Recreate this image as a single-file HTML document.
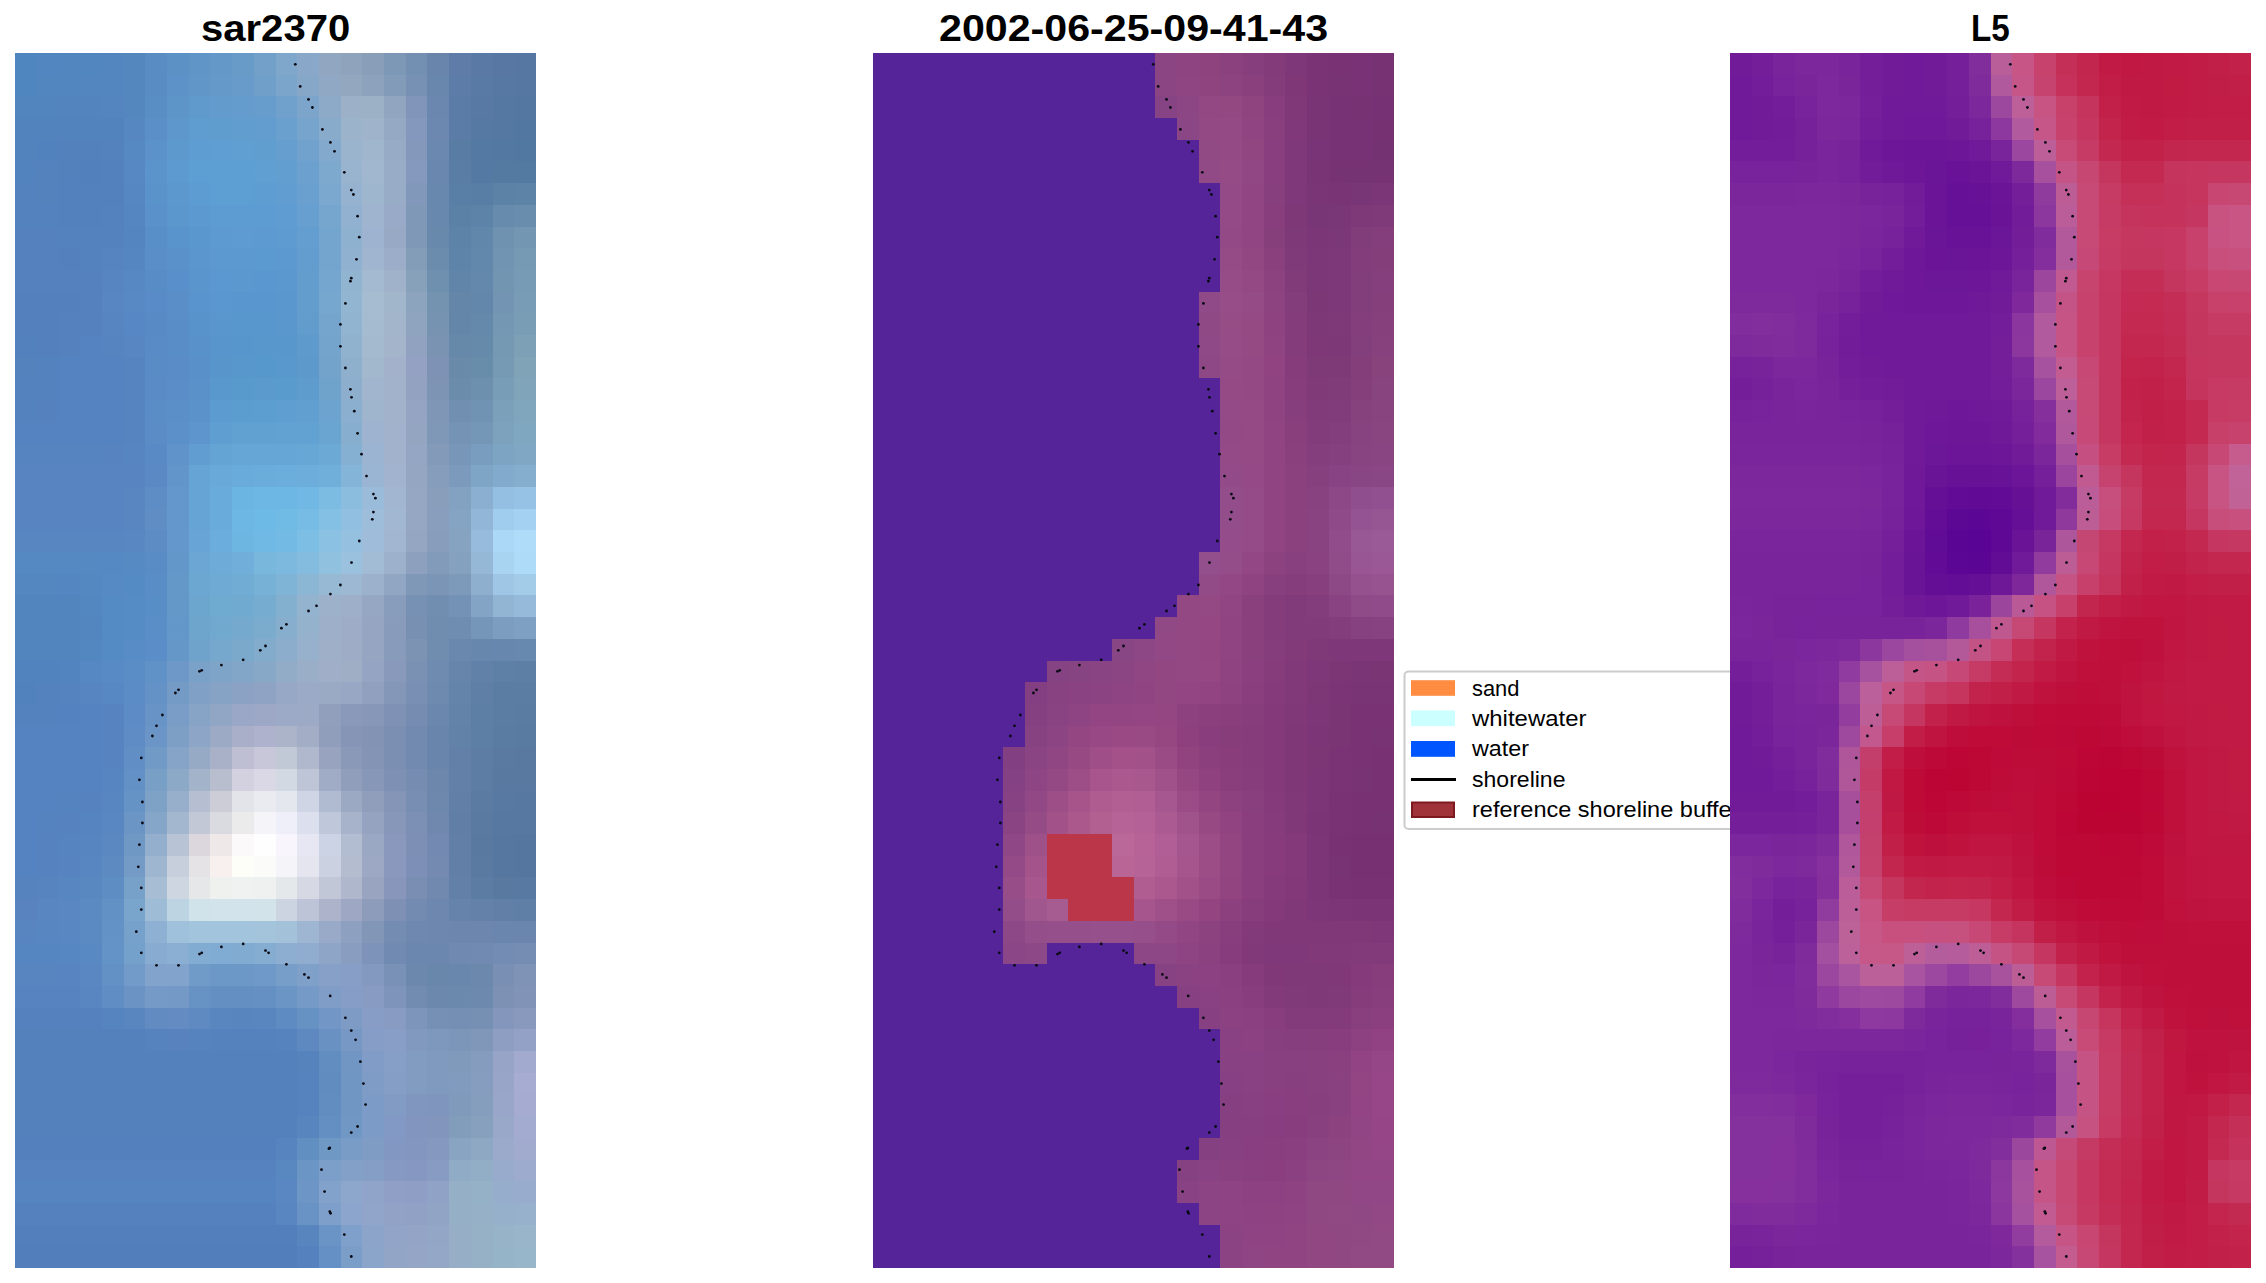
<!DOCTYPE html>
<html><head><meta charset="utf-8"><title>figure</title>
<style>
html,body{margin:0;padding:0;background:#fff;}
body{width:2266px;height:1283px;overflow:hidden;font-family:"Liberation Sans",sans-serif;}
svg{display:block;}
text{font-family:"Liberation Sans",sans-serif;}
body{position:relative;}
svg{position:absolute;left:0;top:0;}
.t{position:absolute;font-weight:bold;font-size:36.5px;line-height:36.5px;white-space:nowrap;color:#000;transform-origin:0 0;}
#lg{position:absolute;left:1404px;top:672px;width:326px;height:156px;overflow:hidden;}
.l{position:absolute;left:67.5px;font-size:22.6px;line-height:22.6px;white-space:nowrap;color:#000;transform-origin:0 0;}
</style></head><body>
<svg width="2266" height="1283" viewBox="0 0 2266 1283" shape-rendering="crispEdges">
<rect x="0" y="0" width="2266" height="1283" fill="#ffffff"/>
<g id="p1">
<rect x="15.00" y="53.00" width="22.21" height="22.20" fill="#5086c0"/>
<rect x="36.71" y="53.00" width="22.21" height="22.20" fill="#5186c0"/>
<rect x="58.42" y="53.00" width="43.92" height="22.20" fill="#5286bf"/>
<rect x="101.83" y="53.00" width="22.21" height="22.20" fill="#5386be"/>
<rect x="123.54" y="53.00" width="22.21" height="22.20" fill="#5587bf"/>
<rect x="145.25" y="53.00" width="22.21" height="22.20" fill="#588cc3"/>
<rect x="166.96" y="53.00" width="22.21" height="22.20" fill="#5c91c6"/>
<rect x="188.67" y="53.00" width="22.21" height="22.20" fill="#6095c7"/>
<rect x="210.38" y="53.00" width="22.21" height="22.20" fill="#6498c8"/>
<rect x="232.08" y="53.00" width="22.21" height="22.20" fill="#699bc8"/>
<rect x="253.79" y="53.00" width="22.21" height="22.20" fill="#73a0c9"/>
<rect x="275.50" y="53.00" width="22.21" height="22.20" fill="#7fa6cb"/>
<rect x="297.21" y="53.00" width="22.21" height="22.20" fill="#89a7c8"/>
<rect x="318.92" y="53.00" width="22.21" height="22.20" fill="#90a6c1"/>
<rect x="340.62" y="53.00" width="22.21" height="22.20" fill="#90a3bd"/>
<rect x="362.33" y="53.00" width="22.21" height="22.20" fill="#889eb9"/>
<rect x="384.04" y="53.00" width="22.21" height="22.20" fill="#7d98b6"/>
<rect x="405.75" y="53.00" width="22.21" height="22.20" fill="#738fb2"/>
<rect x="427.46" y="53.00" width="22.21" height="22.20" fill="#6985ac"/>
<rect x="449.17" y="53.00" width="22.21" height="22.20" fill="#5e7ca7"/>
<rect x="470.88" y="53.00" width="22.21" height="22.20" fill="#5a7aa5"/>
<rect x="492.58" y="53.00" width="22.21" height="22.20" fill="#5878a3"/>
<rect x="514.29" y="53.00" width="21.71" height="22.20" fill="#5677a2"/>
<rect x="15.00" y="74.70" width="22.21" height="22.20" fill="#5086bf"/>
<rect x="36.71" y="74.70" width="22.21" height="22.20" fill="#5186bf"/>
<rect x="58.42" y="74.70" width="22.21" height="22.20" fill="#5286bf"/>
<rect x="80.12" y="74.70" width="22.21" height="22.20" fill="#5386bf"/>
<rect x="101.83" y="74.70" width="22.21" height="22.20" fill="#5386be"/>
<rect x="123.54" y="74.70" width="22.21" height="22.20" fill="#5587bf"/>
<rect x="145.25" y="74.70" width="22.21" height="22.20" fill="#588cc3"/>
<rect x="166.96" y="74.70" width="22.21" height="22.20" fill="#5c92c7"/>
<rect x="188.67" y="74.70" width="22.21" height="22.20" fill="#6096c8"/>
<rect x="210.38" y="74.70" width="22.21" height="22.20" fill="#6499c9"/>
<rect x="232.08" y="74.70" width="22.21" height="22.20" fill="#689bc9"/>
<rect x="253.79" y="74.70" width="22.21" height="22.20" fill="#70a0ca"/>
<rect x="275.50" y="74.70" width="22.21" height="22.20" fill="#7ca5cb"/>
<rect x="297.21" y="74.70" width="22.21" height="22.20" fill="#87a7c8"/>
<rect x="318.92" y="74.70" width="22.21" height="22.20" fill="#90a8c3"/>
<rect x="340.62" y="74.70" width="22.21" height="22.20" fill="#93a7bf"/>
<rect x="362.33" y="74.70" width="22.21" height="22.20" fill="#8da2bd"/>
<rect x="384.04" y="74.70" width="22.21" height="22.20" fill="#829bb9"/>
<rect x="405.75" y="74.70" width="22.21" height="22.20" fill="#7691b4"/>
<rect x="427.46" y="74.70" width="22.21" height="22.20" fill="#6986ad"/>
<rect x="449.17" y="74.70" width="22.21" height="22.20" fill="#5d7ca7"/>
<rect x="470.88" y="74.70" width="22.21" height="22.20" fill="#597aa4"/>
<rect x="492.58" y="74.70" width="22.21" height="22.20" fill="#5778a3"/>
<rect x="514.29" y="74.70" width="21.71" height="22.20" fill="#5677a2"/>
<rect x="15.00" y="96.39" width="43.92" height="22.20" fill="#5284bd"/>
<rect x="58.42" y="96.39" width="43.92" height="22.20" fill="#5384bd"/>
<rect x="101.83" y="96.39" width="22.21" height="22.20" fill="#5485be"/>
<rect x="123.54" y="96.39" width="22.21" height="22.20" fill="#5587bf"/>
<rect x="145.25" y="96.39" width="22.21" height="22.20" fill="#598ec5"/>
<rect x="166.96" y="96.39" width="22.21" height="22.20" fill="#5d95c9"/>
<rect x="188.67" y="96.39" width="22.21" height="22.20" fill="#6099cc"/>
<rect x="210.38" y="96.39" width="22.21" height="22.20" fill="#629bcc"/>
<rect x="232.08" y="96.39" width="22.21" height="22.20" fill="#639ccd"/>
<rect x="253.79" y="96.39" width="22.21" height="22.20" fill="#679dcc"/>
<rect x="275.50" y="96.39" width="22.21" height="22.20" fill="#70a1cc"/>
<rect x="297.21" y="96.39" width="22.21" height="22.20" fill="#7da5cc"/>
<rect x="318.92" y="96.39" width="22.21" height="22.20" fill="#8dabc9"/>
<rect x="340.62" y="96.39" width="22.21" height="22.20" fill="#9cb1c7"/>
<rect x="362.33" y="96.39" width="22.21" height="22.20" fill="#9cb0c6"/>
<rect x="384.04" y="96.39" width="22.21" height="22.20" fill="#91a5c1"/>
<rect x="405.75" y="96.39" width="22.21" height="22.20" fill="#8195ba"/>
<rect x="427.46" y="96.39" width="22.21" height="22.20" fill="#6c87af"/>
<rect x="449.17" y="96.39" width="22.21" height="22.20" fill="#5b7ca6"/>
<rect x="470.88" y="96.39" width="22.21" height="22.20" fill="#5779a4"/>
<rect x="492.58" y="96.39" width="22.21" height="22.20" fill="#5578a2"/>
<rect x="514.29" y="96.39" width="21.71" height="22.20" fill="#5477a1"/>
<rect x="15.00" y="118.09" width="43.92" height="22.20" fill="#5283bd"/>
<rect x="58.42" y="118.09" width="65.62" height="22.20" fill="#5383bd"/>
<rect x="123.54" y="118.09" width="22.21" height="22.20" fill="#5687c1"/>
<rect x="145.25" y="118.09" width="22.21" height="22.20" fill="#5a90c7"/>
<rect x="166.96" y="118.09" width="22.21" height="22.20" fill="#5d97cb"/>
<rect x="188.67" y="118.09" width="22.21" height="22.20" fill="#5f9ccf"/>
<rect x="210.38" y="118.09" width="22.21" height="22.20" fill="#609dcf"/>
<rect x="232.08" y="118.09" width="22.21" height="22.20" fill="#619dcf"/>
<rect x="253.79" y="118.09" width="22.21" height="22.20" fill="#639dcf"/>
<rect x="275.50" y="118.09" width="22.21" height="22.20" fill="#6aa0ce"/>
<rect x="297.21" y="118.09" width="22.21" height="22.20" fill="#76a4cd"/>
<rect x="318.92" y="118.09" width="22.21" height="22.20" fill="#88abcc"/>
<rect x="340.62" y="118.09" width="22.21" height="22.20" fill="#9bb3cb"/>
<rect x="362.33" y="118.09" width="22.21" height="22.20" fill="#9fb4ca"/>
<rect x="384.04" y="118.09" width="22.21" height="22.20" fill="#96a9c4"/>
<rect x="405.75" y="118.09" width="22.21" height="22.20" fill="#8497bc"/>
<rect x="427.46" y="118.09" width="22.21" height="22.20" fill="#6c87b0"/>
<rect x="449.17" y="118.09" width="22.21" height="22.20" fill="#5a7ca6"/>
<rect x="470.88" y="118.09" width="22.21" height="22.20" fill="#5579a3"/>
<rect x="492.58" y="118.09" width="22.21" height="22.20" fill="#5478a1"/>
<rect x="514.29" y="118.09" width="21.71" height="22.20" fill="#5277a0"/>
<rect x="15.00" y="139.79" width="22.21" height="22.20" fill="#5383bd"/>
<rect x="36.71" y="139.79" width="22.21" height="22.20" fill="#5282bd"/>
<rect x="58.42" y="139.79" width="43.92" height="22.20" fill="#5281bc"/>
<rect x="101.83" y="139.79" width="22.21" height="22.20" fill="#5382bd"/>
<rect x="123.54" y="139.79" width="22.21" height="22.20" fill="#5688c2"/>
<rect x="145.25" y="139.79" width="22.21" height="22.20" fill="#5b92c9"/>
<rect x="166.96" y="139.79" width="22.21" height="22.20" fill="#5d99cd"/>
<rect x="188.67" y="139.79" width="22.21" height="22.20" fill="#5e9dd1"/>
<rect x="210.38" y="139.79" width="22.21" height="22.20" fill="#5f9ed2"/>
<rect x="232.08" y="139.79" width="22.21" height="22.20" fill="#5f9fd1"/>
<rect x="253.79" y="139.79" width="22.21" height="22.20" fill="#619ed0"/>
<rect x="275.50" y="139.79" width="22.21" height="22.20" fill="#669fcf"/>
<rect x="297.21" y="139.79" width="22.21" height="22.20" fill="#71a2ce"/>
<rect x="318.92" y="139.79" width="22.21" height="22.20" fill="#83aacd"/>
<rect x="340.62" y="139.79" width="22.21" height="22.20" fill="#9ab4cd"/>
<rect x="362.33" y="139.79" width="22.21" height="22.20" fill="#a0b6cc"/>
<rect x="384.04" y="139.79" width="22.21" height="22.20" fill="#97abc6"/>
<rect x="405.75" y="139.79" width="22.21" height="22.20" fill="#8498bc"/>
<rect x="427.46" y="139.79" width="22.21" height="22.20" fill="#6b88b0"/>
<rect x="449.17" y="139.79" width="22.21" height="22.20" fill="#597ca5"/>
<rect x="470.88" y="139.79" width="22.21" height="22.20" fill="#5479a2"/>
<rect x="492.58" y="139.79" width="22.21" height="22.20" fill="#5378a1"/>
<rect x="514.29" y="139.79" width="21.71" height="22.20" fill="#5178a0"/>
<rect x="15.00" y="161.48" width="22.21" height="22.20" fill="#5383be"/>
<rect x="36.71" y="161.48" width="22.21" height="22.20" fill="#5382bd"/>
<rect x="58.42" y="161.48" width="22.21" height="22.20" fill="#5281bc"/>
<rect x="80.12" y="161.48" width="22.21" height="22.20" fill="#5280bc"/>
<rect x="101.83" y="161.48" width="22.21" height="22.20" fill="#5381bd"/>
<rect x="123.54" y="161.48" width="22.21" height="22.20" fill="#5788c3"/>
<rect x="145.25" y="161.48" width="22.21" height="22.20" fill="#5b94ca"/>
<rect x="166.96" y="161.48" width="22.21" height="22.20" fill="#5c9acf"/>
<rect x="188.67" y="161.48" width="22.21" height="22.20" fill="#5d9ed3"/>
<rect x="210.38" y="161.48" width="22.21" height="22.20" fill="#5d9fd3"/>
<rect x="232.08" y="161.48" width="22.21" height="22.20" fill="#5e9fd3"/>
<rect x="253.79" y="161.48" width="22.21" height="22.20" fill="#5f9fd2"/>
<rect x="275.50" y="161.48" width="22.21" height="22.20" fill="#639ed0"/>
<rect x="297.21" y="161.48" width="22.21" height="22.20" fill="#6ca1cf"/>
<rect x="318.92" y="161.48" width="22.21" height="22.20" fill="#7ea9cf"/>
<rect x="340.62" y="161.48" width="22.21" height="22.20" fill="#98b4cf"/>
<rect x="362.33" y="161.48" width="22.21" height="22.20" fill="#a0b7cf"/>
<rect x="384.04" y="161.48" width="22.21" height="22.20" fill="#98acc7"/>
<rect x="405.75" y="161.48" width="22.21" height="22.20" fill="#8499bd"/>
<rect x="427.46" y="161.48" width="22.21" height="22.20" fill="#6a88af"/>
<rect x="449.17" y="161.48" width="22.21" height="22.20" fill="#597da5"/>
<rect x="470.88" y="161.48" width="22.21" height="22.20" fill="#547aa3"/>
<rect x="492.58" y="161.48" width="22.21" height="22.20" fill="#547aa2"/>
<rect x="514.29" y="161.48" width="21.71" height="22.20" fill="#537aa1"/>
<rect x="15.00" y="183.18" width="22.21" height="22.20" fill="#5482be"/>
<rect x="36.71" y="183.18" width="22.21" height="22.20" fill="#5382bd"/>
<rect x="58.42" y="183.18" width="65.62" height="22.20" fill="#5381bd"/>
<rect x="123.54" y="183.18" width="22.21" height="22.20" fill="#5687c2"/>
<rect x="145.25" y="183.18" width="22.21" height="22.20" fill="#5a93ca"/>
<rect x="166.96" y="183.18" width="22.21" height="22.20" fill="#5c98ce"/>
<rect x="188.67" y="183.18" width="22.21" height="22.20" fill="#5c9cd2"/>
<rect x="210.38" y="183.18" width="43.92" height="22.20" fill="#5d9ed3"/>
<rect x="253.79" y="183.18" width="22.21" height="22.20" fill="#5e9dd2"/>
<rect x="275.50" y="183.18" width="22.21" height="22.20" fill="#619dd0"/>
<rect x="297.21" y="183.18" width="22.21" height="22.20" fill="#69a0cf"/>
<rect x="318.92" y="183.18" width="22.21" height="22.20" fill="#7aa8cf"/>
<rect x="340.62" y="183.18" width="22.21" height="22.20" fill="#95b3d0"/>
<rect x="362.33" y="183.18" width="22.21" height="22.20" fill="#9fb6cf"/>
<rect x="384.04" y="183.18" width="22.21" height="22.20" fill="#98abc7"/>
<rect x="405.75" y="183.18" width="22.21" height="22.20" fill="#8298bb"/>
<rect x="427.46" y="183.18" width="22.21" height="22.20" fill="#6988ae"/>
<rect x="449.17" y="183.18" width="22.21" height="22.20" fill="#5a7fa6"/>
<rect x="470.88" y="183.18" width="22.21" height="22.20" fill="#587ea5"/>
<rect x="492.58" y="183.18" width="22.21" height="22.20" fill="#5c82a6"/>
<rect x="514.29" y="183.18" width="21.71" height="22.20" fill="#5d83a7"/>
<rect x="15.00" y="204.88" width="43.92" height="22.20" fill="#5482be"/>
<rect x="58.42" y="204.88" width="43.92" height="22.20" fill="#5381bd"/>
<rect x="101.83" y="204.88" width="22.21" height="22.20" fill="#5382be"/>
<rect x="123.54" y="204.88" width="22.21" height="22.20" fill="#5586c1"/>
<rect x="145.25" y="204.88" width="22.21" height="22.20" fill="#5a91ca"/>
<rect x="166.96" y="204.88" width="22.21" height="22.20" fill="#5b96cd"/>
<rect x="188.67" y="204.88" width="22.21" height="22.20" fill="#5c99d0"/>
<rect x="210.38" y="204.88" width="65.62" height="22.20" fill="#5d9cd2"/>
<rect x="275.50" y="204.88" width="22.21" height="22.20" fill="#5f9cd1"/>
<rect x="297.21" y="204.88" width="22.21" height="22.20" fill="#669fd0"/>
<rect x="318.92" y="204.88" width="22.21" height="22.20" fill="#76a6ce"/>
<rect x="340.62" y="204.88" width="22.21" height="22.20" fill="#92b1d0"/>
<rect x="362.33" y="204.88" width="22.21" height="22.20" fill="#9eb4cf"/>
<rect x="384.04" y="204.88" width="22.21" height="22.20" fill="#98aac7"/>
<rect x="405.75" y="204.88" width="22.21" height="22.20" fill="#8098b8"/>
<rect x="427.46" y="204.88" width="22.21" height="22.20" fill="#6888ad"/>
<rect x="449.17" y="204.88" width="22.21" height="22.20" fill="#5c81a7"/>
<rect x="470.88" y="204.88" width="22.21" height="22.20" fill="#5d84a8"/>
<rect x="492.58" y="204.88" width="22.21" height="22.20" fill="#668bac"/>
<rect x="514.29" y="204.88" width="21.71" height="22.20" fill="#698dad"/>
<rect x="15.00" y="226.57" width="43.92" height="22.20" fill="#5582be"/>
<rect x="58.42" y="226.57" width="65.62" height="22.20" fill="#5482be"/>
<rect x="123.54" y="226.57" width="22.21" height="22.20" fill="#5585c1"/>
<rect x="145.25" y="226.57" width="22.21" height="22.20" fill="#598fc9"/>
<rect x="166.96" y="226.57" width="22.21" height="22.20" fill="#5a94cc"/>
<rect x="188.67" y="226.57" width="22.21" height="22.20" fill="#5b97cf"/>
<rect x="210.38" y="226.57" width="22.21" height="22.20" fill="#5c9ad1"/>
<rect x="232.08" y="226.57" width="22.21" height="22.20" fill="#5d9bd2"/>
<rect x="253.79" y="226.57" width="22.21" height="22.20" fill="#5c9ad1"/>
<rect x="275.50" y="226.57" width="22.21" height="22.20" fill="#5d9bd1"/>
<rect x="297.21" y="226.57" width="22.21" height="22.20" fill="#649ed0"/>
<rect x="318.92" y="226.57" width="22.21" height="22.20" fill="#73a5ce"/>
<rect x="340.62" y="226.57" width="22.21" height="22.20" fill="#8fb1d0"/>
<rect x="362.33" y="226.57" width="22.21" height="22.20" fill="#9eb3cf"/>
<rect x="384.04" y="226.57" width="22.21" height="22.20" fill="#98a9c6"/>
<rect x="405.75" y="226.57" width="22.21" height="22.20" fill="#7f98b7"/>
<rect x="427.46" y="226.57" width="22.21" height="22.20" fill="#6889ac"/>
<rect x="449.17" y="226.57" width="22.21" height="22.20" fill="#5e83a9"/>
<rect x="470.88" y="226.57" width="22.21" height="22.20" fill="#6188ab"/>
<rect x="492.58" y="226.57" width="22.21" height="22.20" fill="#6f92b0"/>
<rect x="514.29" y="226.57" width="21.71" height="22.20" fill="#7396b3"/>
<rect x="15.00" y="248.27" width="43.92" height="22.20" fill="#5581be"/>
<rect x="58.42" y="248.27" width="22.21" height="22.20" fill="#5481be"/>
<rect x="80.12" y="248.27" width="22.21" height="22.20" fill="#5482be"/>
<rect x="101.83" y="248.27" width="22.21" height="22.20" fill="#5584c0"/>
<rect x="123.54" y="248.27" width="22.21" height="22.20" fill="#5686c2"/>
<rect x="145.25" y="248.27" width="22.21" height="22.20" fill="#598ec8"/>
<rect x="166.96" y="248.27" width="22.21" height="22.20" fill="#5a91cb"/>
<rect x="188.67" y="248.27" width="22.21" height="22.20" fill="#5b96ce"/>
<rect x="210.38" y="248.27" width="43.92" height="22.20" fill="#5c99d1"/>
<rect x="253.79" y="248.27" width="22.21" height="22.20" fill="#5b99d1"/>
<rect x="275.50" y="248.27" width="22.21" height="22.20" fill="#5c99d0"/>
<rect x="297.21" y="248.27" width="22.21" height="22.20" fill="#639dcf"/>
<rect x="318.92" y="248.27" width="22.21" height="22.20" fill="#73a5ce"/>
<rect x="340.62" y="248.27" width="22.21" height="22.20" fill="#90b2d0"/>
<rect x="362.33" y="248.27" width="22.21" height="22.20" fill="#a0b6d0"/>
<rect x="384.04" y="248.27" width="22.21" height="22.20" fill="#9badc8"/>
<rect x="405.75" y="248.27" width="22.21" height="22.20" fill="#839cb8"/>
<rect x="427.46" y="248.27" width="22.21" height="22.20" fill="#6b8cad"/>
<rect x="449.17" y="248.27" width="22.21" height="22.20" fill="#5f84a9"/>
<rect x="470.88" y="248.27" width="22.21" height="22.20" fill="#6288ab"/>
<rect x="492.58" y="248.27" width="22.21" height="22.20" fill="#7194b2"/>
<rect x="514.29" y="248.27" width="21.71" height="22.20" fill="#7699b4"/>
<rect x="15.00" y="269.96" width="65.62" height="22.20" fill="#5581be"/>
<rect x="80.12" y="269.96" width="22.21" height="22.20" fill="#5582bf"/>
<rect x="101.83" y="269.96" width="22.21" height="22.20" fill="#5685c1"/>
<rect x="123.54" y="269.96" width="22.21" height="22.20" fill="#5788c4"/>
<rect x="145.25" y="269.96" width="22.21" height="22.20" fill="#588cc7"/>
<rect x="166.96" y="269.96" width="22.21" height="22.20" fill="#598fca"/>
<rect x="188.67" y="269.96" width="22.21" height="22.20" fill="#5a95ce"/>
<rect x="210.38" y="269.96" width="22.21" height="22.20" fill="#5b97d0"/>
<rect x="232.08" y="269.96" width="22.21" height="22.20" fill="#5b98d0"/>
<rect x="253.79" y="269.96" width="22.21" height="22.20" fill="#5a97d0"/>
<rect x="275.50" y="269.96" width="22.21" height="22.20" fill="#5b98cf"/>
<rect x="297.21" y="269.96" width="22.21" height="22.20" fill="#639dce"/>
<rect x="318.92" y="269.96" width="22.21" height="22.20" fill="#74a6cf"/>
<rect x="340.62" y="269.96" width="22.21" height="22.20" fill="#91b4d1"/>
<rect x="362.33" y="269.96" width="22.21" height="22.20" fill="#a4bad1"/>
<rect x="384.04" y="269.96" width="22.21" height="22.20" fill="#9fb2ca"/>
<rect x="405.75" y="269.96" width="22.21" height="22.20" fill="#87a1bb"/>
<rect x="427.46" y="269.96" width="22.21" height="22.20" fill="#7090af"/>
<rect x="449.17" y="269.96" width="22.21" height="22.20" fill="#6185a9"/>
<rect x="470.88" y="269.96" width="22.21" height="22.20" fill="#6388ab"/>
<rect x="492.58" y="269.96" width="22.21" height="22.20" fill="#7295b2"/>
<rect x="514.29" y="269.96" width="21.71" height="22.20" fill="#779ab5"/>
<rect x="15.00" y="291.66" width="65.62" height="22.20" fill="#5580be"/>
<rect x="80.12" y="291.66" width="22.21" height="22.20" fill="#5581bf"/>
<rect x="101.83" y="291.66" width="22.21" height="22.20" fill="#5786c3"/>
<rect x="123.54" y="291.66" width="22.21" height="22.20" fill="#5889c5"/>
<rect x="145.25" y="291.66" width="22.21" height="22.20" fill="#588bc7"/>
<rect x="166.96" y="291.66" width="22.21" height="22.20" fill="#598ec9"/>
<rect x="188.67" y="291.66" width="22.21" height="22.20" fill="#5a94ce"/>
<rect x="210.38" y="291.66" width="22.21" height="22.20" fill="#5a96cf"/>
<rect x="232.08" y="291.66" width="43.92" height="22.20" fill="#5996cf"/>
<rect x="275.50" y="291.66" width="22.21" height="22.20" fill="#5b97cf"/>
<rect x="297.21" y="291.66" width="22.21" height="22.20" fill="#639dce"/>
<rect x="318.92" y="291.66" width="22.21" height="22.20" fill="#75a7cf"/>
<rect x="340.62" y="291.66" width="22.21" height="22.20" fill="#92b5d1"/>
<rect x="362.33" y="291.66" width="22.21" height="22.20" fill="#a6bdd1"/>
<rect x="384.04" y="291.66" width="22.21" height="22.20" fill="#a2b6cb"/>
<rect x="405.75" y="291.66" width="22.21" height="22.20" fill="#8ca4be"/>
<rect x="427.46" y="291.66" width="22.21" height="22.20" fill="#7493b0"/>
<rect x="449.17" y="291.66" width="22.21" height="22.20" fill="#6386a9"/>
<rect x="470.88" y="291.66" width="22.21" height="22.20" fill="#6387ab"/>
<rect x="492.58" y="291.66" width="22.21" height="22.20" fill="#7395b3"/>
<rect x="514.29" y="291.66" width="21.71" height="22.20" fill="#789bb6"/>
<rect x="15.00" y="313.36" width="22.21" height="22.20" fill="#5481bd"/>
<rect x="36.71" y="313.36" width="22.21" height="22.20" fill="#5481be"/>
<rect x="58.42" y="313.36" width="22.21" height="22.20" fill="#5581bf"/>
<rect x="80.12" y="313.36" width="22.21" height="22.20" fill="#5582bf"/>
<rect x="101.83" y="313.36" width="22.21" height="22.20" fill="#5785c2"/>
<rect x="123.54" y="313.36" width="22.21" height="22.20" fill="#5787c4"/>
<rect x="145.25" y="313.36" width="22.21" height="22.20" fill="#588bc6"/>
<rect x="166.96" y="313.36" width="22.21" height="22.20" fill="#598dc8"/>
<rect x="188.67" y="313.36" width="22.21" height="22.20" fill="#5993cc"/>
<rect x="210.38" y="313.36" width="22.21" height="22.20" fill="#5896cd"/>
<rect x="232.08" y="313.36" width="43.92" height="22.20" fill="#5896ce"/>
<rect x="275.50" y="313.36" width="22.21" height="22.20" fill="#5a97cd"/>
<rect x="297.21" y="313.36" width="22.21" height="22.20" fill="#619ccd"/>
<rect x="318.92" y="313.36" width="22.21" height="22.20" fill="#75a5cd"/>
<rect x="340.62" y="313.36" width="22.21" height="22.20" fill="#91b4d0"/>
<rect x="362.33" y="313.36" width="22.21" height="22.20" fill="#a5bcd0"/>
<rect x="384.04" y="313.36" width="22.21" height="22.20" fill="#a3b5cb"/>
<rect x="405.75" y="313.36" width="22.21" height="22.20" fill="#8fa4bf"/>
<rect x="427.46" y="313.36" width="22.21" height="22.20" fill="#7793b2"/>
<rect x="449.17" y="313.36" width="22.21" height="22.20" fill="#6487a9"/>
<rect x="470.88" y="313.36" width="22.21" height="22.20" fill="#6489ab"/>
<rect x="492.58" y="313.36" width="22.21" height="22.20" fill="#7497b3"/>
<rect x="514.29" y="313.36" width="21.71" height="22.20" fill="#7a9db6"/>
<rect x="15.00" y="335.05" width="22.21" height="22.20" fill="#5381bd"/>
<rect x="36.71" y="335.05" width="22.21" height="22.20" fill="#5481be"/>
<rect x="58.42" y="335.05" width="22.21" height="22.20" fill="#5581bf"/>
<rect x="80.12" y="335.05" width="22.21" height="22.20" fill="#5582c0"/>
<rect x="101.83" y="335.05" width="22.21" height="22.20" fill="#5684c1"/>
<rect x="123.54" y="335.05" width="22.21" height="22.20" fill="#5786c2"/>
<rect x="145.25" y="335.05" width="22.21" height="22.20" fill="#598bc6"/>
<rect x="166.96" y="335.05" width="22.21" height="22.20" fill="#598dc8"/>
<rect x="188.67" y="335.05" width="22.21" height="22.20" fill="#5991ca"/>
<rect x="210.38" y="335.05" width="22.21" height="22.20" fill="#5795cc"/>
<rect x="232.08" y="335.05" width="22.21" height="22.20" fill="#5796cc"/>
<rect x="253.79" y="335.05" width="22.21" height="22.20" fill="#5797cc"/>
<rect x="275.50" y="335.05" width="22.21" height="22.20" fill="#5897cc"/>
<rect x="297.21" y="335.05" width="22.21" height="22.20" fill="#5f9acc"/>
<rect x="318.92" y="335.05" width="22.21" height="22.20" fill="#74a4cb"/>
<rect x="340.62" y="335.05" width="22.21" height="22.20" fill="#90b2ce"/>
<rect x="362.33" y="335.05" width="22.21" height="22.20" fill="#a4bace"/>
<rect x="384.04" y="335.05" width="22.21" height="22.20" fill="#a3b4cb"/>
<rect x="405.75" y="335.05" width="22.21" height="22.20" fill="#91a2c1"/>
<rect x="427.46" y="335.05" width="22.21" height="22.20" fill="#7a93b3"/>
<rect x="449.17" y="335.05" width="22.21" height="22.20" fill="#6688a9"/>
<rect x="470.88" y="335.05" width="22.21" height="22.20" fill="#668baa"/>
<rect x="492.58" y="335.05" width="22.21" height="22.20" fill="#7598b3"/>
<rect x="514.29" y="335.05" width="21.71" height="22.20" fill="#7da0b7"/>
<rect x="15.00" y="356.75" width="22.21" height="22.20" fill="#5382bd"/>
<rect x="36.71" y="356.75" width="22.21" height="22.20" fill="#5482be"/>
<rect x="58.42" y="356.75" width="65.62" height="22.20" fill="#5582c0"/>
<rect x="123.54" y="356.75" width="22.21" height="22.20" fill="#5684c1"/>
<rect x="145.25" y="356.75" width="22.21" height="22.20" fill="#598bc5"/>
<rect x="166.96" y="356.75" width="22.21" height="22.20" fill="#5a8dc7"/>
<rect x="188.67" y="356.75" width="22.21" height="22.20" fill="#5990c9"/>
<rect x="210.38" y="356.75" width="22.21" height="22.20" fill="#5795cb"/>
<rect x="232.08" y="356.75" width="22.21" height="22.20" fill="#5797cc"/>
<rect x="253.79" y="356.75" width="22.21" height="22.20" fill="#5798cc"/>
<rect x="275.50" y="356.75" width="22.21" height="22.20" fill="#5898cc"/>
<rect x="297.21" y="356.75" width="22.21" height="22.20" fill="#5d9acb"/>
<rect x="318.92" y="356.75" width="22.21" height="22.20" fill="#73a2ca"/>
<rect x="340.62" y="356.75" width="22.21" height="22.20" fill="#8fb0cd"/>
<rect x="362.33" y="356.75" width="22.21" height="22.20" fill="#a2b8cd"/>
<rect x="384.04" y="356.75" width="22.21" height="22.20" fill="#a3b2ca"/>
<rect x="405.75" y="356.75" width="22.21" height="22.20" fill="#94a1c2"/>
<rect x="427.46" y="356.75" width="22.21" height="22.20" fill="#7d92b4"/>
<rect x="449.17" y="356.75" width="22.21" height="22.20" fill="#698aa9"/>
<rect x="470.88" y="356.75" width="22.21" height="22.20" fill="#688daa"/>
<rect x="492.58" y="356.75" width="22.21" height="22.20" fill="#769ab3"/>
<rect x="514.29" y="356.75" width="21.71" height="22.20" fill="#80a3b8"/>
<rect x="15.00" y="378.45" width="22.21" height="22.20" fill="#5382be"/>
<rect x="36.71" y="378.45" width="22.21" height="22.20" fill="#5482bf"/>
<rect x="58.42" y="378.45" width="65.62" height="22.20" fill="#5582c0"/>
<rect x="123.54" y="378.45" width="22.21" height="22.20" fill="#5684c1"/>
<rect x="145.25" y="378.45" width="22.21" height="22.20" fill="#5a8bc6"/>
<rect x="166.96" y="378.45" width="22.21" height="22.20" fill="#5b8ec8"/>
<rect x="188.67" y="378.45" width="22.21" height="22.20" fill="#5a91c9"/>
<rect x="210.38" y="378.45" width="22.21" height="22.20" fill="#5998cd"/>
<rect x="232.08" y="378.45" width="22.21" height="22.20" fill="#599acd"/>
<rect x="253.79" y="378.45" width="22.21" height="22.20" fill="#5a9acd"/>
<rect x="275.50" y="378.45" width="22.21" height="22.20" fill="#5a9bcd"/>
<rect x="297.21" y="378.45" width="22.21" height="22.20" fill="#5e9ccd"/>
<rect x="318.92" y="378.45" width="22.21" height="22.20" fill="#70a3cc"/>
<rect x="340.62" y="378.45" width="22.21" height="22.20" fill="#8dafcd"/>
<rect x="362.33" y="378.45" width="22.21" height="22.20" fill="#a1b6ce"/>
<rect x="384.04" y="378.45" width="22.21" height="22.20" fill="#a3b2cb"/>
<rect x="405.75" y="378.45" width="22.21" height="22.20" fill="#94a2c2"/>
<rect x="427.46" y="378.45" width="22.21" height="22.20" fill="#7e94b5"/>
<rect x="449.17" y="378.45" width="22.21" height="22.20" fill="#6c8cac"/>
<rect x="470.88" y="378.45" width="22.21" height="22.20" fill="#6c90ae"/>
<rect x="492.58" y="378.45" width="22.21" height="22.20" fill="#789db6"/>
<rect x="514.29" y="378.45" width="21.71" height="22.20" fill="#80a5bb"/>
<rect x="15.00" y="400.14" width="22.21" height="22.20" fill="#5482bf"/>
<rect x="36.71" y="400.14" width="22.21" height="22.20" fill="#5582bf"/>
<rect x="58.42" y="400.14" width="65.62" height="22.20" fill="#5582c0"/>
<rect x="123.54" y="400.14" width="22.21" height="22.20" fill="#5684c1"/>
<rect x="145.25" y="400.14" width="22.21" height="22.20" fill="#5a8cc6"/>
<rect x="166.96" y="400.14" width="22.21" height="22.20" fill="#5b8fc8"/>
<rect x="188.67" y="400.14" width="22.21" height="22.20" fill="#5b92ca"/>
<rect x="210.38" y="400.14" width="22.21" height="22.20" fill="#5c9bcf"/>
<rect x="232.08" y="400.14" width="22.21" height="22.20" fill="#5c9dd0"/>
<rect x="253.79" y="400.14" width="22.21" height="22.20" fill="#5d9ed0"/>
<rect x="275.50" y="400.14" width="22.21" height="22.20" fill="#5e9ed0"/>
<rect x="297.21" y="400.14" width="22.21" height="22.20" fill="#609fcf"/>
<rect x="318.92" y="400.14" width="22.21" height="22.20" fill="#6da3cf"/>
<rect x="340.62" y="400.14" width="22.21" height="22.20" fill="#8bafce"/>
<rect x="362.33" y="400.14" width="22.21" height="22.20" fill="#9fb5ce"/>
<rect x="384.04" y="400.14" width="22.21" height="22.20" fill="#a2b2cb"/>
<rect x="405.75" y="400.14" width="22.21" height="22.20" fill="#94a4c2"/>
<rect x="427.46" y="400.14" width="22.21" height="22.20" fill="#7f96b6"/>
<rect x="449.17" y="400.14" width="22.21" height="22.20" fill="#718fb0"/>
<rect x="470.88" y="400.14" width="22.21" height="22.20" fill="#7093b3"/>
<rect x="492.58" y="400.14" width="22.21" height="22.20" fill="#7aa0ba"/>
<rect x="514.29" y="400.14" width="21.71" height="22.20" fill="#80a6bd"/>
<rect x="15.00" y="421.84" width="109.04" height="22.20" fill="#5582c0"/>
<rect x="123.54" y="421.84" width="22.21" height="22.20" fill="#5684c1"/>
<rect x="145.25" y="421.84" width="22.21" height="22.20" fill="#5b8cc6"/>
<rect x="166.96" y="421.84" width="22.21" height="22.20" fill="#5c90c9"/>
<rect x="188.67" y="421.84" width="22.21" height="22.20" fill="#5d95cc"/>
<rect x="210.38" y="421.84" width="22.21" height="22.20" fill="#5f9ed1"/>
<rect x="232.08" y="421.84" width="22.21" height="22.20" fill="#60a1d2"/>
<rect x="253.79" y="421.84" width="22.21" height="22.20" fill="#61a1d2"/>
<rect x="275.50" y="421.84" width="22.21" height="22.20" fill="#61a2d2"/>
<rect x="297.21" y="421.84" width="22.21" height="22.20" fill="#62a2d2"/>
<rect x="318.92" y="421.84" width="22.21" height="22.20" fill="#6aa5d1"/>
<rect x="340.62" y="421.84" width="22.21" height="22.20" fill="#88aecf"/>
<rect x="362.33" y="421.84" width="22.21" height="22.20" fill="#9eb3cf"/>
<rect x="384.04" y="421.84" width="22.21" height="22.20" fill="#a2b2cc"/>
<rect x="405.75" y="421.84" width="22.21" height="22.20" fill="#94a5c2"/>
<rect x="427.46" y="421.84" width="22.21" height="22.20" fill="#8098b7"/>
<rect x="449.17" y="421.84" width="22.21" height="22.20" fill="#7593b4"/>
<rect x="470.88" y="421.84" width="22.21" height="22.20" fill="#7597b7"/>
<rect x="492.58" y="421.84" width="22.21" height="22.20" fill="#7ca2bd"/>
<rect x="514.29" y="421.84" width="21.71" height="22.20" fill="#80a7c0"/>
<rect x="15.00" y="443.54" width="87.33" height="22.20" fill="#5684c0"/>
<rect x="101.83" y="443.54" width="22.21" height="22.20" fill="#5784c1"/>
<rect x="123.54" y="443.54" width="22.21" height="22.20" fill="#5785c1"/>
<rect x="145.25" y="443.54" width="22.21" height="22.20" fill="#5a8ac5"/>
<rect x="166.96" y="443.54" width="22.21" height="22.20" fill="#5f93c9"/>
<rect x="188.67" y="443.54" width="22.21" height="22.20" fill="#629dd1"/>
<rect x="210.38" y="443.54" width="22.21" height="22.20" fill="#64a4d5"/>
<rect x="232.08" y="443.54" width="43.92" height="22.20" fill="#65a6d6"/>
<rect x="275.50" y="443.54" width="22.21" height="22.20" fill="#66a6d6"/>
<rect x="297.21" y="443.54" width="22.21" height="22.20" fill="#67a7d6"/>
<rect x="318.92" y="443.54" width="22.21" height="22.20" fill="#6ca9d5"/>
<rect x="340.62" y="443.54" width="22.21" height="22.20" fill="#86b0d2"/>
<rect x="362.33" y="443.54" width="22.21" height="22.20" fill="#9bb4d1"/>
<rect x="384.04" y="443.54" width="22.21" height="22.20" fill="#a2b2cd"/>
<rect x="405.75" y="443.54" width="22.21" height="22.20" fill="#94a6c3"/>
<rect x="427.46" y="443.54" width="22.21" height="22.20" fill="#839bb9"/>
<rect x="449.17" y="443.54" width="22.21" height="22.20" fill="#7896b8"/>
<rect x="470.88" y="443.54" width="22.21" height="22.20" fill="#799dbe"/>
<rect x="492.58" y="443.54" width="22.21" height="22.20" fill="#7da5c3"/>
<rect x="514.29" y="443.54" width="21.71" height="22.20" fill="#80a8c5"/>
<rect x="15.00" y="465.23" width="130.75" height="22.20" fill="#5885c1"/>
<rect x="145.25" y="465.23" width="22.21" height="22.20" fill="#5b89c3"/>
<rect x="166.96" y="465.23" width="22.21" height="22.20" fill="#6296ca"/>
<rect x="188.67" y="465.23" width="22.21" height="22.20" fill="#67a4d6"/>
<rect x="210.38" y="465.23" width="22.21" height="22.20" fill="#68a9d9"/>
<rect x="232.08" y="465.23" width="22.21" height="22.20" fill="#69acdb"/>
<rect x="253.79" y="465.23" width="22.21" height="22.20" fill="#6aaddb"/>
<rect x="275.50" y="465.23" width="22.21" height="22.20" fill="#6baddb"/>
<rect x="297.21" y="465.23" width="22.21" height="22.20" fill="#6caddb"/>
<rect x="318.92" y="465.23" width="22.21" height="22.20" fill="#71afdb"/>
<rect x="340.62" y="465.23" width="22.21" height="22.20" fill="#84b4d8"/>
<rect x="362.33" y="465.23" width="22.21" height="22.20" fill="#99b5d3"/>
<rect x="384.04" y="465.23" width="22.21" height="22.20" fill="#a1b3cf"/>
<rect x="405.75" y="465.23" width="22.21" height="22.20" fill="#95a6c3"/>
<rect x="427.46" y="465.23" width="22.21" height="22.20" fill="#869dbb"/>
<rect x="449.17" y="465.23" width="22.21" height="22.20" fill="#7c9bbc"/>
<rect x="470.88" y="465.23" width="22.21" height="22.20" fill="#7ea4c6"/>
<rect x="492.58" y="465.23" width="22.21" height="22.20" fill="#82aacc"/>
<rect x="514.29" y="465.23" width="21.71" height="22.20" fill="#84adce"/>
<rect x="15.00" y="486.93" width="109.04" height="22.20" fill="#5885c1"/>
<rect x="123.54" y="486.93" width="22.21" height="22.20" fill="#5986c1"/>
<rect x="145.25" y="486.93" width="22.21" height="22.20" fill="#5e8cc4"/>
<rect x="166.96" y="486.93" width="22.21" height="22.20" fill="#6497cb"/>
<rect x="188.67" y="486.93" width="22.21" height="22.20" fill="#67a4d6"/>
<rect x="210.38" y="486.93" width="22.21" height="22.20" fill="#69acdb"/>
<rect x="232.08" y="486.93" width="22.21" height="22.20" fill="#6bb5e2"/>
<rect x="253.79" y="486.93" width="22.21" height="22.20" fill="#6cb7e4"/>
<rect x="275.50" y="486.93" width="22.21" height="22.20" fill="#6db7e4"/>
<rect x="297.21" y="486.93" width="22.21" height="22.20" fill="#71b8e4"/>
<rect x="318.92" y="486.93" width="22.21" height="22.20" fill="#7cbbe2"/>
<rect x="340.62" y="486.93" width="22.21" height="22.20" fill="#8bbddf"/>
<rect x="362.33" y="486.93" width="22.21" height="22.20" fill="#9abcda"/>
<rect x="384.04" y="486.93" width="22.21" height="22.20" fill="#a2b6d1"/>
<rect x="405.75" y="486.93" width="22.21" height="22.20" fill="#96a7c4"/>
<rect x="427.46" y="486.93" width="22.21" height="22.20" fill="#889ebb"/>
<rect x="449.17" y="486.93" width="22.21" height="22.20" fill="#83a1c0"/>
<rect x="470.88" y="486.93" width="22.21" height="22.20" fill="#8aafd1"/>
<rect x="492.58" y="486.93" width="22.21" height="22.20" fill="#94bfe2"/>
<rect x="514.29" y="486.93" width="21.71" height="22.20" fill="#96c3e5"/>
<rect x="15.00" y="508.63" width="109.04" height="22.20" fill="#5885c1"/>
<rect x="123.54" y="508.63" width="22.21" height="22.20" fill="#5986c1"/>
<rect x="145.25" y="508.63" width="22.21" height="22.20" fill="#5f8dc4"/>
<rect x="166.96" y="508.63" width="22.21" height="22.20" fill="#6497cc"/>
<rect x="188.67" y="508.63" width="22.21" height="22.20" fill="#67a4d6"/>
<rect x="210.38" y="508.63" width="22.21" height="22.20" fill="#69acdc"/>
<rect x="232.08" y="508.63" width="22.21" height="22.20" fill="#6cb7e4"/>
<rect x="253.79" y="508.63" width="22.21" height="22.20" fill="#6dbae6"/>
<rect x="275.50" y="508.63" width="22.21" height="22.20" fill="#70bae6"/>
<rect x="297.21" y="508.63" width="22.21" height="22.20" fill="#77bce5"/>
<rect x="318.92" y="508.63" width="22.21" height="22.20" fill="#84c0e4"/>
<rect x="340.62" y="508.63" width="22.21" height="22.20" fill="#90bfe1"/>
<rect x="362.33" y="508.63" width="22.21" height="22.20" fill="#9dbddb"/>
<rect x="384.04" y="508.63" width="22.21" height="22.20" fill="#a2b7d1"/>
<rect x="405.75" y="508.63" width="22.21" height="22.20" fill="#96a7c4"/>
<rect x="427.46" y="508.63" width="22.21" height="22.20" fill="#899ebc"/>
<rect x="449.17" y="508.63" width="22.21" height="22.20" fill="#85a3c2"/>
<rect x="470.88" y="508.63" width="22.21" height="22.20" fill="#91b6d8"/>
<rect x="492.58" y="508.63" width="22.21" height="22.20" fill="#a0cced"/>
<rect x="514.29" y="508.63" width="21.71" height="22.20" fill="#a4d1f1"/>
<rect x="15.00" y="530.32" width="87.33" height="22.20" fill="#5786c1"/>
<rect x="101.83" y="530.32" width="22.21" height="22.20" fill="#5886c1"/>
<rect x="123.54" y="530.32" width="22.21" height="22.20" fill="#5887c2"/>
<rect x="145.25" y="530.32" width="22.21" height="22.20" fill="#5d8cc4"/>
<rect x="166.96" y="530.32" width="22.21" height="22.20" fill="#6497cb"/>
<rect x="188.67" y="530.32" width="22.21" height="22.20" fill="#68a4d6"/>
<rect x="210.38" y="530.32" width="22.21" height="22.20" fill="#6baddc"/>
<rect x="232.08" y="530.32" width="22.21" height="22.20" fill="#6db6e2"/>
<rect x="253.79" y="530.32" width="22.21" height="22.20" fill="#70b9e5"/>
<rect x="275.50" y="530.32" width="22.21" height="22.20" fill="#73bbe4"/>
<rect x="297.21" y="530.32" width="22.21" height="22.20" fill="#7dbee4"/>
<rect x="318.92" y="530.32" width="22.21" height="22.20" fill="#8bc2e3"/>
<rect x="340.62" y="530.32" width="22.21" height="22.20" fill="#95c0e0"/>
<rect x="362.33" y="530.32" width="22.21" height="22.20" fill="#9fbdda"/>
<rect x="384.04" y="530.32" width="22.21" height="22.20" fill="#a2b6d1"/>
<rect x="405.75" y="530.32" width="22.21" height="22.20" fill="#95a6c3"/>
<rect x="427.46" y="530.32" width="22.21" height="22.20" fill="#889dbb"/>
<rect x="449.17" y="530.32" width="22.21" height="22.20" fill="#86a3c2"/>
<rect x="470.88" y="530.32" width="22.21" height="22.20" fill="#96bbdc"/>
<rect x="492.58" y="530.32" width="22.21" height="22.20" fill="#aad8f6"/>
<rect x="514.29" y="530.32" width="21.71" height="22.20" fill="#afddf9"/>
<rect x="15.00" y="552.02" width="87.33" height="22.20" fill="#5589c2"/>
<rect x="101.83" y="552.02" width="22.21" height="22.20" fill="#5589c3"/>
<rect x="123.54" y="552.02" width="22.21" height="22.20" fill="#568ac3"/>
<rect x="145.25" y="552.02" width="22.21" height="22.20" fill="#598cc4"/>
<rect x="166.96" y="552.02" width="22.21" height="22.20" fill="#6397ca"/>
<rect x="188.67" y="552.02" width="22.21" height="22.20" fill="#6ca6d4"/>
<rect x="210.38" y="552.02" width="22.21" height="22.20" fill="#6eabd8"/>
<rect x="232.08" y="552.02" width="22.21" height="22.20" fill="#71afda"/>
<rect x="253.79" y="552.02" width="22.21" height="22.20" fill="#79b7dd"/>
<rect x="275.50" y="552.02" width="22.21" height="22.20" fill="#7db9de"/>
<rect x="297.21" y="552.02" width="22.21" height="22.20" fill="#83bcde"/>
<rect x="318.92" y="552.02" width="22.21" height="22.20" fill="#90c1df"/>
<rect x="340.62" y="552.02" width="22.21" height="22.20" fill="#9ac1dd"/>
<rect x="362.33" y="552.02" width="22.21" height="22.20" fill="#a2bcd6"/>
<rect x="384.04" y="552.02" width="22.21" height="22.20" fill="#9db0cc"/>
<rect x="405.75" y="552.02" width="22.21" height="22.20" fill="#8da1bf"/>
<rect x="427.46" y="552.02" width="22.21" height="22.20" fill="#839bba"/>
<rect x="449.17" y="552.02" width="22.21" height="22.20" fill="#85a1c0"/>
<rect x="470.88" y="552.02" width="22.21" height="22.20" fill="#95b8d7"/>
<rect x="492.58" y="552.02" width="22.21" height="22.20" fill="#a8d4f2"/>
<rect x="514.29" y="552.02" width="21.71" height="22.20" fill="#aedbf7"/>
<rect x="15.00" y="573.71" width="43.92" height="22.20" fill="#5487c0"/>
<rect x="58.42" y="573.71" width="22.21" height="22.20" fill="#5487c1"/>
<rect x="80.12" y="573.71" width="22.21" height="22.20" fill="#5488c1"/>
<rect x="101.83" y="573.71" width="22.21" height="22.20" fill="#558ac4"/>
<rect x="123.54" y="573.71" width="22.21" height="22.20" fill="#558bc4"/>
<rect x="145.25" y="573.71" width="22.21" height="22.20" fill="#588dc5"/>
<rect x="166.96" y="573.71" width="22.21" height="22.20" fill="#6398c9"/>
<rect x="188.67" y="573.71" width="22.21" height="22.20" fill="#6ca7d2"/>
<rect x="210.38" y="573.71" width="22.21" height="22.20" fill="#6faad4"/>
<rect x="232.08" y="573.71" width="22.21" height="22.20" fill="#71acd4"/>
<rect x="253.79" y="573.71" width="22.21" height="22.20" fill="#77b1d6"/>
<rect x="275.50" y="573.71" width="22.21" height="22.20" fill="#80b4d6"/>
<rect x="297.21" y="573.71" width="22.21" height="22.20" fill="#8bb7d5"/>
<rect x="318.92" y="573.71" width="22.21" height="22.20" fill="#97b9d4"/>
<rect x="340.62" y="573.71" width="22.21" height="22.20" fill="#9db8d2"/>
<rect x="362.33" y="573.71" width="22.21" height="22.20" fill="#9cb1cc"/>
<rect x="384.04" y="573.71" width="22.21" height="22.20" fill="#91a6c3"/>
<rect x="405.75" y="573.71" width="22.21" height="22.20" fill="#8098b8"/>
<rect x="427.46" y="573.71" width="22.21" height="22.20" fill="#7a95b6"/>
<rect x="449.17" y="573.71" width="22.21" height="22.20" fill="#7d9abb"/>
<rect x="470.88" y="573.71" width="22.21" height="22.20" fill="#8eafce"/>
<rect x="492.58" y="573.71" width="22.21" height="22.20" fill="#9fc6e4"/>
<rect x="514.29" y="573.71" width="21.71" height="22.20" fill="#a3cce9"/>
<rect x="15.00" y="595.41" width="65.62" height="22.20" fill="#5285be"/>
<rect x="80.12" y="595.41" width="22.21" height="22.20" fill="#5387c0"/>
<rect x="101.83" y="595.41" width="22.21" height="22.20" fill="#558bc5"/>
<rect x="123.54" y="595.41" width="22.21" height="22.20" fill="#568cc6"/>
<rect x="145.25" y="595.41" width="22.21" height="22.20" fill="#588ec6"/>
<rect x="166.96" y="595.41" width="22.21" height="22.20" fill="#6398c9"/>
<rect x="188.67" y="595.41" width="22.21" height="22.20" fill="#6ca6cf"/>
<rect x="210.38" y="595.41" width="22.21" height="22.20" fill="#6faad0"/>
<rect x="232.08" y="595.41" width="22.21" height="22.20" fill="#71aad0"/>
<rect x="253.79" y="595.41" width="22.21" height="22.20" fill="#75acd0"/>
<rect x="275.50" y="595.41" width="22.21" height="22.20" fill="#83b0cf"/>
<rect x="297.21" y="595.41" width="22.21" height="22.20" fill="#93b3ce"/>
<rect x="318.92" y="595.41" width="22.21" height="22.20" fill="#9db1ca"/>
<rect x="340.62" y="595.41" width="22.21" height="22.20" fill="#9eafc9"/>
<rect x="362.33" y="595.41" width="22.21" height="22.20" fill="#96a7c4"/>
<rect x="384.04" y="595.41" width="22.21" height="22.20" fill="#889cbb"/>
<rect x="405.75" y="595.41" width="22.21" height="22.20" fill="#7691b3"/>
<rect x="427.46" y="595.41" width="22.21" height="22.20" fill="#718eb1"/>
<rect x="449.17" y="595.41" width="22.21" height="22.20" fill="#7492b5"/>
<rect x="470.88" y="595.41" width="22.21" height="22.20" fill="#84a4c5"/>
<rect x="492.58" y="595.41" width="22.21" height="22.20" fill="#92b5d4"/>
<rect x="514.29" y="595.41" width="21.71" height="22.20" fill="#96bad9"/>
<rect x="15.00" y="617.11" width="65.62" height="22.20" fill="#5285be"/>
<rect x="80.12" y="617.11" width="22.21" height="22.20" fill="#5386bf"/>
<rect x="101.83" y="617.11" width="22.21" height="22.20" fill="#558bc5"/>
<rect x="123.54" y="617.11" width="22.21" height="22.20" fill="#568cc6"/>
<rect x="145.25" y="617.11" width="22.21" height="22.20" fill="#598ec7"/>
<rect x="166.96" y="617.11" width="22.21" height="22.20" fill="#6497c9"/>
<rect x="188.67" y="617.11" width="22.21" height="22.20" fill="#6da5cd"/>
<rect x="210.38" y="617.11" width="22.21" height="22.20" fill="#71a9ce"/>
<rect x="232.08" y="617.11" width="22.21" height="22.20" fill="#75aace"/>
<rect x="253.79" y="617.11" width="22.21" height="22.20" fill="#7bacce"/>
<rect x="275.50" y="617.11" width="22.21" height="22.20" fill="#87afcd"/>
<rect x="297.21" y="617.11" width="22.21" height="22.20" fill="#95b2cc"/>
<rect x="318.92" y="617.11" width="22.21" height="22.20" fill="#9eafc9"/>
<rect x="340.62" y="617.11" width="22.21" height="22.20" fill="#9eacc7"/>
<rect x="362.33" y="617.11" width="22.21" height="22.20" fill="#95a5c2"/>
<rect x="384.04" y="617.11" width="22.21" height="22.20" fill="#889bba"/>
<rect x="405.75" y="617.11" width="22.21" height="22.20" fill="#7891b3"/>
<rect x="427.46" y="617.11" width="22.21" height="22.20" fill="#708db0"/>
<rect x="449.17" y="617.11" width="22.21" height="22.20" fill="#6f8db1"/>
<rect x="470.88" y="617.11" width="22.21" height="22.20" fill="#7595b9"/>
<rect x="492.58" y="617.11" width="22.21" height="22.20" fill="#7c9dc0"/>
<rect x="514.29" y="617.11" width="21.71" height="22.20" fill="#7ea0c3"/>
<rect x="15.00" y="638.80" width="22.21" height="22.20" fill="#5284be"/>
<rect x="36.71" y="638.80" width="43.92" height="22.20" fill="#5285be"/>
<rect x="80.12" y="638.80" width="22.21" height="22.20" fill="#5387c0"/>
<rect x="101.83" y="638.80" width="22.21" height="22.20" fill="#558bc5"/>
<rect x="123.54" y="638.80" width="22.21" height="22.20" fill="#578cc7"/>
<rect x="145.25" y="638.80" width="22.21" height="22.20" fill="#5b8ec8"/>
<rect x="166.96" y="638.80" width="22.21" height="22.20" fill="#6597c9"/>
<rect x="188.67" y="638.80" width="22.21" height="22.20" fill="#6fa3cc"/>
<rect x="210.38" y="638.80" width="22.21" height="22.20" fill="#75a8cc"/>
<rect x="232.08" y="638.80" width="22.21" height="22.20" fill="#7aa9cc"/>
<rect x="253.79" y="638.80" width="22.21" height="22.20" fill="#82abcc"/>
<rect x="275.50" y="638.80" width="22.21" height="22.20" fill="#8caecc"/>
<rect x="297.21" y="638.80" width="22.21" height="22.20" fill="#97b1cc"/>
<rect x="318.92" y="638.80" width="22.21" height="22.20" fill="#9fafc8"/>
<rect x="340.62" y="638.80" width="22.21" height="22.20" fill="#9facc6"/>
<rect x="362.33" y="638.80" width="22.21" height="22.20" fill="#96a5c2"/>
<rect x="384.04" y="638.80" width="22.21" height="22.20" fill="#899bbb"/>
<rect x="405.75" y="638.80" width="22.21" height="22.20" fill="#7c93b4"/>
<rect x="427.46" y="638.80" width="22.21" height="22.20" fill="#708caf"/>
<rect x="449.17" y="638.80" width="22.21" height="22.20" fill="#6a88ad"/>
<rect x="470.88" y="638.80" width="22.21" height="22.20" fill="#6787ad"/>
<rect x="492.58" y="638.80" width="22.21" height="22.20" fill="#6787ae"/>
<rect x="514.29" y="638.80" width="21.71" height="22.20" fill="#6788af"/>
<rect x="15.00" y="660.50" width="43.92" height="22.20" fill="#5183be"/>
<rect x="58.42" y="660.50" width="22.21" height="22.20" fill="#5284bf"/>
<rect x="80.12" y="660.50" width="22.21" height="22.20" fill="#5688c3"/>
<rect x="101.83" y="660.50" width="22.21" height="22.20" fill="#588ac5"/>
<rect x="123.54" y="660.50" width="22.21" height="22.20" fill="#5a8cc6"/>
<rect x="145.25" y="660.50" width="22.21" height="22.20" fill="#6091c7"/>
<rect x="166.96" y="660.50" width="22.21" height="22.20" fill="#6d98c8"/>
<rect x="188.67" y="660.50" width="22.21" height="22.20" fill="#7aa2c8"/>
<rect x="210.38" y="660.50" width="22.21" height="22.20" fill="#7ea5c8"/>
<rect x="232.08" y="660.50" width="22.21" height="22.20" fill="#81a6c8"/>
<rect x="253.79" y="660.50" width="22.21" height="22.20" fill="#88a8c8"/>
<rect x="275.50" y="660.50" width="22.21" height="22.20" fill="#92acc8"/>
<rect x="297.21" y="660.50" width="22.21" height="22.20" fill="#9aaec8"/>
<rect x="318.92" y="660.50" width="22.21" height="22.20" fill="#a0afc7"/>
<rect x="340.62" y="660.50" width="22.21" height="22.20" fill="#9fadc5"/>
<rect x="362.33" y="660.50" width="22.21" height="22.20" fill="#95a4c2"/>
<rect x="384.04" y="660.50" width="22.21" height="22.20" fill="#8899bb"/>
<rect x="405.75" y="660.50" width="22.21" height="22.20" fill="#7b91b4"/>
<rect x="427.46" y="660.50" width="22.21" height="22.20" fill="#6f8baf"/>
<rect x="449.17" y="660.50" width="22.21" height="22.20" fill="#6785ab"/>
<rect x="470.88" y="660.50" width="22.21" height="22.20" fill="#6281a8"/>
<rect x="492.58" y="660.50" width="22.21" height="22.20" fill="#5e7fa6"/>
<rect x="514.29" y="660.50" width="21.71" height="22.20" fill="#5e7fa5"/>
<rect x="15.00" y="682.20" width="22.21" height="22.20" fill="#5282be"/>
<rect x="36.71" y="682.20" width="22.21" height="22.20" fill="#5382bf"/>
<rect x="58.42" y="682.20" width="22.21" height="22.20" fill="#5483bf"/>
<rect x="80.12" y="682.20" width="22.21" height="22.20" fill="#5685c1"/>
<rect x="101.83" y="682.20" width="22.21" height="22.20" fill="#5888c3"/>
<rect x="123.54" y="682.20" width="22.21" height="22.20" fill="#5c8cc6"/>
<rect x="145.25" y="682.20" width="22.21" height="22.20" fill="#6492c6"/>
<rect x="166.96" y="682.20" width="22.21" height="22.20" fill="#749ac6"/>
<rect x="188.67" y="682.20" width="22.21" height="22.20" fill="#81a0c5"/>
<rect x="210.38" y="682.20" width="22.21" height="22.20" fill="#86a2c4"/>
<rect x="232.08" y="682.20" width="22.21" height="22.20" fill="#8ca2c4"/>
<rect x="253.79" y="682.20" width="22.21" height="22.20" fill="#8fa4c5"/>
<rect x="275.50" y="682.20" width="22.21" height="22.20" fill="#96a8c6"/>
<rect x="297.21" y="682.20" width="22.21" height="22.20" fill="#9baac6"/>
<rect x="318.92" y="682.20" width="22.21" height="22.20" fill="#9aa9c4"/>
<rect x="340.62" y="682.20" width="22.21" height="22.20" fill="#98a7c3"/>
<rect x="362.33" y="682.20" width="22.21" height="22.20" fill="#91a0bf"/>
<rect x="384.04" y="682.20" width="22.21" height="22.20" fill="#8597b9"/>
<rect x="405.75" y="682.20" width="22.21" height="22.20" fill="#7990b4"/>
<rect x="427.46" y="682.20" width="22.21" height="22.20" fill="#6e8aae"/>
<rect x="449.17" y="682.20" width="22.21" height="22.20" fill="#6584a9"/>
<rect x="470.88" y="682.20" width="22.21" height="22.20" fill="#5f7fa6"/>
<rect x="492.58" y="682.20" width="22.21" height="22.20" fill="#5c7da3"/>
<rect x="514.29" y="682.20" width="21.71" height="22.20" fill="#5b7ca3"/>
<rect x="15.00" y="703.89" width="43.92" height="22.20" fill="#5482bf"/>
<rect x="58.42" y="703.89" width="22.21" height="22.20" fill="#5482c0"/>
<rect x="80.12" y="703.89" width="22.21" height="22.20" fill="#5582c0"/>
<rect x="101.83" y="703.89" width="22.21" height="22.20" fill="#5784c1"/>
<rect x="123.54" y="703.89" width="22.21" height="22.20" fill="#5d8bc5"/>
<rect x="145.25" y="703.89" width="22.21" height="22.20" fill="#6793c6"/>
<rect x="166.96" y="703.89" width="22.21" height="22.20" fill="#799dc6"/>
<rect x="188.67" y="703.89" width="22.21" height="22.20" fill="#87a3c5"/>
<rect x="210.38" y="703.89" width="22.21" height="22.20" fill="#91a5c4"/>
<rect x="232.08" y="703.89" width="22.21" height="22.20" fill="#9aa7c6"/>
<rect x="253.79" y="703.89" width="22.21" height="22.20" fill="#9ca8c6"/>
<rect x="275.50" y="703.89" width="22.21" height="22.20" fill="#9daac7"/>
<rect x="297.21" y="703.89" width="22.21" height="22.20" fill="#9daac5"/>
<rect x="318.92" y="703.89" width="22.21" height="22.20" fill="#919fbd"/>
<rect x="340.62" y="703.89" width="22.21" height="22.20" fill="#8a99b9"/>
<rect x="362.33" y="703.89" width="22.21" height="22.20" fill="#8797b7"/>
<rect x="384.04" y="703.89" width="22.21" height="22.20" fill="#7f92b5"/>
<rect x="405.75" y="703.89" width="22.21" height="22.20" fill="#768cb1"/>
<rect x="427.46" y="703.89" width="22.21" height="22.20" fill="#6c87ad"/>
<rect x="449.17" y="703.89" width="22.21" height="22.20" fill="#6483a9"/>
<rect x="470.88" y="703.89" width="22.21" height="22.20" fill="#5e7fa5"/>
<rect x="492.58" y="703.89" width="22.21" height="22.20" fill="#5b7ca3"/>
<rect x="514.29" y="703.89" width="21.71" height="22.20" fill="#5a7ba2"/>
<rect x="15.00" y="725.59" width="87.33" height="22.20" fill="#5582c0"/>
<rect x="101.83" y="725.59" width="22.21" height="22.20" fill="#5784c1"/>
<rect x="123.54" y="725.59" width="22.21" height="22.20" fill="#5f8cc5"/>
<rect x="145.25" y="725.59" width="22.21" height="22.20" fill="#6b95c6"/>
<rect x="166.96" y="725.59" width="22.21" height="22.20" fill="#7d9fc6"/>
<rect x="188.67" y="725.59" width="22.21" height="22.20" fill="#8da5c6"/>
<rect x="210.38" y="725.59" width="22.21" height="22.20" fill="#9caac5"/>
<rect x="232.08" y="725.59" width="22.21" height="22.20" fill="#aaafc9"/>
<rect x="253.79" y="725.59" width="22.21" height="22.20" fill="#afb2cd"/>
<rect x="275.50" y="725.59" width="22.21" height="22.20" fill="#acb4ca"/>
<rect x="297.21" y="725.59" width="22.21" height="22.20" fill="#a3aec6"/>
<rect x="318.92" y="725.59" width="22.21" height="22.20" fill="#909dbb"/>
<rect x="340.62" y="725.59" width="22.21" height="22.20" fill="#8695b6"/>
<rect x="362.33" y="725.59" width="22.21" height="22.20" fill="#8293b4"/>
<rect x="384.04" y="725.59" width="22.21" height="22.20" fill="#7b8fb2"/>
<rect x="405.75" y="725.59" width="22.21" height="22.20" fill="#738ab0"/>
<rect x="427.46" y="725.59" width="22.21" height="22.20" fill="#6a85ab"/>
<rect x="449.17" y="725.59" width="22.21" height="22.20" fill="#6382a8"/>
<rect x="470.88" y="725.59" width="22.21" height="22.20" fill="#5e7fa5"/>
<rect x="492.58" y="725.59" width="22.21" height="22.20" fill="#5a7ba2"/>
<rect x="514.29" y="725.59" width="21.71" height="22.20" fill="#597aa1"/>
<rect x="15.00" y="747.29" width="87.33" height="22.20" fill="#5582c0"/>
<rect x="101.83" y="747.29" width="22.21" height="22.20" fill="#5784c1"/>
<rect x="123.54" y="747.29" width="22.21" height="22.20" fill="#618fc5"/>
<rect x="145.25" y="747.29" width="22.21" height="22.20" fill="#729ac6"/>
<rect x="166.96" y="747.29" width="22.21" height="22.20" fill="#85a4c7"/>
<rect x="188.67" y="747.29" width="22.21" height="22.20" fill="#96aac6"/>
<rect x="210.38" y="747.29" width="22.21" height="22.20" fill="#a8b1c7"/>
<rect x="232.08" y="747.29" width="22.21" height="22.20" fill="#bebfd3"/>
<rect x="253.79" y="747.29" width="22.21" height="22.20" fill="#c7c7d9"/>
<rect x="275.50" y="747.29" width="22.21" height="22.20" fill="#c1c8d6"/>
<rect x="297.21" y="747.29" width="22.21" height="22.20" fill="#afb8cd"/>
<rect x="318.92" y="747.29" width="22.21" height="22.20" fill="#98a4bf"/>
<rect x="340.62" y="747.29" width="22.21" height="22.20" fill="#8a99b7"/>
<rect x="362.33" y="747.29" width="22.21" height="22.20" fill="#8394b4"/>
<rect x="384.04" y="747.29" width="22.21" height="22.20" fill="#7b8fb2"/>
<rect x="405.75" y="747.29" width="22.21" height="22.20" fill="#738ab0"/>
<rect x="427.46" y="747.29" width="22.21" height="22.20" fill="#6a85ab"/>
<rect x="449.17" y="747.29" width="22.21" height="22.20" fill="#6381a8"/>
<rect x="470.88" y="747.29" width="22.21" height="22.20" fill="#5e7da4"/>
<rect x="492.58" y="747.29" width="22.21" height="22.20" fill="#5a7aa2"/>
<rect x="514.29" y="747.29" width="21.71" height="22.20" fill="#5979a1"/>
<rect x="15.00" y="768.98" width="87.33" height="22.20" fill="#5582c0"/>
<rect x="101.83" y="768.98" width="22.21" height="22.20" fill="#5785c1"/>
<rect x="123.54" y="768.98" width="22.21" height="22.20" fill="#6391c5"/>
<rect x="145.25" y="768.98" width="22.21" height="22.20" fill="#789fc6"/>
<rect x="166.96" y="768.98" width="22.21" height="22.20" fill="#8da9c8"/>
<rect x="188.67" y="768.98" width="22.21" height="22.20" fill="#a2b3ca"/>
<rect x="210.38" y="768.98" width="22.21" height="22.20" fill="#b9becf"/>
<rect x="232.08" y="768.98" width="22.21" height="22.20" fill="#d3d1e0"/>
<rect x="253.79" y="768.98" width="22.21" height="22.20" fill="#d9d8e4"/>
<rect x="275.50" y="768.98" width="22.21" height="22.20" fill="#d3d9e3"/>
<rect x="297.21" y="768.98" width="22.21" height="22.20" fill="#bdc5d7"/>
<rect x="318.92" y="768.98" width="22.21" height="22.20" fill="#a0acc6"/>
<rect x="340.62" y="768.98" width="22.21" height="22.20" fill="#909ebb"/>
<rect x="362.33" y="768.98" width="22.21" height="22.20" fill="#8797b7"/>
<rect x="384.04" y="768.98" width="22.21" height="22.20" fill="#7e91b4"/>
<rect x="405.75" y="768.98" width="22.21" height="22.20" fill="#768cb1"/>
<rect x="427.46" y="768.98" width="22.21" height="22.20" fill="#6c86ac"/>
<rect x="449.17" y="768.98" width="22.21" height="22.20" fill="#6381a8"/>
<rect x="470.88" y="768.98" width="22.21" height="22.20" fill="#5e7da4"/>
<rect x="492.58" y="768.98" width="43.42" height="22.20" fill="#5979a1"/>
<rect x="15.00" y="790.68" width="43.92" height="22.20" fill="#5582c0"/>
<rect x="58.42" y="790.68" width="22.21" height="22.20" fill="#5583c0"/>
<rect x="80.12" y="790.68" width="22.21" height="22.20" fill="#5683c0"/>
<rect x="101.83" y="790.68" width="22.21" height="22.20" fill="#5886c1"/>
<rect x="123.54" y="790.68" width="22.21" height="22.20" fill="#6693c5"/>
<rect x="145.25" y="790.68" width="22.21" height="22.20" fill="#7da2c6"/>
<rect x="166.96" y="790.68" width="22.21" height="22.20" fill="#97afca"/>
<rect x="188.67" y="790.68" width="22.21" height="22.20" fill="#b6bed1"/>
<rect x="210.38" y="790.68" width="22.21" height="22.20" fill="#cdcdd8"/>
<rect x="232.08" y="790.68" width="22.21" height="22.20" fill="#e3e3ea"/>
<rect x="253.79" y="790.68" width="22.21" height="22.20" fill="#eaeaf1"/>
<rect x="275.50" y="790.68" width="22.21" height="22.20" fill="#e5e7ef"/>
<rect x="297.21" y="790.68" width="22.21" height="22.20" fill="#cfd5e5"/>
<rect x="318.92" y="790.68" width="22.21" height="22.20" fill="#b0bad1"/>
<rect x="340.62" y="790.68" width="22.21" height="22.20" fill="#9ca9c3"/>
<rect x="362.33" y="790.68" width="22.21" height="22.20" fill="#909ebc"/>
<rect x="384.04" y="790.68" width="22.21" height="22.20" fill="#8495b8"/>
<rect x="405.75" y="790.68" width="22.21" height="22.20" fill="#798eb3"/>
<rect x="427.46" y="790.68" width="22.21" height="22.20" fill="#6e87ad"/>
<rect x="449.17" y="790.68" width="22.21" height="22.20" fill="#6280a7"/>
<rect x="470.88" y="790.68" width="22.21" height="22.20" fill="#5b7ba3"/>
<rect x="492.58" y="790.68" width="22.21" height="22.20" fill="#5879a1"/>
<rect x="514.29" y="790.68" width="21.71" height="22.20" fill="#5778a0"/>
<rect x="15.00" y="812.38" width="22.21" height="22.20" fill="#5582c0"/>
<rect x="36.71" y="812.38" width="22.21" height="22.20" fill="#5583c0"/>
<rect x="58.42" y="812.38" width="22.21" height="22.20" fill="#5683c0"/>
<rect x="80.12" y="812.38" width="22.21" height="22.20" fill="#5684c0"/>
<rect x="101.83" y="812.38" width="22.21" height="22.20" fill="#5987c1"/>
<rect x="123.54" y="812.38" width="22.21" height="22.20" fill="#6b95c5"/>
<rect x="145.25" y="812.38" width="22.21" height="22.20" fill="#85a6c8"/>
<rect x="166.96" y="812.38" width="22.21" height="22.20" fill="#a3b7ce"/>
<rect x="188.67" y="812.38" width="22.21" height="22.20" fill="#c3c8d7"/>
<rect x="210.38" y="812.38" width="22.21" height="22.20" fill="#dadae1"/>
<rect x="232.08" y="812.38" width="22.21" height="22.20" fill="#ebebec"/>
<rect x="253.79" y="812.38" width="22.21" height="22.20" fill="#f4f4f9"/>
<rect x="275.50" y="812.38" width="22.21" height="22.20" fill="#efeff9"/>
<rect x="297.21" y="812.38" width="22.21" height="22.20" fill="#dce0ee"/>
<rect x="318.92" y="812.38" width="22.21" height="22.20" fill="#bec8da"/>
<rect x="340.62" y="812.38" width="22.21" height="22.20" fill="#a7b3ca"/>
<rect x="362.33" y="812.38" width="22.21" height="22.20" fill="#96a3c0"/>
<rect x="384.04" y="812.38" width="22.21" height="22.20" fill="#8797ba"/>
<rect x="405.75" y="812.38" width="22.21" height="22.20" fill="#7c90b5"/>
<rect x="427.46" y="812.38" width="22.21" height="22.20" fill="#7088ae"/>
<rect x="449.17" y="812.38" width="22.21" height="22.20" fill="#617fa6"/>
<rect x="470.88" y="812.38" width="22.21" height="22.20" fill="#5a7aa2"/>
<rect x="492.58" y="812.38" width="43.42" height="22.20" fill="#5778a0"/>
<rect x="15.00" y="834.07" width="22.21" height="22.20" fill="#5582c0"/>
<rect x="36.71" y="834.07" width="22.21" height="22.20" fill="#5683c0"/>
<rect x="58.42" y="834.07" width="22.21" height="22.20" fill="#5684c0"/>
<rect x="80.12" y="834.07" width="22.21" height="22.20" fill="#5785c0"/>
<rect x="101.83" y="834.07" width="22.21" height="22.20" fill="#5b88c1"/>
<rect x="123.54" y="834.07" width="22.21" height="22.20" fill="#7098c5"/>
<rect x="145.25" y="834.07" width="22.21" height="22.20" fill="#94aecd"/>
<rect x="166.96" y="834.07" width="22.21" height="22.20" fill="#b8c3d6"/>
<rect x="188.67" y="834.07" width="22.21" height="22.20" fill="#dbd7dc"/>
<rect x="210.38" y="834.07" width="22.21" height="22.20" fill="#efe8e8"/>
<rect x="232.08" y="834.07" width="22.21" height="22.20" fill="#fbf9f9"/>
<rect x="253.79" y="834.07" width="22.21" height="22.20" fill="#fefefe"/>
<rect x="275.50" y="834.07" width="22.21" height="22.20" fill="#f9f5fc"/>
<rect x="297.21" y="834.07" width="22.21" height="22.20" fill="#e7e7f4"/>
<rect x="318.92" y="834.07" width="22.21" height="22.20" fill="#ccd3e5"/>
<rect x="340.62" y="834.07" width="22.21" height="22.20" fill="#b3bdd1"/>
<rect x="362.33" y="834.07" width="22.21" height="22.20" fill="#9ba8c4"/>
<rect x="384.04" y="834.07" width="22.21" height="22.20" fill="#8998bc"/>
<rect x="405.75" y="834.07" width="22.21" height="22.20" fill="#7e8fb6"/>
<rect x="427.46" y="834.07" width="22.21" height="22.20" fill="#7489b1"/>
<rect x="449.17" y="834.07" width="22.21" height="22.20" fill="#617fa7"/>
<rect x="470.88" y="834.07" width="22.21" height="22.20" fill="#5979a1"/>
<rect x="492.58" y="834.07" width="22.21" height="22.20" fill="#56779f"/>
<rect x="514.29" y="834.07" width="21.71" height="22.20" fill="#55769e"/>
<rect x="15.00" y="855.77" width="22.21" height="22.20" fill="#5582c0"/>
<rect x="36.71" y="855.77" width="22.21" height="22.20" fill="#5683c0"/>
<rect x="58.42" y="855.77" width="22.21" height="22.20" fill="#5784c0"/>
<rect x="80.12" y="855.77" width="22.21" height="22.20" fill="#5886c0"/>
<rect x="101.83" y="855.77" width="22.21" height="22.20" fill="#5c8ac1"/>
<rect x="123.54" y="855.77" width="22.21" height="22.20" fill="#749bc6"/>
<rect x="145.25" y="855.77" width="22.21" height="22.20" fill="#9fb6d0"/>
<rect x="166.96" y="855.77" width="22.21" height="22.20" fill="#c7cfdc"/>
<rect x="188.67" y="855.77" width="22.21" height="22.20" fill="#e5e3e6"/>
<rect x="210.38" y="855.77" width="22.21" height="22.20" fill="#f7f0ee"/>
<rect x="232.08" y="855.77" width="22.21" height="22.20" fill="#fefef9"/>
<rect x="253.79" y="855.77" width="22.21" height="22.20" fill="#fbfbfa"/>
<rect x="275.50" y="855.77" width="22.21" height="22.20" fill="#f4f4f9"/>
<rect x="297.21" y="855.77" width="22.21" height="22.20" fill="#e5e5ef"/>
<rect x="318.92" y="855.77" width="22.21" height="22.20" fill="#ccd1e1"/>
<rect x="340.62" y="855.77" width="22.21" height="22.20" fill="#b4bcd0"/>
<rect x="362.33" y="855.77" width="22.21" height="22.20" fill="#9da8c4"/>
<rect x="384.04" y="855.77" width="22.21" height="22.20" fill="#8998bc"/>
<rect x="405.75" y="855.77" width="22.21" height="22.20" fill="#7d8fb6"/>
<rect x="427.46" y="855.77" width="22.21" height="22.20" fill="#748ab1"/>
<rect x="449.17" y="855.77" width="22.21" height="22.20" fill="#627fa7"/>
<rect x="470.88" y="855.77" width="22.21" height="22.20" fill="#5a7aa2"/>
<rect x="492.58" y="855.77" width="22.21" height="22.20" fill="#56779f"/>
<rect x="514.29" y="855.77" width="21.71" height="22.20" fill="#55769e"/>
<rect x="15.00" y="877.46" width="22.21" height="22.20" fill="#5682be"/>
<rect x="36.71" y="877.46" width="22.21" height="22.20" fill="#5784bf"/>
<rect x="58.42" y="877.46" width="22.21" height="22.20" fill="#5886c0"/>
<rect x="80.12" y="877.46" width="22.21" height="22.20" fill="#5988c1"/>
<rect x="101.83" y="877.46" width="22.21" height="22.20" fill="#5e8dc3"/>
<rect x="123.54" y="877.46" width="22.21" height="22.20" fill="#78a1c9"/>
<rect x="145.25" y="877.46" width="22.21" height="22.20" fill="#a6bdd4"/>
<rect x="166.96" y="877.46" width="22.21" height="22.20" fill="#ced6e1"/>
<rect x="188.67" y="877.46" width="22.21" height="22.20" fill="#e6e7e8"/>
<rect x="210.38" y="877.46" width="22.21" height="22.20" fill="#eff1ef"/>
<rect x="232.08" y="877.46" width="22.21" height="22.20" fill="#eff2f0"/>
<rect x="253.79" y="877.46" width="22.21" height="22.20" fill="#eff1f0"/>
<rect x="275.50" y="877.46" width="22.21" height="22.20" fill="#e5e8eb"/>
<rect x="297.21" y="877.46" width="22.21" height="22.20" fill="#d6d9e4"/>
<rect x="318.92" y="877.46" width="22.21" height="22.20" fill="#c2c7d7"/>
<rect x="340.62" y="877.46" width="22.21" height="22.20" fill="#aeb7cc"/>
<rect x="362.33" y="877.46" width="22.21" height="22.20" fill="#99a4c1"/>
<rect x="384.04" y="877.46" width="22.21" height="22.20" fill="#8796ba"/>
<rect x="405.75" y="877.46" width="22.21" height="22.20" fill="#7a8eb4"/>
<rect x="427.46" y="877.46" width="22.21" height="22.20" fill="#7189af"/>
<rect x="449.17" y="877.46" width="22.21" height="22.20" fill="#6380a8"/>
<rect x="470.88" y="877.46" width="22.21" height="22.20" fill="#5c7ca4"/>
<rect x="492.58" y="877.46" width="22.21" height="22.20" fill="#5979a1"/>
<rect x="514.29" y="877.46" width="21.71" height="22.20" fill="#5879a1"/>
<rect x="15.00" y="899.16" width="22.21" height="22.20" fill="#5883bf"/>
<rect x="36.71" y="899.16" width="22.21" height="22.20" fill="#5985c0"/>
<rect x="58.42" y="899.16" width="22.21" height="22.20" fill="#5a87c1"/>
<rect x="80.12" y="899.16" width="22.21" height="22.20" fill="#5b8ac2"/>
<rect x="101.83" y="899.16" width="22.21" height="22.20" fill="#6191c5"/>
<rect x="123.54" y="899.16" width="22.21" height="22.20" fill="#79a4cc"/>
<rect x="145.25" y="899.16" width="22.21" height="22.20" fill="#9ebcd6"/>
<rect x="166.96" y="899.16" width="22.21" height="22.20" fill="#bdd5e3"/>
<rect x="188.67" y="899.16" width="22.21" height="22.20" fill="#d0e2ea"/>
<rect x="210.38" y="899.16" width="43.92" height="22.20" fill="#d2e3eb"/>
<rect x="253.79" y="899.16" width="22.21" height="22.20" fill="#d3e3ea"/>
<rect x="275.50" y="899.16" width="22.21" height="22.20" fill="#ccd4e1"/>
<rect x="297.21" y="899.16" width="22.21" height="22.20" fill="#bdc4d7"/>
<rect x="318.92" y="899.16" width="22.21" height="22.20" fill="#acb3cb"/>
<rect x="340.62" y="899.16" width="22.21" height="22.20" fill="#9ea7c3"/>
<rect x="362.33" y="899.16" width="22.21" height="22.20" fill="#8d9cbb"/>
<rect x="384.04" y="899.16" width="22.21" height="22.20" fill="#7e91b5"/>
<rect x="405.75" y="899.16" width="22.21" height="22.20" fill="#748bb1"/>
<rect x="427.46" y="899.16" width="22.21" height="22.20" fill="#6d87ae"/>
<rect x="449.17" y="899.16" width="22.21" height="22.20" fill="#6683ab"/>
<rect x="470.88" y="899.16" width="22.21" height="22.20" fill="#6381a9"/>
<rect x="492.58" y="899.16" width="22.21" height="22.20" fill="#617fa7"/>
<rect x="514.29" y="899.16" width="21.71" height="22.20" fill="#607fa6"/>
<rect x="15.00" y="920.86" width="22.21" height="22.20" fill="#5884c0"/>
<rect x="36.71" y="920.86" width="22.21" height="22.20" fill="#5886c1"/>
<rect x="58.42" y="920.86" width="22.21" height="22.20" fill="#5987c2"/>
<rect x="80.12" y="920.86" width="22.21" height="22.20" fill="#5b8ac3"/>
<rect x="101.83" y="920.86" width="22.21" height="22.20" fill="#6393c6"/>
<rect x="123.54" y="920.86" width="22.21" height="22.20" fill="#75a1cb"/>
<rect x="145.25" y="920.86" width="22.21" height="22.20" fill="#8eb1d3"/>
<rect x="166.96" y="920.86" width="22.21" height="22.20" fill="#9fc1db"/>
<rect x="188.67" y="920.86" width="22.21" height="22.20" fill="#a2c4dc"/>
<rect x="210.38" y="920.86" width="22.21" height="22.20" fill="#a2c4dd"/>
<rect x="232.08" y="920.86" width="22.21" height="22.20" fill="#a3c4dd"/>
<rect x="253.79" y="920.86" width="22.21" height="22.20" fill="#a4c4dc"/>
<rect x="275.50" y="920.86" width="22.21" height="22.20" fill="#a4c1da"/>
<rect x="297.21" y="920.86" width="22.21" height="22.20" fill="#9fb6d2"/>
<rect x="318.92" y="920.86" width="22.21" height="22.20" fill="#98aac8"/>
<rect x="340.62" y="920.86" width="22.21" height="22.20" fill="#8ea0bf"/>
<rect x="362.33" y="920.86" width="22.21" height="22.20" fill="#8296b8"/>
<rect x="384.04" y="920.86" width="22.21" height="22.20" fill="#748bb2"/>
<rect x="405.75" y="920.86" width="22.21" height="22.20" fill="#6f88af"/>
<rect x="427.46" y="920.86" width="22.21" height="22.20" fill="#6d87af"/>
<rect x="449.17" y="920.86" width="43.92" height="22.20" fill="#6c86ae"/>
<rect x="492.58" y="920.86" width="43.42" height="22.20" fill="#6b86ae"/>
<rect x="15.00" y="942.55" width="43.92" height="22.20" fill="#5686c2"/>
<rect x="58.42" y="942.55" width="22.21" height="22.20" fill="#5787c2"/>
<rect x="80.12" y="942.55" width="22.21" height="22.20" fill="#5989c3"/>
<rect x="101.83" y="942.55" width="22.21" height="22.20" fill="#6494c7"/>
<rect x="123.54" y="942.55" width="22.21" height="22.20" fill="#74a0cc"/>
<rect x="145.25" y="942.55" width="22.21" height="22.20" fill="#88acd1"/>
<rect x="166.96" y="942.55" width="22.21" height="22.20" fill="#8bafd2"/>
<rect x="188.67" y="942.55" width="22.21" height="22.20" fill="#82acd2"/>
<rect x="210.38" y="942.55" width="22.21" height="22.20" fill="#80abd2"/>
<rect x="232.08" y="942.55" width="22.21" height="22.20" fill="#81abd1"/>
<rect x="253.79" y="942.55" width="22.21" height="22.20" fill="#85acd1"/>
<rect x="275.50" y="942.55" width="22.21" height="22.20" fill="#8daed0"/>
<rect x="297.21" y="942.55" width="22.21" height="22.20" fill="#90acce"/>
<rect x="318.92" y="942.55" width="22.21" height="22.20" fill="#8fa5c7"/>
<rect x="340.62" y="942.55" width="22.21" height="22.20" fill="#889dc0"/>
<rect x="362.33" y="942.55" width="22.21" height="22.20" fill="#7e93b9"/>
<rect x="384.04" y="942.55" width="22.21" height="22.20" fill="#708ab2"/>
<rect x="405.75" y="942.55" width="43.92" height="22.20" fill="#6b87af"/>
<rect x="449.17" y="942.55" width="22.21" height="22.20" fill="#6f89b1"/>
<rect x="470.88" y="942.55" width="22.21" height="22.20" fill="#718ab2"/>
<rect x="492.58" y="942.55" width="22.21" height="22.20" fill="#738cb3"/>
<rect x="514.29" y="942.55" width="21.71" height="22.20" fill="#758db3"/>
<rect x="15.00" y="964.25" width="43.92" height="22.20" fill="#5885c0"/>
<rect x="58.42" y="964.25" width="22.21" height="22.20" fill="#5885c1"/>
<rect x="80.12" y="964.25" width="22.21" height="22.20" fill="#5a87c1"/>
<rect x="101.83" y="964.25" width="22.21" height="22.20" fill="#6491c5"/>
<rect x="123.54" y="964.25" width="22.21" height="22.20" fill="#739bc9"/>
<rect x="145.25" y="964.25" width="22.21" height="22.20" fill="#82a3cc"/>
<rect x="166.96" y="964.25" width="22.21" height="22.20" fill="#81a3cc"/>
<rect x="188.67" y="964.25" width="22.21" height="22.20" fill="#709bc8"/>
<rect x="210.38" y="964.25" width="22.21" height="22.20" fill="#6c98c8"/>
<rect x="232.08" y="964.25" width="22.21" height="22.20" fill="#6c98c7"/>
<rect x="253.79" y="964.25" width="22.21" height="22.20" fill="#6f99c8"/>
<rect x="275.50" y="964.25" width="22.21" height="22.20" fill="#779dc9"/>
<rect x="297.21" y="964.25" width="22.21" height="22.20" fill="#7fa1c9"/>
<rect x="318.92" y="964.25" width="22.21" height="22.20" fill="#86a0c8"/>
<rect x="340.62" y="964.25" width="22.21" height="22.20" fill="#879ec6"/>
<rect x="362.33" y="964.25" width="22.21" height="22.20" fill="#8499c0"/>
<rect x="384.04" y="964.25" width="22.21" height="22.20" fill="#7990b7"/>
<rect x="405.75" y="964.25" width="22.21" height="22.20" fill="#6c89ad"/>
<rect x="427.46" y="964.25" width="22.21" height="22.20" fill="#6987ab"/>
<rect x="449.17" y="964.25" width="22.21" height="22.20" fill="#6986ac"/>
<rect x="470.88" y="964.25" width="22.21" height="22.20" fill="#6c88ad"/>
<rect x="492.58" y="964.25" width="22.21" height="22.20" fill="#798fb3"/>
<rect x="514.29" y="964.25" width="21.71" height="22.20" fill="#7e93b5"/>
<rect x="15.00" y="985.95" width="65.62" height="22.20" fill="#5784c0"/>
<rect x="80.12" y="985.95" width="22.21" height="22.20" fill="#5985c0"/>
<rect x="101.83" y="985.95" width="22.21" height="22.20" fill="#608dc3"/>
<rect x="123.54" y="985.95" width="22.21" height="22.20" fill="#6b94c5"/>
<rect x="145.25" y="985.95" width="22.21" height="22.20" fill="#769ac7"/>
<rect x="166.96" y="985.95" width="22.21" height="22.20" fill="#7599c7"/>
<rect x="188.67" y="985.95" width="22.21" height="22.20" fill="#6792c4"/>
<rect x="210.38" y="985.95" width="43.92" height="22.20" fill="#638fc3"/>
<rect x="253.79" y="985.95" width="22.21" height="22.20" fill="#6490c3"/>
<rect x="275.50" y="985.95" width="22.21" height="22.20" fill="#6b95c5"/>
<rect x="297.21" y="985.95" width="22.21" height="22.20" fill="#759ac7"/>
<rect x="318.92" y="985.95" width="22.21" height="22.20" fill="#7f9dc7"/>
<rect x="340.62" y="985.95" width="22.21" height="22.20" fill="#869ec7"/>
<rect x="362.33" y="985.95" width="22.21" height="22.20" fill="#879bc3"/>
<rect x="384.04" y="985.95" width="22.21" height="22.20" fill="#7f94bb"/>
<rect x="405.75" y="985.95" width="22.21" height="22.20" fill="#718cb0"/>
<rect x="427.46" y="985.95" width="22.21" height="22.20" fill="#6c89ad"/>
<rect x="449.17" y="985.95" width="22.21" height="22.20" fill="#6b88ad"/>
<rect x="470.88" y="985.95" width="22.21" height="22.20" fill="#6e89ae"/>
<rect x="492.58" y="985.95" width="22.21" height="22.20" fill="#7c91b4"/>
<rect x="514.29" y="985.95" width="21.71" height="22.20" fill="#8194b7"/>
<rect x="15.00" y="1007.64" width="87.33" height="22.20" fill="#5582be"/>
<rect x="101.83" y="1007.64" width="22.21" height="22.20" fill="#5684bf"/>
<rect x="123.54" y="1007.64" width="22.21" height="22.20" fill="#5a86c0"/>
<rect x="145.25" y="1007.64" width="22.21" height="22.20" fill="#628bc2"/>
<rect x="166.96" y="1007.64" width="22.21" height="22.20" fill="#648cc2"/>
<rect x="188.67" y="1007.64" width="22.21" height="22.20" fill="#5f89c1"/>
<rect x="210.38" y="1007.64" width="22.21" height="22.20" fill="#5a86bf"/>
<rect x="232.08" y="1007.64" width="22.21" height="22.20" fill="#5985bf"/>
<rect x="253.79" y="1007.64" width="22.21" height="22.20" fill="#5a86bf"/>
<rect x="275.50" y="1007.64" width="22.21" height="22.20" fill="#5e8bc1"/>
<rect x="297.21" y="1007.64" width="22.21" height="22.20" fill="#6691c3"/>
<rect x="318.92" y="1007.64" width="22.21" height="22.20" fill="#7296c5"/>
<rect x="340.62" y="1007.64" width="22.21" height="22.20" fill="#7e9bc6"/>
<rect x="362.33" y="1007.64" width="22.21" height="22.20" fill="#889dc6"/>
<rect x="384.04" y="1007.64" width="22.21" height="22.20" fill="#879bc3"/>
<rect x="405.75" y="1007.64" width="22.21" height="22.20" fill="#7d95ba"/>
<rect x="427.46" y="1007.64" width="22.21" height="22.20" fill="#7690b5"/>
<rect x="449.17" y="1007.64" width="22.21" height="22.20" fill="#748fb3"/>
<rect x="470.88" y="1007.64" width="22.21" height="22.20" fill="#7690b4"/>
<rect x="492.58" y="1007.64" width="22.21" height="22.20" fill="#8496bb"/>
<rect x="514.29" y="1007.64" width="21.71" height="22.20" fill="#8999be"/>
<rect x="15.00" y="1029.34" width="109.04" height="22.20" fill="#5480bc"/>
<rect x="123.54" y="1029.34" width="22.21" height="22.20" fill="#5481bc"/>
<rect x="145.25" y="1029.34" width="22.21" height="22.20" fill="#5682bd"/>
<rect x="166.96" y="1029.34" width="22.21" height="22.20" fill="#5782bd"/>
<rect x="188.67" y="1029.34" width="22.21" height="22.20" fill="#5682bd"/>
<rect x="210.38" y="1029.34" width="65.62" height="22.20" fill="#5581bc"/>
<rect x="275.50" y="1029.34" width="22.21" height="22.20" fill="#5683bd"/>
<rect x="297.21" y="1029.34" width="22.21" height="22.20" fill="#5d89c0"/>
<rect x="318.92" y="1029.34" width="22.21" height="22.20" fill="#6991c2"/>
<rect x="340.62" y="1029.34" width="22.21" height="22.20" fill="#7798c5"/>
<rect x="362.33" y="1029.34" width="22.21" height="22.20" fill="#869ec7"/>
<rect x="384.04" y="1029.34" width="22.21" height="22.20" fill="#889ec6"/>
<rect x="405.75" y="1029.34" width="22.21" height="22.20" fill="#8199bf"/>
<rect x="427.46" y="1029.34" width="22.21" height="22.20" fill="#7e97bc"/>
<rect x="449.17" y="1029.34" width="22.21" height="22.20" fill="#7c96b9"/>
<rect x="470.88" y="1029.34" width="22.21" height="22.20" fill="#8097ba"/>
<rect x="492.58" y="1029.34" width="22.21" height="22.20" fill="#8e9ec2"/>
<rect x="514.29" y="1029.34" width="21.71" height="22.20" fill="#94a1c6"/>
<rect x="15.00" y="1051.04" width="282.71" height="22.20" fill="#5480bc"/>
<rect x="297.21" y="1051.04" width="22.21" height="22.20" fill="#5783bd"/>
<rect x="318.92" y="1051.04" width="22.21" height="22.20" fill="#628dc0"/>
<rect x="340.62" y="1051.04" width="22.21" height="22.20" fill="#7196c4"/>
<rect x="362.33" y="1051.04" width="22.21" height="22.20" fill="#819dc7"/>
<rect x="384.04" y="1051.04" width="22.21" height="22.20" fill="#859fc7"/>
<rect x="405.75" y="1051.04" width="22.21" height="22.20" fill="#819bc1"/>
<rect x="427.46" y="1051.04" width="22.21" height="22.20" fill="#809abf"/>
<rect x="449.17" y="1051.04" width="22.21" height="22.20" fill="#809abc"/>
<rect x="470.88" y="1051.04" width="22.21" height="22.20" fill="#859cbf"/>
<rect x="492.58" y="1051.04" width="22.21" height="22.20" fill="#97a4c7"/>
<rect x="514.29" y="1051.04" width="21.71" height="22.20" fill="#a2aacf"/>
<rect x="15.00" y="1072.73" width="282.71" height="22.20" fill="#5480bc"/>
<rect x="297.21" y="1072.73" width="22.21" height="22.20" fill="#5682bd"/>
<rect x="318.92" y="1072.73" width="22.21" height="22.20" fill="#608cc0"/>
<rect x="340.62" y="1072.73" width="22.21" height="22.20" fill="#7096c4"/>
<rect x="362.33" y="1072.73" width="22.21" height="22.20" fill="#7f9cc7"/>
<rect x="384.04" y="1072.73" width="22.21" height="22.20" fill="#849ec6"/>
<rect x="405.75" y="1072.73" width="22.21" height="22.20" fill="#819bc1"/>
<rect x="427.46" y="1072.73" width="22.21" height="22.20" fill="#809abf"/>
<rect x="449.17" y="1072.73" width="22.21" height="22.20" fill="#809bbd"/>
<rect x="470.88" y="1072.73" width="22.21" height="22.20" fill="#869dbf"/>
<rect x="492.58" y="1072.73" width="22.21" height="22.20" fill="#99a5c8"/>
<rect x="514.29" y="1072.73" width="21.71" height="22.20" fill="#a6acd2"/>
<rect x="15.00" y="1094.43" width="282.71" height="22.20" fill="#5480bc"/>
<rect x="297.21" y="1094.43" width="22.21" height="22.20" fill="#5682bd"/>
<rect x="318.92" y="1094.43" width="22.21" height="22.20" fill="#628dc1"/>
<rect x="340.62" y="1094.43" width="22.21" height="22.20" fill="#7096c4"/>
<rect x="362.33" y="1094.43" width="22.21" height="22.20" fill="#7c9bc6"/>
<rect x="384.04" y="1094.43" width="22.21" height="22.20" fill="#819bc5"/>
<rect x="405.75" y="1094.43" width="22.21" height="22.20" fill="#8096bf"/>
<rect x="427.46" y="1094.43" width="22.21" height="22.20" fill="#8095bd"/>
<rect x="449.17" y="1094.43" width="22.21" height="22.20" fill="#809abb"/>
<rect x="470.88" y="1094.43" width="22.21" height="22.20" fill="#869ebe"/>
<rect x="492.58" y="1094.43" width="22.21" height="22.20" fill="#99a6c9"/>
<rect x="514.29" y="1094.43" width="21.71" height="22.20" fill="#a6abd2"/>
<rect x="15.00" y="1116.12" width="261.00" height="22.20" fill="#5480bc"/>
<rect x="275.50" y="1116.12" width="22.21" height="22.20" fill="#5481bc"/>
<rect x="297.21" y="1116.12" width="22.21" height="22.20" fill="#5985be"/>
<rect x="318.92" y="1116.12" width="22.21" height="22.20" fill="#648fc2"/>
<rect x="340.62" y="1116.12" width="22.21" height="22.20" fill="#7197c4"/>
<rect x="362.33" y="1116.12" width="22.21" height="22.20" fill="#7c9bc6"/>
<rect x="384.04" y="1116.12" width="22.21" height="22.20" fill="#8199c4"/>
<rect x="405.75" y="1116.12" width="22.21" height="22.20" fill="#8195bf"/>
<rect x="427.46" y="1116.12" width="22.21" height="22.20" fill="#8195bd"/>
<rect x="449.17" y="1116.12" width="22.21" height="22.20" fill="#829cbb"/>
<rect x="470.88" y="1116.12" width="22.21" height="22.20" fill="#87a0be"/>
<rect x="492.58" y="1116.12" width="22.21" height="22.20" fill="#99a7c9"/>
<rect x="514.29" y="1116.12" width="21.71" height="22.20" fill="#a4abd1"/>
<rect x="15.00" y="1137.82" width="261.00" height="22.20" fill="#5481bd"/>
<rect x="275.50" y="1137.82" width="22.21" height="22.20" fill="#5783be"/>
<rect x="297.21" y="1137.82" width="22.21" height="22.20" fill="#628fc2"/>
<rect x="318.92" y="1137.82" width="22.21" height="22.20" fill="#6f98c5"/>
<rect x="340.62" y="1137.82" width="22.21" height="22.20" fill="#789cc6"/>
<rect x="362.33" y="1137.82" width="22.21" height="22.20" fill="#7f9cc5"/>
<rect x="384.04" y="1137.82" width="22.21" height="22.20" fill="#8298c2"/>
<rect x="405.75" y="1137.82" width="22.21" height="22.20" fill="#8296c0"/>
<rect x="427.46" y="1137.82" width="22.21" height="22.20" fill="#8498c0"/>
<rect x="449.17" y="1137.82" width="22.21" height="22.20" fill="#89a4c2"/>
<rect x="470.88" y="1137.82" width="22.21" height="22.20" fill="#8ea8c4"/>
<rect x="492.58" y="1137.82" width="22.21" height="22.20" fill="#9baacb"/>
<rect x="514.29" y="1137.82" width="21.71" height="22.20" fill="#a0abce"/>
<rect x="15.00" y="1159.52" width="261.00" height="22.20" fill="#5683bf"/>
<rect x="275.50" y="1159.52" width="22.21" height="22.20" fill="#5987c0"/>
<rect x="297.21" y="1159.52" width="22.21" height="22.20" fill="#6a95c5"/>
<rect x="318.92" y="1159.52" width="22.21" height="22.20" fill="#7b9fc8"/>
<rect x="340.62" y="1159.52" width="22.21" height="22.20" fill="#82a0c8"/>
<rect x="362.33" y="1159.52" width="22.21" height="22.20" fill="#859ec6"/>
<rect x="384.04" y="1159.52" width="22.21" height="22.20" fill="#8699c2"/>
<rect x="405.75" y="1159.52" width="22.21" height="22.20" fill="#8698c1"/>
<rect x="427.46" y="1159.52" width="22.21" height="22.20" fill="#889bc2"/>
<rect x="449.17" y="1159.52" width="22.21" height="22.20" fill="#8fabc5"/>
<rect x="470.88" y="1159.52" width="22.21" height="22.20" fill="#92aec7"/>
<rect x="492.58" y="1159.52" width="22.21" height="22.20" fill="#99abcc"/>
<rect x="514.29" y="1159.52" width="21.71" height="22.20" fill="#9cabce"/>
<rect x="15.00" y="1181.21" width="261.00" height="22.20" fill="#5684c0"/>
<rect x="275.50" y="1181.21" width="22.21" height="22.20" fill="#5a87c1"/>
<rect x="297.21" y="1181.21" width="22.21" height="22.20" fill="#6d96c6"/>
<rect x="318.92" y="1181.21" width="22.21" height="22.20" fill="#82a2cb"/>
<rect x="340.62" y="1181.21" width="22.21" height="22.20" fill="#8da6cc"/>
<rect x="362.33" y="1181.21" width="22.21" height="22.20" fill="#90a3c9"/>
<rect x="384.04" y="1181.21" width="22.21" height="22.20" fill="#8f9fc6"/>
<rect x="405.75" y="1181.21" width="22.21" height="22.20" fill="#8f9ec5"/>
<rect x="427.46" y="1181.21" width="22.21" height="22.20" fill="#90a2c5"/>
<rect x="449.17" y="1181.21" width="22.21" height="22.20" fill="#94afc6"/>
<rect x="470.88" y="1181.21" width="22.21" height="22.20" fill="#95b1c7"/>
<rect x="492.58" y="1181.21" width="22.21" height="22.20" fill="#97adcc"/>
<rect x="514.29" y="1181.21" width="21.71" height="22.20" fill="#98adcd"/>
<rect x="15.00" y="1202.91" width="261.00" height="22.20" fill="#5582bf"/>
<rect x="275.50" y="1202.91" width="22.21" height="22.20" fill="#5985c0"/>
<rect x="297.21" y="1202.91" width="22.21" height="22.20" fill="#6992c5"/>
<rect x="318.92" y="1202.91" width="22.21" height="22.20" fill="#7e9fca"/>
<rect x="340.62" y="1202.91" width="22.21" height="22.20" fill="#8ba5cc"/>
<rect x="362.33" y="1202.91" width="22.21" height="22.20" fill="#91a5ca"/>
<rect x="384.04" y="1202.91" width="22.21" height="22.20" fill="#92a2c7"/>
<rect x="405.75" y="1202.91" width="22.21" height="22.20" fill="#91a1c6"/>
<rect x="427.46" y="1202.91" width="22.21" height="22.20" fill="#92a4c6"/>
<rect x="449.17" y="1202.91" width="22.21" height="22.20" fill="#95afc6"/>
<rect x="470.88" y="1202.91" width="22.21" height="22.20" fill="#96b1c7"/>
<rect x="492.58" y="1202.91" width="22.21" height="22.20" fill="#96afcb"/>
<rect x="514.29" y="1202.91" width="21.71" height="22.20" fill="#97b0cc"/>
<rect x="15.00" y="1224.61" width="282.71" height="22.20" fill="#537fbd"/>
<rect x="297.21" y="1224.61" width="22.21" height="22.20" fill="#5985bf"/>
<rect x="318.92" y="1224.61" width="22.21" height="22.20" fill="#6a93c6"/>
<rect x="340.62" y="1224.61" width="22.21" height="22.20" fill="#7fa0ca"/>
<rect x="362.33" y="1224.61" width="22.21" height="22.20" fill="#8ca4c9"/>
<rect x="384.04" y="1224.61" width="22.21" height="22.20" fill="#92a4c7"/>
<rect x="405.75" y="1224.61" width="22.21" height="22.20" fill="#93a4c6"/>
<rect x="427.46" y="1224.61" width="22.21" height="22.20" fill="#94a6c6"/>
<rect x="449.17" y="1224.61" width="22.21" height="22.20" fill="#96aec6"/>
<rect x="470.88" y="1224.61" width="22.21" height="22.20" fill="#96b1c6"/>
<rect x="492.58" y="1224.61" width="22.21" height="22.20" fill="#96b3c8"/>
<rect x="514.29" y="1224.61" width="21.71" height="22.20" fill="#98b5ca"/>
<rect x="15.00" y="1246.30" width="282.71" height="21.70" fill="#527ebc"/>
<rect x="297.21" y="1246.30" width="22.21" height="21.70" fill="#5581be"/>
<rect x="318.92" y="1246.30" width="22.21" height="21.70" fill="#6590c5"/>
<rect x="340.62" y="1246.30" width="22.21" height="21.70" fill="#7b9ec9"/>
<rect x="362.33" y="1246.30" width="22.21" height="21.70" fill="#8ba4c9"/>
<rect x="384.04" y="1246.30" width="22.21" height="21.70" fill="#93a5c7"/>
<rect x="405.75" y="1246.30" width="22.21" height="21.70" fill="#94a5c6"/>
<rect x="427.46" y="1246.30" width="22.21" height="21.70" fill="#94a7c6"/>
<rect x="449.17" y="1246.30" width="22.21" height="21.70" fill="#96aec6"/>
<rect x="470.88" y="1246.30" width="22.21" height="21.70" fill="#96b0c6"/>
<rect x="492.58" y="1246.30" width="22.21" height="21.70" fill="#96b4c8"/>
<rect x="514.29" y="1246.30" width="21.71" height="21.70" fill="#98b6ca"/>
</g>
<g id="p2">
<rect x="873.00" y="53.00" width="282.71" height="22.20" fill="#552499"/>
<rect x="1155.21" y="53.00" width="22.21" height="22.20" fill="#8b4583"/>
<rect x="1176.92" y="53.00" width="22.21" height="22.20" fill="#8e4480"/>
<rect x="1198.62" y="53.00" width="22.21" height="22.20" fill="#8e437f"/>
<rect x="1220.33" y="53.00" width="22.21" height="22.20" fill="#8b417d"/>
<rect x="1242.04" y="53.00" width="22.21" height="22.20" fill="#873e7c"/>
<rect x="1263.75" y="53.00" width="22.21" height="22.20" fill="#833b7a"/>
<rect x="1285.46" y="53.00" width="22.21" height="22.20" fill="#7e3778"/>
<rect x="1307.17" y="53.00" width="22.21" height="22.20" fill="#7a3476"/>
<rect x="1328.88" y="53.00" width="22.21" height="22.20" fill="#793375"/>
<rect x="1350.58" y="53.00" width="22.21" height="22.20" fill="#783275"/>
<rect x="1372.29" y="53.00" width="21.71" height="22.20" fill="#773274"/>
<rect x="873.00" y="74.70" width="282.71" height="22.20" fill="#552499"/>
<rect x="1155.21" y="74.70" width="22.21" height="22.20" fill="#8b4583"/>
<rect x="1176.92" y="74.70" width="22.21" height="22.20" fill="#8e4581"/>
<rect x="1198.62" y="74.70" width="22.21" height="22.20" fill="#8f4480"/>
<rect x="1220.33" y="74.70" width="22.21" height="22.20" fill="#8d437f"/>
<rect x="1242.04" y="74.70" width="22.21" height="22.20" fill="#89407d"/>
<rect x="1263.75" y="74.70" width="22.21" height="22.20" fill="#843c7b"/>
<rect x="1285.46" y="74.70" width="22.21" height="22.20" fill="#7f3778"/>
<rect x="1307.17" y="74.70" width="22.21" height="22.20" fill="#7a3476"/>
<rect x="1328.88" y="74.70" width="22.21" height="22.20" fill="#783375"/>
<rect x="1350.58" y="74.70" width="22.21" height="22.20" fill="#783275"/>
<rect x="1372.29" y="74.70" width="21.71" height="22.20" fill="#773274"/>
<rect x="873.00" y="96.39" width="282.71" height="22.20" fill="#552499"/>
<rect x="1155.21" y="96.39" width="22.21" height="22.20" fill="#864485"/>
<rect x="1176.92" y="96.39" width="22.21" height="22.20" fill="#8d4684"/>
<rect x="1198.62" y="96.39" width="22.21" height="22.20" fill="#934883"/>
<rect x="1220.33" y="96.39" width="22.21" height="22.20" fill="#934882"/>
<rect x="1242.04" y="96.39" width="22.21" height="22.20" fill="#8f4480"/>
<rect x="1263.75" y="96.39" width="22.21" height="22.20" fill="#883e7e"/>
<rect x="1285.46" y="96.39" width="22.21" height="22.20" fill="#803879"/>
<rect x="1307.17" y="96.39" width="22.21" height="22.20" fill="#793476"/>
<rect x="1328.88" y="96.39" width="22.21" height="22.20" fill="#773275"/>
<rect x="1350.58" y="96.39" width="22.21" height="22.20" fill="#773274"/>
<rect x="1372.29" y="96.39" width="21.71" height="22.20" fill="#763174"/>
<rect x="873.00" y="118.09" width="304.42" height="22.20" fill="#552499"/>
<rect x="1176.92" y="118.09" width="22.21" height="22.20" fill="#8b4685"/>
<rect x="1198.62" y="118.09" width="22.21" height="22.20" fill="#934984"/>
<rect x="1220.33" y="118.09" width="22.21" height="22.20" fill="#944a84"/>
<rect x="1242.04" y="118.09" width="22.21" height="22.20" fill="#904582"/>
<rect x="1263.75" y="118.09" width="22.21" height="22.20" fill="#893e7e"/>
<rect x="1285.46" y="118.09" width="22.21" height="22.20" fill="#80387a"/>
<rect x="1307.17" y="118.09" width="22.21" height="22.20" fill="#793476"/>
<rect x="1328.88" y="118.09" width="22.21" height="22.20" fill="#773275"/>
<rect x="1350.58" y="118.09" width="22.21" height="22.20" fill="#763274"/>
<rect x="1372.29" y="118.09" width="21.71" height="22.20" fill="#763173"/>
<rect x="873.00" y="139.79" width="326.12" height="22.20" fill="#552499"/>
<rect x="1198.62" y="139.79" width="22.21" height="22.20" fill="#924a85"/>
<rect x="1220.33" y="139.79" width="22.21" height="22.20" fill="#944a85"/>
<rect x="1242.04" y="139.79" width="22.21" height="22.20" fill="#914682"/>
<rect x="1263.75" y="139.79" width="22.21" height="22.20" fill="#893f7f"/>
<rect x="1285.46" y="139.79" width="22.21" height="22.20" fill="#7f387a"/>
<rect x="1307.17" y="139.79" width="22.21" height="22.20" fill="#783476"/>
<rect x="1328.88" y="139.79" width="43.92" height="22.20" fill="#763274"/>
<rect x="1372.29" y="139.79" width="21.71" height="22.20" fill="#753273"/>
<rect x="873.00" y="161.48" width="326.12" height="22.20" fill="#552499"/>
<rect x="1198.62" y="161.48" width="22.21" height="22.20" fill="#914a86"/>
<rect x="1220.33" y="161.48" width="22.21" height="22.20" fill="#944b86"/>
<rect x="1242.04" y="161.48" width="22.21" height="22.20" fill="#914783"/>
<rect x="1263.75" y="161.48" width="22.21" height="22.20" fill="#893f7f"/>
<rect x="1285.46" y="161.48" width="22.21" height="22.20" fill="#7f3879"/>
<rect x="1307.17" y="161.48" width="22.21" height="22.20" fill="#783475"/>
<rect x="1328.88" y="161.48" width="65.12" height="22.20" fill="#763374"/>
<rect x="873.00" y="183.18" width="347.83" height="22.20" fill="#552499"/>
<rect x="1220.33" y="183.18" width="22.21" height="22.20" fill="#944a86"/>
<rect x="1242.04" y="183.18" width="22.21" height="22.20" fill="#914683"/>
<rect x="1263.75" y="183.18" width="22.21" height="22.20" fill="#883f7e"/>
<rect x="1285.46" y="183.18" width="22.21" height="22.20" fill="#7f3879"/>
<rect x="1307.17" y="183.18" width="22.21" height="22.20" fill="#793576"/>
<rect x="1328.88" y="183.18" width="22.21" height="22.20" fill="#783475"/>
<rect x="1350.58" y="183.18" width="22.21" height="22.20" fill="#793676"/>
<rect x="1372.29" y="183.18" width="21.71" height="22.20" fill="#7a3676"/>
<rect x="873.00" y="204.88" width="347.83" height="22.20" fill="#552499"/>
<rect x="1220.33" y="204.88" width="22.21" height="22.20" fill="#944a86"/>
<rect x="1242.04" y="204.88" width="22.21" height="22.20" fill="#914683"/>
<rect x="1263.75" y="204.88" width="22.21" height="22.20" fill="#883e7d"/>
<rect x="1285.46" y="204.88" width="22.21" height="22.20" fill="#7e3878"/>
<rect x="1307.17" y="204.88" width="22.21" height="22.20" fill="#793676"/>
<rect x="1328.88" y="204.88" width="22.21" height="22.20" fill="#7a3777"/>
<rect x="1350.58" y="204.88" width="22.21" height="22.20" fill="#7d3978"/>
<rect x="1372.29" y="204.88" width="21.71" height="22.20" fill="#7f3a79"/>
<rect x="873.00" y="226.57" width="347.83" height="22.20" fill="#552499"/>
<rect x="1220.33" y="226.57" width="22.21" height="22.20" fill="#934986"/>
<rect x="1242.04" y="226.57" width="22.21" height="22.20" fill="#914583"/>
<rect x="1263.75" y="226.57" width="22.21" height="22.20" fill="#873f7c"/>
<rect x="1285.46" y="226.57" width="22.21" height="22.20" fill="#7e3978"/>
<rect x="1307.17" y="226.57" width="22.21" height="22.20" fill="#7a3677"/>
<rect x="1328.88" y="226.57" width="22.21" height="22.20" fill="#7b3878"/>
<rect x="1350.58" y="226.57" width="22.21" height="22.20" fill="#813c7a"/>
<rect x="1372.29" y="226.57" width="21.71" height="22.20" fill="#833e7b"/>
<rect x="873.00" y="248.27" width="347.83" height="22.20" fill="#552499"/>
<rect x="1220.33" y="248.27" width="22.21" height="22.20" fill="#954b86"/>
<rect x="1242.04" y="248.27" width="22.21" height="22.20" fill="#924783"/>
<rect x="1263.75" y="248.27" width="22.21" height="22.20" fill="#89407d"/>
<rect x="1285.46" y="248.27" width="22.21" height="22.20" fill="#7f3a79"/>
<rect x="1307.17" y="248.27" width="22.21" height="22.20" fill="#7b3777"/>
<rect x="1328.88" y="248.27" width="22.21" height="22.20" fill="#7c3878"/>
<rect x="1350.58" y="248.27" width="22.21" height="22.20" fill="#823d7a"/>
<rect x="1372.29" y="248.27" width="21.71" height="22.20" fill="#843f7b"/>
<rect x="873.00" y="269.96" width="347.83" height="22.20" fill="#552499"/>
<rect x="1220.33" y="269.96" width="22.21" height="22.20" fill="#964c87"/>
<rect x="1242.04" y="269.96" width="22.21" height="22.20" fill="#944984"/>
<rect x="1263.75" y="269.96" width="22.21" height="22.20" fill="#8b427e"/>
<rect x="1285.46" y="269.96" width="22.21" height="22.20" fill="#813b79"/>
<rect x="1307.17" y="269.96" width="22.21" height="22.20" fill="#7b3777"/>
<rect x="1328.88" y="269.96" width="22.21" height="22.20" fill="#7c3878"/>
<rect x="1350.58" y="269.96" width="22.21" height="22.20" fill="#823d7b"/>
<rect x="1372.29" y="269.96" width="21.71" height="22.20" fill="#843f7c"/>
<rect x="873.00" y="291.66" width="326.12" height="22.20" fill="#552499"/>
<rect x="1198.62" y="291.66" width="22.21" height="22.20" fill="#8f4a87"/>
<rect x="1220.33" y="291.66" width="22.21" height="22.20" fill="#974d87"/>
<rect x="1242.04" y="291.66" width="22.21" height="22.20" fill="#954b85"/>
<rect x="1263.75" y="291.66" width="22.21" height="22.20" fill="#8c437f"/>
<rect x="1285.46" y="291.66" width="22.21" height="22.20" fill="#833d7a"/>
<rect x="1307.17" y="291.66" width="22.21" height="22.20" fill="#7c3777"/>
<rect x="1328.88" y="291.66" width="22.21" height="22.20" fill="#7c3878"/>
<rect x="1350.58" y="291.66" width="22.21" height="22.20" fill="#823e7b"/>
<rect x="1372.29" y="291.66" width="21.71" height="22.20" fill="#85407c"/>
<rect x="873.00" y="313.36" width="326.12" height="22.20" fill="#552499"/>
<rect x="1198.62" y="313.36" width="22.21" height="22.20" fill="#8f4a86"/>
<rect x="1220.33" y="313.36" width="22.21" height="22.20" fill="#964d86"/>
<rect x="1242.04" y="313.36" width="22.21" height="22.20" fill="#954a84"/>
<rect x="1263.75" y="313.36" width="22.21" height="22.20" fill="#8e4380"/>
<rect x="1285.46" y="313.36" width="22.21" height="22.20" fill="#843d7a"/>
<rect x="1307.17" y="313.36" width="22.21" height="22.20" fill="#7d3877"/>
<rect x="1328.88" y="313.36" width="22.21" height="22.20" fill="#7d3978"/>
<rect x="1350.58" y="313.36" width="22.21" height="22.20" fill="#833e7b"/>
<rect x="1372.29" y="313.36" width="21.71" height="22.20" fill="#86417c"/>
<rect x="873.00" y="335.05" width="326.12" height="22.20" fill="#552499"/>
<rect x="1198.62" y="335.05" width="22.21" height="22.20" fill="#8e4986"/>
<rect x="1220.33" y="335.05" width="22.21" height="22.20" fill="#964c86"/>
<rect x="1242.04" y="335.05" width="22.21" height="22.20" fill="#954a84"/>
<rect x="1263.75" y="335.05" width="22.21" height="22.20" fill="#8f4380"/>
<rect x="1285.46" y="335.05" width="22.21" height="22.20" fill="#853c7b"/>
<rect x="1307.17" y="335.05" width="22.21" height="22.20" fill="#7e3877"/>
<rect x="1328.88" y="335.05" width="22.21" height="22.20" fill="#7d3977"/>
<rect x="1350.58" y="335.05" width="22.21" height="22.20" fill="#833f7b"/>
<rect x="1372.29" y="335.05" width="21.71" height="22.20" fill="#87427d"/>
<rect x="873.00" y="356.75" width="326.12" height="22.20" fill="#552499"/>
<rect x="1198.62" y="356.75" width="22.21" height="22.20" fill="#8e4885"/>
<rect x="1220.33" y="356.75" width="22.21" height="22.20" fill="#954b85"/>
<rect x="1242.04" y="356.75" width="22.21" height="22.20" fill="#954984"/>
<rect x="1263.75" y="356.75" width="22.21" height="22.20" fill="#904281"/>
<rect x="1285.46" y="356.75" width="22.21" height="22.20" fill="#863c7b"/>
<rect x="1307.17" y="356.75" width="22.21" height="22.20" fill="#7e3977"/>
<rect x="1328.88" y="356.75" width="22.21" height="22.20" fill="#7e3a77"/>
<rect x="1350.58" y="356.75" width="22.21" height="22.20" fill="#843f7b"/>
<rect x="1372.29" y="356.75" width="21.71" height="22.20" fill="#88437d"/>
<rect x="873.00" y="378.45" width="347.83" height="22.20" fill="#552499"/>
<rect x="1220.33" y="378.45" width="22.21" height="22.20" fill="#954a85"/>
<rect x="1242.04" y="378.45" width="22.21" height="22.20" fill="#954984"/>
<rect x="1263.75" y="378.45" width="22.21" height="22.20" fill="#904381"/>
<rect x="1285.46" y="378.45" width="22.21" height="22.20" fill="#873d7c"/>
<rect x="1307.17" y="378.45" width="22.21" height="22.20" fill="#803a78"/>
<rect x="1328.88" y="378.45" width="22.21" height="22.20" fill="#803b79"/>
<rect x="1350.58" y="378.45" width="22.21" height="22.20" fill="#85407c"/>
<rect x="1372.29" y="378.45" width="21.71" height="22.20" fill="#88447e"/>
<rect x="873.00" y="400.14" width="347.83" height="22.20" fill="#552499"/>
<rect x="1220.33" y="400.14" width="22.21" height="22.20" fill="#944a86"/>
<rect x="1242.04" y="400.14" width="22.21" height="22.20" fill="#954985"/>
<rect x="1263.75" y="400.14" width="22.21" height="22.20" fill="#904381"/>
<rect x="1285.46" y="400.14" width="22.21" height="22.20" fill="#873e7c"/>
<rect x="1307.17" y="400.14" width="22.21" height="22.20" fill="#823b7a"/>
<rect x="1328.88" y="400.14" width="22.21" height="22.20" fill="#813d7b"/>
<rect x="1350.58" y="400.14" width="22.21" height="22.20" fill="#85427d"/>
<rect x="1372.29" y="400.14" width="21.71" height="22.20" fill="#88447f"/>
<rect x="873.00" y="421.84" width="347.83" height="22.20" fill="#552499"/>
<rect x="1220.33" y="421.84" width="22.21" height="22.20" fill="#934986"/>
<rect x="1242.04" y="421.84" width="22.21" height="22.20" fill="#954985"/>
<rect x="1263.75" y="421.84" width="22.21" height="22.20" fill="#904481"/>
<rect x="1285.46" y="421.84" width="22.21" height="22.20" fill="#883f7c"/>
<rect x="1307.17" y="421.84" width="22.21" height="22.20" fill="#833c7b"/>
<rect x="1328.88" y="421.84" width="22.21" height="22.20" fill="#833e7d"/>
<rect x="1350.58" y="421.84" width="22.21" height="22.20" fill="#86437f"/>
<rect x="1372.29" y="421.84" width="21.71" height="22.20" fill="#884580"/>
<rect x="873.00" y="443.54" width="347.83" height="22.20" fill="#552499"/>
<rect x="1220.33" y="443.54" width="22.21" height="22.20" fill="#934a87"/>
<rect x="1242.04" y="443.54" width="22.21" height="22.20" fill="#954985"/>
<rect x="1263.75" y="443.54" width="22.21" height="22.20" fill="#904481"/>
<rect x="1285.46" y="443.54" width="22.21" height="22.20" fill="#89407d"/>
<rect x="1307.17" y="443.54" width="22.21" height="22.20" fill="#853e7d"/>
<rect x="1328.88" y="443.54" width="22.21" height="22.20" fill="#85407f"/>
<rect x="1350.58" y="443.54" width="22.21" height="22.20" fill="#874481"/>
<rect x="1372.29" y="443.54" width="21.71" height="22.20" fill="#884582"/>
<rect x="873.00" y="465.23" width="347.83" height="22.20" fill="#552499"/>
<rect x="1220.33" y="465.23" width="22.21" height="22.20" fill="#924a88"/>
<rect x="1242.04" y="465.23" width="22.21" height="22.20" fill="#954986"/>
<rect x="1263.75" y="465.23" width="22.21" height="22.20" fill="#904481"/>
<rect x="1285.46" y="465.23" width="22.21" height="22.20" fill="#8a417e"/>
<rect x="1307.17" y="465.23" width="22.21" height="22.20" fill="#86407e"/>
<rect x="1328.88" y="465.23" width="22.21" height="22.20" fill="#874383"/>
<rect x="1350.58" y="465.23" width="22.21" height="22.20" fill="#884685"/>
<rect x="1372.29" y="465.23" width="21.71" height="22.20" fill="#894786"/>
<rect x="873.00" y="486.93" width="347.83" height="22.20" fill="#552499"/>
<rect x="1220.33" y="486.93" width="22.21" height="22.20" fill="#924d8a"/>
<rect x="1242.04" y="486.93" width="22.21" height="22.20" fill="#954b87"/>
<rect x="1263.75" y="486.93" width="22.21" height="22.20" fill="#904482"/>
<rect x="1285.46" y="486.93" width="22.21" height="22.20" fill="#8b417e"/>
<rect x="1307.17" y="486.93" width="22.21" height="22.20" fill="#894280"/>
<rect x="1328.88" y="486.93" width="22.21" height="22.20" fill="#8c4887"/>
<rect x="1350.58" y="486.93" width="22.21" height="22.20" fill="#8f4e8d"/>
<rect x="1372.29" y="486.93" width="21.71" height="22.20" fill="#91508f"/>
<rect x="873.00" y="508.63" width="347.83" height="22.20" fill="#552499"/>
<rect x="1220.33" y="508.63" width="22.21" height="22.20" fill="#934d8b"/>
<rect x="1242.04" y="508.63" width="22.21" height="22.20" fill="#954b87"/>
<rect x="1263.75" y="508.63" width="22.21" height="22.20" fill="#904482"/>
<rect x="1285.46" y="508.63" width="22.21" height="22.20" fill="#8b417e"/>
<rect x="1307.17" y="508.63" width="22.21" height="22.20" fill="#8a4381"/>
<rect x="1328.88" y="508.63" width="22.21" height="22.20" fill="#8e4a89"/>
<rect x="1350.58" y="508.63" width="22.21" height="22.20" fill="#945392"/>
<rect x="1372.29" y="508.63" width="21.71" height="22.20" fill="#965593"/>
<rect x="873.00" y="530.32" width="347.83" height="22.20" fill="#552499"/>
<rect x="1220.33" y="530.32" width="22.21" height="22.20" fill="#944d8a"/>
<rect x="1242.04" y="530.32" width="22.21" height="22.20" fill="#954b87"/>
<rect x="1263.75" y="530.32" width="22.21" height="22.20" fill="#904481"/>
<rect x="1285.46" y="530.32" width="22.21" height="22.20" fill="#8b417e"/>
<rect x="1307.17" y="530.32" width="22.21" height="22.20" fill="#8a4381"/>
<rect x="1328.88" y="530.32" width="22.21" height="22.20" fill="#904c8b"/>
<rect x="1350.58" y="530.32" width="22.21" height="22.20" fill="#985895"/>
<rect x="1372.29" y="530.32" width="21.71" height="22.20" fill="#9a5a97"/>
<rect x="873.00" y="552.02" width="326.12" height="22.20" fill="#552499"/>
<rect x="1198.62" y="552.02" width="22.21" height="22.20" fill="#924f8b"/>
<rect x="1220.33" y="552.02" width="22.21" height="22.20" fill="#954d89"/>
<rect x="1242.04" y="552.02" width="22.21" height="22.20" fill="#934885"/>
<rect x="1263.75" y="552.02" width="22.21" height="22.20" fill="#8d4280"/>
<rect x="1285.46" y="552.02" width="22.21" height="22.20" fill="#89407e"/>
<rect x="1307.17" y="552.02" width="22.21" height="22.20" fill="#8a4280"/>
<rect x="1328.88" y="552.02" width="22.21" height="22.20" fill="#904b89"/>
<rect x="1350.58" y="552.02" width="22.21" height="22.20" fill="#985794"/>
<rect x="1372.29" y="552.02" width="21.71" height="22.20" fill="#9a5996"/>
<rect x="873.00" y="573.71" width="326.12" height="22.20" fill="#552499"/>
<rect x="1198.62" y="573.71" width="22.21" height="22.20" fill="#934b87"/>
<rect x="1220.33" y="573.71" width="22.21" height="22.20" fill="#934885"/>
<rect x="1242.04" y="573.71" width="22.21" height="22.20" fill="#8f4481"/>
<rect x="1263.75" y="573.71" width="22.21" height="22.20" fill="#883f7d"/>
<rect x="1285.46" y="573.71" width="22.21" height="22.20" fill="#853d7c"/>
<rect x="1307.17" y="573.71" width="22.21" height="22.20" fill="#873f7e"/>
<rect x="1328.88" y="573.71" width="22.21" height="22.20" fill="#8d4886"/>
<rect x="1350.58" y="573.71" width="22.21" height="22.20" fill="#94518e"/>
<rect x="1372.29" y="573.71" width="21.71" height="22.20" fill="#965390"/>
<rect x="873.00" y="595.41" width="304.42" height="22.20" fill="#552499"/>
<rect x="1176.92" y="595.41" width="22.21" height="22.20" fill="#934884"/>
<rect x="1198.62" y="595.41" width="22.21" height="22.20" fill="#944884"/>
<rect x="1220.33" y="595.41" width="22.21" height="22.20" fill="#914582"/>
<rect x="1242.04" y="595.41" width="22.21" height="22.20" fill="#8b407e"/>
<rect x="1263.75" y="595.41" width="22.21" height="22.20" fill="#843c7b"/>
<rect x="1285.46" y="595.41" width="22.21" height="22.20" fill="#823b7a"/>
<rect x="1307.17" y="595.41" width="22.21" height="22.20" fill="#833c7c"/>
<rect x="1328.88" y="595.41" width="22.21" height="22.20" fill="#894382"/>
<rect x="1350.58" y="595.41" width="22.21" height="22.20" fill="#8f4a88"/>
<rect x="1372.29" y="595.41" width="21.71" height="22.20" fill="#904c8a"/>
<rect x="873.00" y="617.11" width="282.71" height="22.20" fill="#552499"/>
<rect x="1155.21" y="617.11" width="22.21" height="22.20" fill="#904985"/>
<rect x="1176.92" y="617.11" width="22.21" height="22.20" fill="#944883"/>
<rect x="1198.62" y="617.11" width="22.21" height="22.20" fill="#944783"/>
<rect x="1220.33" y="617.11" width="22.21" height="22.20" fill="#904481"/>
<rect x="1242.04" y="617.11" width="22.21" height="22.20" fill="#8b407e"/>
<rect x="1263.75" y="617.11" width="22.21" height="22.20" fill="#843c7b"/>
<rect x="1285.46" y="617.11" width="43.92" height="22.20" fill="#813a7a"/>
<rect x="1328.88" y="617.11" width="22.21" height="22.20" fill="#833d7d"/>
<rect x="1350.58" y="617.11" width="22.21" height="22.20" fill="#864180"/>
<rect x="1372.29" y="617.11" width="21.71" height="22.20" fill="#874281"/>
<rect x="873.00" y="638.80" width="239.29" height="22.20" fill="#552499"/>
<rect x="1111.79" y="638.80" width="22.21" height="22.20" fill="#884685"/>
<rect x="1133.50" y="638.80" width="22.21" height="22.20" fill="#8d4785"/>
<rect x="1155.21" y="638.80" width="22.21" height="22.20" fill="#914885"/>
<rect x="1176.92" y="638.80" width="22.21" height="22.20" fill="#944883"/>
<rect x="1198.62" y="638.80" width="22.21" height="22.20" fill="#944682"/>
<rect x="1220.33" y="638.80" width="22.21" height="22.20" fill="#904481"/>
<rect x="1242.04" y="638.80" width="22.21" height="22.20" fill="#8b407e"/>
<rect x="1263.75" y="638.80" width="22.21" height="22.20" fill="#863d7b"/>
<rect x="1285.46" y="638.80" width="22.21" height="22.20" fill="#823a79"/>
<rect x="1307.17" y="638.80" width="22.21" height="22.20" fill="#7f3878"/>
<rect x="1328.88" y="638.80" width="65.12" height="22.20" fill="#7e3879"/>
<rect x="873.00" y="660.50" width="174.17" height="22.20" fill="#552499"/>
<rect x="1046.67" y="660.50" width="22.21" height="22.20" fill="#854383"/>
<rect x="1068.38" y="660.50" width="22.21" height="22.20" fill="#874483"/>
<rect x="1090.08" y="660.50" width="22.21" height="22.20" fill="#884483"/>
<rect x="1111.79" y="660.50" width="22.21" height="22.20" fill="#8b4583"/>
<rect x="1133.50" y="660.50" width="22.21" height="22.20" fill="#8f4683"/>
<rect x="1155.21" y="660.50" width="22.21" height="22.20" fill="#924783"/>
<rect x="1176.92" y="660.50" width="22.21" height="22.20" fill="#944883"/>
<rect x="1198.62" y="660.50" width="22.21" height="22.20" fill="#944782"/>
<rect x="1220.33" y="660.50" width="22.21" height="22.20" fill="#904381"/>
<rect x="1242.04" y="660.50" width="22.21" height="22.20" fill="#8b3f7e"/>
<rect x="1263.75" y="660.50" width="22.21" height="22.20" fill="#863c7b"/>
<rect x="1285.46" y="660.50" width="22.21" height="22.20" fill="#813979"/>
<rect x="1307.17" y="660.50" width="22.21" height="22.20" fill="#7e3778"/>
<rect x="1328.88" y="660.50" width="22.21" height="22.20" fill="#7c3676"/>
<rect x="1350.58" y="660.50" width="22.21" height="22.20" fill="#7a3576"/>
<rect x="1372.29" y="660.50" width="21.71" height="22.20" fill="#7a3575"/>
<rect x="873.00" y="682.20" width="152.46" height="22.20" fill="#552499"/>
<rect x="1024.96" y="682.20" width="22.21" height="22.20" fill="#833f82"/>
<rect x="1046.67" y="682.20" width="22.21" height="22.20" fill="#884282"/>
<rect x="1068.38" y="682.20" width="22.21" height="22.20" fill="#8a4282"/>
<rect x="1090.08" y="682.20" width="22.21" height="22.20" fill="#8c4382"/>
<rect x="1111.79" y="682.20" width="22.21" height="22.20" fill="#8e4382"/>
<rect x="1133.50" y="682.20" width="22.21" height="22.20" fill="#904582"/>
<rect x="1155.21" y="682.20" width="22.21" height="22.20" fill="#924682"/>
<rect x="1176.92" y="682.20" width="22.21" height="22.20" fill="#924582"/>
<rect x="1198.62" y="682.20" width="22.21" height="22.20" fill="#914481"/>
<rect x="1220.33" y="682.20" width="22.21" height="22.20" fill="#8e427f"/>
<rect x="1242.04" y="682.20" width="22.21" height="22.20" fill="#8a3e7d"/>
<rect x="1263.75" y="682.20" width="22.21" height="22.20" fill="#853b7b"/>
<rect x="1285.46" y="682.20" width="22.21" height="22.20" fill="#813979"/>
<rect x="1307.17" y="682.20" width="22.21" height="22.20" fill="#7d3777"/>
<rect x="1328.88" y="682.20" width="22.21" height="22.20" fill="#7b3576"/>
<rect x="1350.58" y="682.20" width="43.42" height="22.20" fill="#793475"/>
<rect x="873.00" y="703.89" width="152.46" height="22.20" fill="#552499"/>
<rect x="1024.96" y="703.89" width="22.21" height="22.20" fill="#854082"/>
<rect x="1046.67" y="703.89" width="22.21" height="22.20" fill="#8a4382"/>
<rect x="1068.38" y="703.89" width="22.21" height="22.20" fill="#8e4482"/>
<rect x="1090.08" y="703.89" width="22.21" height="22.20" fill="#924582"/>
<rect x="1111.79" y="703.89" width="22.21" height="22.20" fill="#934583"/>
<rect x="1133.50" y="703.89" width="22.21" height="22.20" fill="#934683"/>
<rect x="1155.21" y="703.89" width="22.21" height="22.20" fill="#934682"/>
<rect x="1176.92" y="703.89" width="22.21" height="22.20" fill="#8e417f"/>
<rect x="1198.62" y="703.89" width="22.21" height="22.20" fill="#8c3f7d"/>
<rect x="1220.33" y="703.89" width="22.21" height="22.20" fill="#8a3e7c"/>
<rect x="1242.04" y="703.89" width="22.21" height="22.20" fill="#873c7c"/>
<rect x="1263.75" y="703.89" width="22.21" height="22.20" fill="#843a7a"/>
<rect x="1285.46" y="703.89" width="22.21" height="22.20" fill="#803878"/>
<rect x="1307.17" y="703.89" width="22.21" height="22.20" fill="#7d3677"/>
<rect x="1328.88" y="703.89" width="22.21" height="22.20" fill="#7a3575"/>
<rect x="1350.58" y="703.89" width="43.42" height="22.20" fill="#793374"/>
<rect x="873.00" y="725.59" width="152.46" height="22.20" fill="#552499"/>
<rect x="1024.96" y="725.59" width="22.21" height="22.20" fill="#874282"/>
<rect x="1046.67" y="725.59" width="22.21" height="22.20" fill="#8d4482"/>
<rect x="1068.38" y="725.59" width="22.21" height="22.20" fill="#934682"/>
<rect x="1090.08" y="725.59" width="22.21" height="22.20" fill="#984884"/>
<rect x="1111.79" y="725.59" width="22.21" height="22.20" fill="#9a4985"/>
<rect x="1133.50" y="725.59" width="22.21" height="22.20" fill="#994a84"/>
<rect x="1155.21" y="725.59" width="22.21" height="22.20" fill="#964782"/>
<rect x="1176.92" y="725.59" width="22.21" height="22.20" fill="#8e407e"/>
<rect x="1198.62" y="725.59" width="22.21" height="22.20" fill="#8a3d7c"/>
<rect x="1220.33" y="725.59" width="22.21" height="22.20" fill="#883d7b"/>
<rect x="1242.04" y="725.59" width="22.21" height="22.20" fill="#863b7b"/>
<rect x="1263.75" y="725.59" width="22.21" height="22.20" fill="#83397a"/>
<rect x="1285.46" y="725.59" width="22.21" height="22.20" fill="#7f3778"/>
<rect x="1307.17" y="725.59" width="22.21" height="22.20" fill="#7c3677"/>
<rect x="1328.88" y="725.59" width="22.21" height="22.20" fill="#7a3575"/>
<rect x="1350.58" y="725.59" width="22.21" height="22.20" fill="#793374"/>
<rect x="1372.29" y="725.59" width="21.71" height="22.20" fill="#783374"/>
<rect x="873.00" y="747.29" width="130.75" height="22.20" fill="#552499"/>
<rect x="1003.25" y="747.29" width="22.21" height="22.20" fill="#824083"/>
<rect x="1024.96" y="747.29" width="22.21" height="22.20" fill="#8a4383"/>
<rect x="1046.67" y="747.29" width="22.21" height="22.20" fill="#904683"/>
<rect x="1068.38" y="747.29" width="22.21" height="22.20" fill="#974983"/>
<rect x="1090.08" y="747.29" width="22.21" height="22.20" fill="#a04e88"/>
<rect x="1111.79" y="747.29" width="22.21" height="22.20" fill="#a4518a"/>
<rect x="1133.50" y="747.29" width="22.21" height="22.20" fill="#a25289"/>
<rect x="1155.21" y="747.29" width="22.21" height="22.20" fill="#9a4b85"/>
<rect x="1176.92" y="747.29" width="22.21" height="22.20" fill="#914380"/>
<rect x="1198.62" y="747.29" width="22.21" height="22.20" fill="#8c3f7d"/>
<rect x="1220.33" y="747.29" width="22.21" height="22.20" fill="#893d7b"/>
<rect x="1242.04" y="747.29" width="22.21" height="22.20" fill="#863b7b"/>
<rect x="1263.75" y="747.29" width="22.21" height="22.20" fill="#83397a"/>
<rect x="1285.46" y="747.29" width="22.21" height="22.20" fill="#7f3778"/>
<rect x="1307.17" y="747.29" width="22.21" height="22.20" fill="#7c3676"/>
<rect x="1328.88" y="747.29" width="22.21" height="22.20" fill="#7a3475"/>
<rect x="1350.58" y="747.29" width="22.21" height="22.20" fill="#793374"/>
<rect x="1372.29" y="747.29" width="21.71" height="22.20" fill="#783274"/>
<rect x="873.00" y="768.98" width="130.75" height="22.20" fill="#552499"/>
<rect x="1003.25" y="768.98" width="22.21" height="22.20" fill="#844183"/>
<rect x="1024.96" y="768.98" width="22.21" height="22.20" fill="#8d4583"/>
<rect x="1046.67" y="768.98" width="22.21" height="22.20" fill="#954984"/>
<rect x="1068.38" y="768.98" width="22.21" height="22.20" fill="#9e4e86"/>
<rect x="1090.08" y="768.98" width="22.21" height="22.20" fill="#a8558d"/>
<rect x="1111.79" y="768.98" width="22.21" height="22.20" fill="#ab588e"/>
<rect x="1133.50" y="768.98" width="22.21" height="22.20" fill="#a9588e"/>
<rect x="1155.21" y="768.98" width="22.21" height="22.20" fill="#a05189"/>
<rect x="1176.92" y="768.98" width="22.21" height="22.20" fill="#954782"/>
<rect x="1198.62" y="768.98" width="22.21" height="22.20" fill="#8e417e"/>
<rect x="1220.33" y="768.98" width="22.21" height="22.20" fill="#8b3e7c"/>
<rect x="1242.04" y="768.98" width="22.21" height="22.20" fill="#873c7b"/>
<rect x="1263.75" y="768.98" width="22.21" height="22.20" fill="#843a7a"/>
<rect x="1285.46" y="768.98" width="22.21" height="22.20" fill="#803778"/>
<rect x="1307.17" y="768.98" width="22.21" height="22.20" fill="#7c3576"/>
<rect x="1328.88" y="768.98" width="22.21" height="22.20" fill="#7a3475"/>
<rect x="1350.58" y="768.98" width="22.21" height="22.20" fill="#783374"/>
<rect x="1372.29" y="768.98" width="21.71" height="22.20" fill="#783274"/>
<rect x="873.00" y="790.68" width="130.75" height="22.20" fill="#552499"/>
<rect x="1003.25" y="790.68" width="22.21" height="22.20" fill="#874283"/>
<rect x="1024.96" y="790.68" width="22.21" height="22.20" fill="#914884"/>
<rect x="1046.67" y="790.68" width="22.21" height="22.20" fill="#9d4e87"/>
<rect x="1068.38" y="790.68" width="22.21" height="22.20" fill="#a65489"/>
<rect x="1090.08" y="790.68" width="22.21" height="22.20" fill="#af5c91"/>
<rect x="1111.79" y="790.68" width="22.21" height="22.20" fill="#b25f94"/>
<rect x="1133.50" y="790.68" width="22.21" height="22.20" fill="#b05e93"/>
<rect x="1155.21" y="790.68" width="22.21" height="22.20" fill="#a7578f"/>
<rect x="1176.92" y="790.68" width="22.21" height="22.20" fill="#9b4c87"/>
<rect x="1198.62" y="790.68" width="22.21" height="22.20" fill="#934581"/>
<rect x="1220.33" y="790.68" width="22.21" height="22.20" fill="#8e417f"/>
<rect x="1242.04" y="790.68" width="22.21" height="22.20" fill="#893e7d"/>
<rect x="1263.75" y="790.68" width="22.21" height="22.20" fill="#853b7b"/>
<rect x="1285.46" y="790.68" width="22.21" height="22.20" fill="#803878"/>
<rect x="1307.17" y="790.68" width="22.21" height="22.20" fill="#7c3576"/>
<rect x="1328.88" y="790.68" width="22.21" height="22.20" fill="#793375"/>
<rect x="1350.58" y="790.68" width="22.21" height="22.20" fill="#783274"/>
<rect x="1372.29" y="790.68" width="21.71" height="22.20" fill="#783273"/>
<rect x="873.00" y="812.38" width="130.75" height="22.20" fill="#552499"/>
<rect x="1003.25" y="812.38" width="22.21" height="22.20" fill="#8a4483"/>
<rect x="1024.96" y="812.38" width="22.21" height="22.20" fill="#954b86"/>
<rect x="1046.67" y="812.38" width="22.21" height="22.20" fill="#a25289"/>
<rect x="1068.38" y="812.38" width="22.21" height="22.20" fill="#ab598d"/>
<rect x="1090.08" y="812.38" width="22.21" height="22.20" fill="#b25f92"/>
<rect x="1111.79" y="812.38" width="22.21" height="22.20" fill="#b66397"/>
<rect x="1133.50" y="812.38" width="22.21" height="22.20" fill="#b46197"/>
<rect x="1155.21" y="812.38" width="22.21" height="22.20" fill="#ac5b92"/>
<rect x="1176.92" y="812.38" width="22.21" height="22.20" fill="#a0528a"/>
<rect x="1198.62" y="812.38" width="22.21" height="22.20" fill="#974984"/>
<rect x="1220.33" y="812.38" width="22.21" height="22.20" fill="#904380"/>
<rect x="1242.04" y="812.38" width="22.21" height="22.20" fill="#8b3e7e"/>
<rect x="1263.75" y="812.38" width="22.21" height="22.20" fill="#863b7c"/>
<rect x="1285.46" y="812.38" width="22.21" height="22.20" fill="#813879"/>
<rect x="1307.17" y="812.38" width="22.21" height="22.20" fill="#7b3576"/>
<rect x="1328.88" y="812.38" width="22.21" height="22.20" fill="#793374"/>
<rect x="1350.58" y="812.38" width="22.21" height="22.20" fill="#783273"/>
<rect x="1372.29" y="812.38" width="21.71" height="22.20" fill="#773273"/>
<rect x="873.00" y="834.07" width="130.75" height="22.20" fill="#552499"/>
<rect x="1003.25" y="834.07" width="22.21" height="22.20" fill="#904785"/>
<rect x="1024.96" y="834.07" width="22.21" height="22.20" fill="#9e5089"/>
<rect x="1046.67" y="834.07" width="65.62" height="22.20" fill="#ba3648"/>
<rect x="1111.79" y="834.07" width="22.21" height="22.20" fill="#ba6799"/>
<rect x="1133.50" y="834.07" width="22.21" height="22.20" fill="#b86398"/>
<rect x="1155.21" y="834.07" width="22.21" height="22.20" fill="#b05e95"/>
<rect x="1176.92" y="834.07" width="22.21" height="22.20" fill="#a6568f"/>
<rect x="1198.62" y="834.07" width="22.21" height="22.20" fill="#9c4d87"/>
<rect x="1220.33" y="834.07" width="22.21" height="22.20" fill="#924581"/>
<rect x="1242.04" y="834.07" width="22.21" height="22.20" fill="#8b3e7e"/>
<rect x="1263.75" y="834.07" width="22.21" height="22.20" fill="#873b7c"/>
<rect x="1285.46" y="834.07" width="22.21" height="22.20" fill="#83397a"/>
<rect x="1307.17" y="834.07" width="22.21" height="22.20" fill="#7c3576"/>
<rect x="1328.88" y="834.07" width="22.21" height="22.20" fill="#783274"/>
<rect x="1350.58" y="834.07" width="43.42" height="22.20" fill="#773173"/>
<rect x="873.00" y="855.77" width="130.75" height="22.20" fill="#552499"/>
<rect x="1003.25" y="855.77" width="22.21" height="22.20" fill="#944a86"/>
<rect x="1024.96" y="855.77" width="22.21" height="22.20" fill="#a4548b"/>
<rect x="1046.67" y="855.77" width="65.62" height="22.20" fill="#ba3648"/>
<rect x="1111.79" y="855.77" width="22.21" height="22.20" fill="#b96697"/>
<rect x="1133.50" y="855.77" width="22.21" height="22.20" fill="#b66397"/>
<rect x="1155.21" y="855.77" width="22.21" height="22.20" fill="#b05d93"/>
<rect x="1176.92" y="855.77" width="22.21" height="22.20" fill="#a6558d"/>
<rect x="1198.62" y="855.77" width="22.21" height="22.20" fill="#9c4d86"/>
<rect x="1220.33" y="855.77" width="22.21" height="22.20" fill="#934581"/>
<rect x="1242.04" y="855.77" width="22.21" height="22.20" fill="#8b3e7e"/>
<rect x="1263.75" y="855.77" width="22.21" height="22.20" fill="#873b7c"/>
<rect x="1285.46" y="855.77" width="22.21" height="22.20" fill="#83397a"/>
<rect x="1307.17" y="855.77" width="22.21" height="22.20" fill="#7c3576"/>
<rect x="1328.88" y="855.77" width="22.21" height="22.20" fill="#783374"/>
<rect x="1350.58" y="855.77" width="43.42" height="22.20" fill="#773173"/>
<rect x="873.00" y="877.46" width="130.75" height="22.20" fill="#552499"/>
<rect x="1003.25" y="877.46" width="22.21" height="22.20" fill="#974d88"/>
<rect x="1024.96" y="877.46" width="22.21" height="22.20" fill="#a7578d"/>
<rect x="1046.67" y="877.46" width="87.33" height="22.20" fill="#ba3648"/>
<rect x="1133.50" y="877.46" width="22.21" height="22.20" fill="#b05e91"/>
<rect x="1155.21" y="877.46" width="22.21" height="22.20" fill="#aa588e"/>
<rect x="1176.92" y="877.46" width="22.21" height="22.20" fill="#a25189"/>
<rect x="1198.62" y="877.46" width="22.21" height="22.20" fill="#9a4b85"/>
<rect x="1220.33" y="877.46" width="22.21" height="22.20" fill="#924480"/>
<rect x="1242.04" y="877.46" width="22.21" height="22.20" fill="#8a3e7e"/>
<rect x="1263.75" y="877.46" width="22.21" height="22.20" fill="#853b7b"/>
<rect x="1285.46" y="877.46" width="22.21" height="22.20" fill="#823879"/>
<rect x="1307.17" y="877.46" width="22.21" height="22.20" fill="#7c3577"/>
<rect x="1328.88" y="877.46" width="22.21" height="22.20" fill="#793375"/>
<rect x="1350.58" y="877.46" width="43.42" height="22.20" fill="#783274"/>
<rect x="873.00" y="899.16" width="130.75" height="22.20" fill="#552499"/>
<rect x="1003.25" y="899.16" width="22.21" height="22.20" fill="#934d89"/>
<rect x="1024.96" y="899.16" width="22.21" height="22.20" fill="#a0578e"/>
<rect x="1046.67" y="899.16" width="22.21" height="22.20" fill="#a75c91"/>
<rect x="1068.38" y="899.16" width="65.62" height="22.20" fill="#ba3648"/>
<rect x="1133.50" y="899.16" width="22.21" height="22.20" fill="#a6568d"/>
<rect x="1155.21" y="899.16" width="22.21" height="22.20" fill="#a05089"/>
<rect x="1176.92" y="899.16" width="22.21" height="22.20" fill="#994984"/>
<rect x="1198.62" y="899.16" width="22.21" height="22.20" fill="#944581"/>
<rect x="1220.33" y="899.16" width="22.21" height="22.20" fill="#8d407e"/>
<rect x="1242.04" y="899.16" width="22.21" height="22.20" fill="#873c7c"/>
<rect x="1263.75" y="899.16" width="22.21" height="22.20" fill="#83397a"/>
<rect x="1285.46" y="899.16" width="22.21" height="22.20" fill="#803879"/>
<rect x="1307.17" y="899.16" width="22.21" height="22.20" fill="#7d3678"/>
<rect x="1328.88" y="899.16" width="22.21" height="22.20" fill="#7c3577"/>
<rect x="1350.58" y="899.16" width="22.21" height="22.20" fill="#7b3576"/>
<rect x="1372.29" y="899.16" width="21.71" height="22.20" fill="#7b3476"/>
<rect x="873.00" y="920.86" width="130.75" height="22.20" fill="#552499"/>
<rect x="1003.25" y="920.86" width="22.21" height="22.20" fill="#8d4987"/>
<rect x="1024.96" y="920.86" width="22.21" height="22.20" fill="#944f8b"/>
<rect x="1046.67" y="920.86" width="43.92" height="22.20" fill="#95508b"/>
<rect x="1090.08" y="920.86" width="43.92" height="22.20" fill="#96508b"/>
<rect x="1133.50" y="920.86" width="22.21" height="22.20" fill="#964f8b"/>
<rect x="1155.21" y="920.86" width="22.21" height="22.20" fill="#944a87"/>
<rect x="1176.92" y="920.86" width="22.21" height="22.20" fill="#914683"/>
<rect x="1198.62" y="920.86" width="22.21" height="22.20" fill="#8d4280"/>
<rect x="1220.33" y="920.86" width="22.21" height="22.20" fill="#883e7d"/>
<rect x="1242.04" y="920.86" width="22.21" height="22.20" fill="#833a7a"/>
<rect x="1263.75" y="920.86" width="22.21" height="22.20" fill="#813879"/>
<rect x="1285.46" y="920.86" width="87.33" height="22.20" fill="#803879"/>
<rect x="1372.29" y="920.86" width="21.71" height="22.20" fill="#7f3779"/>
<rect x="873.00" y="942.55" width="130.75" height="22.20" fill="#552499"/>
<rect x="1003.25" y="942.55" width="22.21" height="22.20" fill="#8b4687"/>
<rect x="1024.96" y="942.55" width="22.21" height="22.20" fill="#8c4887"/>
<rect x="1046.67" y="942.55" width="87.33" height="22.20" fill="#552499"/>
<rect x="1133.50" y="942.55" width="22.21" height="22.20" fill="#8d4786"/>
<rect x="1155.21" y="942.55" width="22.21" height="22.20" fill="#8e4786"/>
<rect x="1176.92" y="942.55" width="22.21" height="22.20" fill="#8e4483"/>
<rect x="1198.62" y="942.55" width="22.21" height="22.20" fill="#8b4080"/>
<rect x="1220.33" y="942.55" width="22.21" height="22.20" fill="#873d7d"/>
<rect x="1242.04" y="942.55" width="22.21" height="22.20" fill="#81397a"/>
<rect x="1263.75" y="942.55" width="43.92" height="22.20" fill="#7f3879"/>
<rect x="1307.17" y="942.55" width="22.21" height="22.20" fill="#81397a"/>
<rect x="1328.88" y="942.55" width="22.21" height="22.20" fill="#82397a"/>
<rect x="1350.58" y="942.55" width="43.42" height="22.20" fill="#833a7b"/>
<rect x="873.00" y="964.25" width="282.71" height="22.20" fill="#552499"/>
<rect x="1155.21" y="964.25" width="22.21" height="22.20" fill="#874284"/>
<rect x="1176.92" y="964.25" width="22.21" height="22.20" fill="#8a4283"/>
<rect x="1198.62" y="964.25" width="22.21" height="22.20" fill="#8b4182"/>
<rect x="1220.33" y="964.25" width="22.21" height="22.20" fill="#893f80"/>
<rect x="1242.04" y="964.25" width="22.21" height="22.20" fill="#853b7c"/>
<rect x="1263.75" y="964.25" width="22.21" height="22.20" fill="#803879"/>
<rect x="1285.46" y="964.25" width="43.92" height="22.20" fill="#7f3878"/>
<rect x="1328.88" y="964.25" width="22.21" height="22.20" fill="#803879"/>
<rect x="1350.58" y="964.25" width="22.21" height="22.20" fill="#853b7b"/>
<rect x="1372.29" y="964.25" width="21.71" height="22.20" fill="#873c7c"/>
<rect x="873.00" y="985.95" width="304.42" height="22.20" fill="#552499"/>
<rect x="1176.92" y="985.95" width="22.21" height="22.20" fill="#874183"/>
<rect x="1198.62" y="985.95" width="22.21" height="22.20" fill="#8a4183"/>
<rect x="1220.33" y="985.95" width="22.21" height="22.20" fill="#8b4081"/>
<rect x="1242.04" y="985.95" width="22.21" height="22.20" fill="#873d7e"/>
<rect x="1263.75" y="985.95" width="22.21" height="22.20" fill="#823a7a"/>
<rect x="1285.46" y="985.95" width="22.21" height="22.20" fill="#803979"/>
<rect x="1307.17" y="985.95" width="22.21" height="22.20" fill="#7f3878"/>
<rect x="1328.88" y="985.95" width="22.21" height="22.20" fill="#803979"/>
<rect x="1350.58" y="985.95" width="22.21" height="22.20" fill="#863c7b"/>
<rect x="1372.29" y="985.95" width="21.71" height="22.20" fill="#883d7c"/>
<rect x="873.00" y="1007.64" width="326.12" height="22.20" fill="#552499"/>
<rect x="1198.62" y="1007.64" width="22.21" height="22.20" fill="#874082"/>
<rect x="1220.33" y="1007.64" width="22.21" height="22.20" fill="#8b4182"/>
<rect x="1242.04" y="1007.64" width="22.21" height="22.20" fill="#8a4081"/>
<rect x="1263.75" y="1007.64" width="22.21" height="22.20" fill="#873d7e"/>
<rect x="1285.46" y="1007.64" width="22.21" height="22.20" fill="#843b7b"/>
<rect x="1307.17" y="1007.64" width="22.21" height="22.20" fill="#833b7b"/>
<rect x="1328.88" y="1007.64" width="22.21" height="22.20" fill="#843b7b"/>
<rect x="1350.58" y="1007.64" width="22.21" height="22.20" fill="#893e7e"/>
<rect x="1372.29" y="1007.64" width="21.71" height="22.20" fill="#8b3f7f"/>
<rect x="873.00" y="1029.34" width="347.83" height="22.20" fill="#552499"/>
<rect x="1220.33" y="1029.34" width="22.21" height="22.20" fill="#8a4183"/>
<rect x="1242.04" y="1029.34" width="22.21" height="22.20" fill="#8b4182"/>
<rect x="1263.75" y="1029.34" width="22.21" height="22.20" fill="#883f80"/>
<rect x="1285.46" y="1029.34" width="22.21" height="22.20" fill="#873e7e"/>
<rect x="1307.17" y="1029.34" width="22.21" height="22.20" fill="#863e7d"/>
<rect x="1328.88" y="1029.34" width="22.21" height="22.20" fill="#883e7e"/>
<rect x="1350.58" y="1029.34" width="22.21" height="22.20" fill="#8d4181"/>
<rect x="1372.29" y="1029.34" width="21.71" height="22.20" fill="#904282"/>
<rect x="873.00" y="1051.04" width="347.83" height="22.20" fill="#552499"/>
<rect x="1220.33" y="1051.04" width="22.21" height="22.20" fill="#884183"/>
<rect x="1242.04" y="1051.04" width="22.21" height="22.20" fill="#8a4183"/>
<rect x="1263.75" y="1051.04" width="43.92" height="22.20" fill="#884080"/>
<rect x="1307.17" y="1051.04" width="22.21" height="22.20" fill="#88407f"/>
<rect x="1328.88" y="1051.04" width="22.21" height="22.20" fill="#8a407f"/>
<rect x="1350.58" y="1051.04" width="22.21" height="22.20" fill="#914383"/>
<rect x="1372.29" y="1051.04" width="21.71" height="22.20" fill="#954686"/>
<rect x="873.00" y="1072.73" width="347.83" height="22.20" fill="#552499"/>
<rect x="1220.33" y="1072.73" width="22.21" height="22.20" fill="#874083"/>
<rect x="1242.04" y="1072.73" width="22.21" height="22.20" fill="#894183"/>
<rect x="1263.75" y="1072.73" width="22.21" height="22.20" fill="#884080"/>
<rect x="1285.46" y="1072.73" width="22.21" height="22.20" fill="#883f80"/>
<rect x="1307.17" y="1072.73" width="22.21" height="22.20" fill="#88407f"/>
<rect x="1328.88" y="1072.73" width="22.21" height="22.20" fill="#8a4180"/>
<rect x="1350.58" y="1072.73" width="22.21" height="22.20" fill="#924483"/>
<rect x="1372.29" y="1072.73" width="21.71" height="22.20" fill="#974687"/>
<rect x="873.00" y="1094.43" width="347.83" height="22.20" fill="#552499"/>
<rect x="1220.33" y="1094.43" width="22.21" height="22.20" fill="#864082"/>
<rect x="1242.04" y="1094.43" width="22.21" height="22.20" fill="#884082"/>
<rect x="1263.75" y="1094.43" width="22.21" height="22.20" fill="#883e80"/>
<rect x="1285.46" y="1094.43" width="22.21" height="22.20" fill="#883e7f"/>
<rect x="1307.17" y="1094.43" width="22.21" height="22.20" fill="#883f7e"/>
<rect x="1328.88" y="1094.43" width="22.21" height="22.20" fill="#8a417f"/>
<rect x="1350.58" y="1094.43" width="22.21" height="22.20" fill="#924484"/>
<rect x="1372.29" y="1094.43" width="21.71" height="22.20" fill="#974687"/>
<rect x="873.00" y="1116.12" width="347.83" height="22.20" fill="#552499"/>
<rect x="1220.33" y="1116.12" width="22.21" height="22.20" fill="#864082"/>
<rect x="1242.04" y="1116.12" width="22.21" height="22.20" fill="#883f82"/>
<rect x="1263.75" y="1116.12" width="22.21" height="22.20" fill="#883d80"/>
<rect x="1285.46" y="1116.12" width="22.21" height="22.20" fill="#883d7f"/>
<rect x="1307.17" y="1116.12" width="22.21" height="22.20" fill="#89407e"/>
<rect x="1328.88" y="1116.12" width="22.21" height="22.20" fill="#8b427f"/>
<rect x="1350.58" y="1116.12" width="22.21" height="22.20" fill="#924584"/>
<rect x="1372.29" y="1116.12" width="21.71" height="22.20" fill="#964687"/>
<rect x="873.00" y="1137.82" width="326.12" height="22.20" fill="#552499"/>
<rect x="1198.62" y="1137.82" width="22.21" height="22.20" fill="#854082"/>
<rect x="1220.33" y="1137.82" width="22.21" height="22.20" fill="#874082"/>
<rect x="1242.04" y="1137.82" width="22.21" height="22.20" fill="#883e81"/>
<rect x="1263.75" y="1137.82" width="22.21" height="22.20" fill="#893e80"/>
<rect x="1285.46" y="1137.82" width="22.21" height="22.20" fill="#893f80"/>
<rect x="1307.17" y="1137.82" width="22.21" height="22.20" fill="#8b4381"/>
<rect x="1328.88" y="1137.82" width="22.21" height="22.20" fill="#8d4582"/>
<rect x="1350.58" y="1137.82" width="22.21" height="22.20" fill="#924684"/>
<rect x="1372.29" y="1137.82" width="21.71" height="22.20" fill="#944686"/>
<rect x="873.00" y="1159.52" width="304.42" height="22.20" fill="#552499"/>
<rect x="1176.92" y="1159.52" width="22.21" height="22.20" fill="#864183"/>
<rect x="1198.62" y="1159.52" width="22.21" height="22.20" fill="#894283"/>
<rect x="1220.33" y="1159.52" width="22.21" height="22.20" fill="#8a4182"/>
<rect x="1242.04" y="1159.52" width="22.21" height="22.20" fill="#8a3f81"/>
<rect x="1263.75" y="1159.52" width="22.21" height="22.20" fill="#8a3e80"/>
<rect x="1285.46" y="1159.52" width="22.21" height="22.20" fill="#8b4081"/>
<rect x="1307.17" y="1159.52" width="22.21" height="22.20" fill="#8e4682"/>
<rect x="1328.88" y="1159.52" width="22.21" height="22.20" fill="#8f4783"/>
<rect x="1350.58" y="1159.52" width="22.21" height="22.20" fill="#924685"/>
<rect x="1372.29" y="1159.52" width="21.71" height="22.20" fill="#934685"/>
<rect x="873.00" y="1181.21" width="304.42" height="22.20" fill="#552499"/>
<rect x="1176.92" y="1181.21" width="22.21" height="22.20" fill="#894384"/>
<rect x="1198.62" y="1181.21" width="22.21" height="22.20" fill="#8d4485"/>
<rect x="1220.33" y="1181.21" width="22.21" height="22.20" fill="#8e4384"/>
<rect x="1242.04" y="1181.21" width="43.92" height="22.20" fill="#8e4182"/>
<rect x="1285.46" y="1181.21" width="22.21" height="22.20" fill="#8e4282"/>
<rect x="1307.17" y="1181.21" width="22.21" height="22.20" fill="#904882"/>
<rect x="1328.88" y="1181.21" width="22.21" height="22.20" fill="#904883"/>
<rect x="1350.58" y="1181.21" width="43.42" height="22.20" fill="#914785"/>
<rect x="873.00" y="1202.91" width="326.12" height="22.20" fill="#552499"/>
<rect x="1198.62" y="1202.91" width="22.21" height="22.20" fill="#8c4485"/>
<rect x="1220.33" y="1202.91" width="22.21" height="22.20" fill="#8e4484"/>
<rect x="1242.04" y="1202.91" width="22.21" height="22.20" fill="#8f4283"/>
<rect x="1263.75" y="1202.91" width="22.21" height="22.20" fill="#8f4282"/>
<rect x="1285.46" y="1202.91" width="22.21" height="22.20" fill="#8f4382"/>
<rect x="1307.17" y="1202.91" width="22.21" height="22.20" fill="#904882"/>
<rect x="1328.88" y="1202.91" width="22.21" height="22.20" fill="#904983"/>
<rect x="1350.58" y="1202.91" width="22.21" height="22.20" fill="#904884"/>
<rect x="1372.29" y="1202.91" width="21.71" height="22.20" fill="#914885"/>
<rect x="873.00" y="1224.61" width="347.83" height="22.20" fill="#552499"/>
<rect x="1220.33" y="1224.61" width="22.21" height="22.20" fill="#8c4384"/>
<rect x="1242.04" y="1224.61" width="22.21" height="22.20" fill="#8f4383"/>
<rect x="1263.75" y="1224.61" width="22.21" height="22.20" fill="#8f4382"/>
<rect x="1285.46" y="1224.61" width="22.21" height="22.20" fill="#904482"/>
<rect x="1307.17" y="1224.61" width="22.21" height="22.20" fill="#904782"/>
<rect x="1328.88" y="1224.61" width="22.21" height="22.20" fill="#904883"/>
<rect x="1350.58" y="1224.61" width="22.21" height="22.20" fill="#914983"/>
<rect x="1372.29" y="1224.61" width="21.71" height="22.20" fill="#914a84"/>
<rect x="873.00" y="1246.30" width="347.83" height="21.70" fill="#552499"/>
<rect x="1220.33" y="1246.30" width="22.21" height="21.70" fill="#8c4384"/>
<rect x="1242.04" y="1246.30" width="22.21" height="21.70" fill="#8f4483"/>
<rect x="1263.75" y="1246.30" width="43.92" height="21.70" fill="#904482"/>
<rect x="1307.17" y="1246.30" width="22.21" height="21.70" fill="#904782"/>
<rect x="1328.88" y="1246.30" width="22.21" height="21.70" fill="#904883"/>
<rect x="1350.58" y="1246.30" width="22.21" height="21.70" fill="#914a83"/>
<rect x="1372.29" y="1246.30" width="21.71" height="21.70" fill="#914a84"/>
</g>
<g id="legend" shape-rendering="geometricPrecision">
<rect x="1404.5" y="671.5" width="400" height="157.5" rx="4" ry="4" fill="#ffffff" stroke="#cccccc" stroke-width="2"/>
<rect x="1411" y="680.2" width="44" height="15.6" fill="#ff8c40"/>
<rect x="1411" y="710.5" width="44" height="15.6" fill="#ccffff"/>
<rect x="1411" y="741" width="44" height="15.8" fill="#0055ff"/>
<rect x="1411" y="778" width="45" height="3" fill="#000000"/>
<rect x="1412" y="802.5" width="42" height="14.5" fill="#a0323a" stroke="#7d1a20" stroke-width="2"/>
</g>
<g id="p3">
<rect x="1730.00" y="53.00" width="22.21" height="22.20" fill="#711b99"/>
<rect x="1751.71" y="53.00" width="22.21" height="22.20" fill="#741e9a"/>
<rect x="1773.42" y="53.00" width="22.21" height="22.20" fill="#79249b"/>
<rect x="1795.12" y="53.00" width="43.92" height="22.20" fill="#7c279c"/>
<rect x="1838.54" y="53.00" width="22.21" height="22.20" fill="#7a249b"/>
<rect x="1860.25" y="53.00" width="22.21" height="22.20" fill="#741e9a"/>
<rect x="1881.96" y="53.00" width="22.21" height="22.20" fill="#721b99"/>
<rect x="1903.67" y="53.00" width="22.21" height="22.20" fill="#711a99"/>
<rect x="1925.38" y="53.00" width="22.21" height="22.20" fill="#721b99"/>
<rect x="1947.08" y="53.00" width="22.21" height="22.20" fill="#761f9a"/>
<rect x="1968.79" y="53.00" width="22.21" height="22.20" fill="#822d9c"/>
<rect x="1990.50" y="53.00" width="22.21" height="22.20" fill="#ba5e99"/>
<rect x="2012.21" y="53.00" width="22.21" height="22.20" fill="#c75585"/>
<rect x="2033.92" y="53.00" width="22.21" height="22.20" fill="#c7426c"/>
<rect x="2055.62" y="53.00" width="22.21" height="22.20" fill="#c42f58"/>
<rect x="2077.33" y="53.00" width="22.21" height="22.20" fill="#c2254d"/>
<rect x="2099.04" y="53.00" width="22.21" height="22.20" fill="#c11b45"/>
<rect x="2120.75" y="53.00" width="22.21" height="22.20" fill="#c01843"/>
<rect x="2142.46" y="53.00" width="22.21" height="22.20" fill="#c01944"/>
<rect x="2164.17" y="53.00" width="22.21" height="22.20" fill="#c11b45"/>
<rect x="2185.88" y="53.00" width="22.21" height="22.20" fill="#c11c46"/>
<rect x="2207.58" y="53.00" width="22.21" height="22.20" fill="#c11f48"/>
<rect x="2229.29" y="53.00" width="21.71" height="22.20" fill="#c2214a"/>
<rect x="1730.00" y="74.70" width="22.21" height="22.20" fill="#711a99"/>
<rect x="1751.71" y="74.70" width="22.21" height="22.20" fill="#731d9a"/>
<rect x="1773.42" y="74.70" width="22.21" height="22.20" fill="#78229b"/>
<rect x="1795.12" y="74.70" width="22.21" height="22.20" fill="#7b259b"/>
<rect x="1816.83" y="74.70" width="22.21" height="22.20" fill="#7d289c"/>
<rect x="1838.54" y="74.70" width="22.21" height="22.20" fill="#7b259b"/>
<rect x="1860.25" y="74.70" width="22.21" height="22.20" fill="#751e9a"/>
<rect x="1881.96" y="74.70" width="22.21" height="22.20" fill="#721b99"/>
<rect x="1903.67" y="74.70" width="22.21" height="22.20" fill="#711a99"/>
<rect x="1925.38" y="74.70" width="22.21" height="22.20" fill="#721b99"/>
<rect x="1947.08" y="74.70" width="22.21" height="22.20" fill="#751f9a"/>
<rect x="1968.79" y="74.70" width="22.21" height="22.20" fill="#802b9c"/>
<rect x="1990.50" y="74.70" width="22.21" height="22.20" fill="#b0599d"/>
<rect x="2012.21" y="74.70" width="22.21" height="22.20" fill="#c55687"/>
<rect x="2033.92" y="74.70" width="22.21" height="22.20" fill="#c7436f"/>
<rect x="2055.62" y="74.70" width="22.21" height="22.20" fill="#c5315a"/>
<rect x="2077.33" y="74.70" width="22.21" height="22.20" fill="#c3264f"/>
<rect x="2099.04" y="74.70" width="22.21" height="22.20" fill="#c11d46"/>
<rect x="2120.75" y="74.70" width="43.92" height="22.20" fill="#c01943"/>
<rect x="2164.17" y="74.70" width="22.21" height="22.20" fill="#c11b44"/>
<rect x="2185.88" y="74.70" width="22.21" height="22.20" fill="#c11c46"/>
<rect x="2207.58" y="74.70" width="22.21" height="22.20" fill="#c11e47"/>
<rect x="2229.29" y="74.70" width="21.71" height="22.20" fill="#c11f48"/>
<rect x="1730.00" y="96.39" width="22.21" height="22.20" fill="#711a99"/>
<rect x="1751.71" y="96.39" width="22.21" height="22.20" fill="#721b99"/>
<rect x="1773.42" y="96.39" width="22.21" height="22.20" fill="#741d9a"/>
<rect x="1795.12" y="96.39" width="22.21" height="22.20" fill="#78229b"/>
<rect x="1816.83" y="96.39" width="22.21" height="22.20" fill="#7d289c"/>
<rect x="1838.54" y="96.39" width="22.21" height="22.20" fill="#7c279c"/>
<rect x="1860.25" y="96.39" width="22.21" height="22.20" fill="#751f9a"/>
<rect x="1881.96" y="96.39" width="65.62" height="22.20" fill="#711a99"/>
<rect x="1947.08" y="96.39" width="22.21" height="22.20" fill="#741e9a"/>
<rect x="1968.79" y="96.39" width="22.21" height="22.20" fill="#7c279b"/>
<rect x="1990.50" y="96.39" width="22.21" height="22.20" fill="#9d489f"/>
<rect x="2012.21" y="96.39" width="22.21" height="22.20" fill="#bd5f98"/>
<rect x="2033.92" y="96.39" width="22.21" height="22.20" fill="#c75483"/>
<rect x="2055.62" y="96.39" width="22.21" height="22.20" fill="#c7416b"/>
<rect x="2077.33" y="96.39" width="22.21" height="22.20" fill="#c5345d"/>
<rect x="2099.04" y="96.39" width="22.21" height="22.20" fill="#c22049"/>
<rect x="2120.75" y="96.39" width="22.21" height="22.20" fill="#c11a44"/>
<rect x="2142.46" y="96.39" width="22.21" height="22.20" fill="#c01943"/>
<rect x="2164.17" y="96.39" width="22.21" height="22.20" fill="#c11a44"/>
<rect x="2185.88" y="96.39" width="22.21" height="22.20" fill="#c11c45"/>
<rect x="2207.58" y="96.39" width="43.42" height="22.20" fill="#c11d46"/>
<rect x="1730.00" y="118.09" width="22.21" height="22.20" fill="#711a99"/>
<rect x="1751.71" y="118.09" width="22.21" height="22.20" fill="#721b99"/>
<rect x="1773.42" y="118.09" width="22.21" height="22.20" fill="#721c99"/>
<rect x="1795.12" y="118.09" width="22.21" height="22.20" fill="#76209a"/>
<rect x="1816.83" y="118.09" width="22.21" height="22.20" fill="#7c279c"/>
<rect x="1838.54" y="118.09" width="22.21" height="22.20" fill="#7b269c"/>
<rect x="1860.25" y="118.09" width="22.21" height="22.20" fill="#741d9a"/>
<rect x="1881.96" y="118.09" width="22.21" height="22.20" fill="#701999"/>
<rect x="1903.67" y="118.09" width="43.92" height="22.20" fill="#6f1899"/>
<rect x="1947.08" y="118.09" width="22.21" height="22.20" fill="#711b99"/>
<rect x="1968.79" y="118.09" width="22.21" height="22.20" fill="#77219a"/>
<rect x="1990.50" y="118.09" width="22.21" height="22.20" fill="#8c389e"/>
<rect x="2012.21" y="118.09" width="22.21" height="22.20" fill="#b15a9d"/>
<rect x="2033.92" y="118.09" width="22.21" height="22.20" fill="#c55687"/>
<rect x="2055.62" y="118.09" width="22.21" height="22.20" fill="#c7436e"/>
<rect x="2077.33" y="118.09" width="22.21" height="22.20" fill="#c53660"/>
<rect x="2099.04" y="118.09" width="22.21" height="22.20" fill="#c2244c"/>
<rect x="2120.75" y="118.09" width="22.21" height="22.20" fill="#c11c46"/>
<rect x="2142.46" y="118.09" width="22.21" height="22.20" fill="#c11b45"/>
<rect x="2164.17" y="118.09" width="22.21" height="22.20" fill="#c11d47"/>
<rect x="2185.88" y="118.09" width="65.12" height="22.20" fill="#c11f48"/>
<rect x="1730.00" y="139.79" width="43.92" height="22.20" fill="#731d9a"/>
<rect x="1773.42" y="139.79" width="22.21" height="22.20" fill="#741d9a"/>
<rect x="1795.12" y="139.79" width="22.21" height="22.20" fill="#76209a"/>
<rect x="1816.83" y="139.79" width="22.21" height="22.20" fill="#7a259b"/>
<rect x="1838.54" y="139.79" width="22.21" height="22.20" fill="#79239b"/>
<rect x="1860.25" y="139.79" width="22.21" height="22.20" fill="#711a99"/>
<rect x="1881.96" y="139.79" width="22.21" height="22.20" fill="#6d1698"/>
<rect x="1903.67" y="139.79" width="43.92" height="22.20" fill="#6c1598"/>
<rect x="1947.08" y="139.79" width="22.21" height="22.20" fill="#6d1698"/>
<rect x="1968.79" y="139.79" width="22.21" height="22.20" fill="#701a99"/>
<rect x="1990.50" y="139.79" width="22.21" height="22.20" fill="#7a249b"/>
<rect x="2012.21" y="139.79" width="22.21" height="22.20" fill="#9c479f"/>
<rect x="2033.92" y="139.79" width="22.21" height="22.20" fill="#bc5e97"/>
<rect x="2055.62" y="139.79" width="22.21" height="22.20" fill="#c74a77"/>
<rect x="2077.33" y="139.79" width="22.21" height="22.20" fill="#c63b65"/>
<rect x="2099.04" y="139.79" width="22.21" height="22.20" fill="#c32851"/>
<rect x="2120.75" y="139.79" width="43.92" height="22.20" fill="#c2214a"/>
<rect x="2164.17" y="139.79" width="22.21" height="22.20" fill="#c2254d"/>
<rect x="2185.88" y="139.79" width="22.21" height="22.20" fill="#c3274f"/>
<rect x="2207.58" y="139.79" width="22.21" height="22.20" fill="#c32750"/>
<rect x="2229.29" y="139.79" width="21.71" height="22.20" fill="#c3274f"/>
<rect x="1730.00" y="161.48" width="65.62" height="22.20" fill="#78229b"/>
<rect x="1795.12" y="161.48" width="22.21" height="22.20" fill="#79239b"/>
<rect x="1816.83" y="161.48" width="22.21" height="22.20" fill="#7a259b"/>
<rect x="1838.54" y="161.48" width="22.21" height="22.20" fill="#78229b"/>
<rect x="1860.25" y="161.48" width="22.21" height="22.20" fill="#731c99"/>
<rect x="1881.96" y="161.48" width="22.21" height="22.20" fill="#6f1999"/>
<rect x="1903.67" y="161.48" width="22.21" height="22.20" fill="#6d1798"/>
<rect x="1925.38" y="161.48" width="22.21" height="22.20" fill="#6a1497"/>
<rect x="1947.08" y="161.48" width="22.21" height="22.20" fill="#691297"/>
<rect x="1968.79" y="161.48" width="22.21" height="22.20" fill="#6b1498"/>
<rect x="1990.50" y="161.48" width="22.21" height="22.20" fill="#711a99"/>
<rect x="2012.21" y="161.48" width="22.21" height="22.20" fill="#7d289b"/>
<rect x="2033.92" y="161.48" width="22.21" height="22.20" fill="#a7509d"/>
<rect x="2055.62" y="161.48" width="22.21" height="22.20" fill="#c45486"/>
<rect x="2077.33" y="161.48" width="22.21" height="22.20" fill="#c74773"/>
<rect x="2099.04" y="161.48" width="22.21" height="22.20" fill="#c5365f"/>
<rect x="2120.75" y="161.48" width="43.92" height="22.20" fill="#c32951"/>
<rect x="2164.17" y="161.48" width="22.21" height="22.20" fill="#c5345d"/>
<rect x="2185.88" y="161.48" width="22.21" height="22.20" fill="#c5355e"/>
<rect x="2207.58" y="161.48" width="43.42" height="22.20" fill="#c53760"/>
<rect x="1730.00" y="183.18" width="65.62" height="22.20" fill="#7c269c"/>
<rect x="1795.12" y="183.18" width="43.92" height="22.20" fill="#7c279c"/>
<rect x="1838.54" y="183.18" width="22.21" height="22.20" fill="#7b269b"/>
<rect x="1860.25" y="183.18" width="22.21" height="22.20" fill="#79239b"/>
<rect x="1881.96" y="183.18" width="22.21" height="22.20" fill="#77219a"/>
<rect x="1903.67" y="183.18" width="22.21" height="22.20" fill="#731c99"/>
<rect x="1925.38" y="183.18" width="22.21" height="22.20" fill="#6b1498"/>
<rect x="1947.08" y="183.18" width="22.21" height="22.20" fill="#661097"/>
<rect x="1968.79" y="183.18" width="22.21" height="22.20" fill="#671197"/>
<rect x="1990.50" y="183.18" width="22.21" height="22.20" fill="#6b1498"/>
<rect x="2012.21" y="183.18" width="22.21" height="22.20" fill="#751e9a"/>
<rect x="2033.92" y="183.18" width="22.21" height="22.20" fill="#8f3a9d"/>
<rect x="2055.62" y="183.18" width="22.21" height="22.20" fill="#bd5d96"/>
<rect x="2077.33" y="183.18" width="22.21" height="22.20" fill="#c74976"/>
<rect x="2099.04" y="183.18" width="22.21" height="22.20" fill="#c63b64"/>
<rect x="2120.75" y="183.18" width="43.92" height="22.20" fill="#c53059"/>
<rect x="2164.17" y="183.18" width="22.21" height="22.20" fill="#c5325b"/>
<rect x="2185.88" y="183.18" width="22.21" height="22.20" fill="#c5355e"/>
<rect x="2207.58" y="183.18" width="22.21" height="22.20" fill="#c84672"/>
<rect x="2229.29" y="183.18" width="21.71" height="22.20" fill="#c84874"/>
<rect x="1730.00" y="204.88" width="109.04" height="22.20" fill="#7d289c"/>
<rect x="1838.54" y="204.88" width="22.21" height="22.20" fill="#7c279c"/>
<rect x="1860.25" y="204.88" width="22.21" height="22.20" fill="#7b269c"/>
<rect x="1881.96" y="204.88" width="22.21" height="22.20" fill="#79249b"/>
<rect x="1903.67" y="204.88" width="22.21" height="22.20" fill="#741d9a"/>
<rect x="1925.38" y="204.88" width="22.21" height="22.20" fill="#6b1498"/>
<rect x="1947.08" y="204.88" width="43.92" height="22.20" fill="#661097"/>
<rect x="1990.50" y="204.88" width="22.21" height="22.20" fill="#6a1397"/>
<rect x="2012.21" y="204.88" width="22.21" height="22.20" fill="#731c99"/>
<rect x="2033.92" y="204.88" width="22.21" height="22.20" fill="#8c379d"/>
<rect x="2055.62" y="204.88" width="22.21" height="22.20" fill="#bb5d98"/>
<rect x="2077.33" y="204.88" width="22.21" height="22.20" fill="#c74976"/>
<rect x="2099.04" y="204.88" width="22.21" height="22.20" fill="#c63b65"/>
<rect x="2120.75" y="204.88" width="22.21" height="22.20" fill="#c5345d"/>
<rect x="2142.46" y="204.88" width="43.92" height="22.20" fill="#c5335c"/>
<rect x="2185.88" y="204.88" width="22.21" height="22.20" fill="#c53761"/>
<rect x="2207.58" y="204.88" width="22.21" height="22.20" fill="#c85280"/>
<rect x="2229.29" y="204.88" width="21.71" height="22.20" fill="#c85583"/>
<rect x="1730.00" y="226.57" width="109.04" height="22.20" fill="#7d289c"/>
<rect x="1838.54" y="226.57" width="22.21" height="22.20" fill="#7c279c"/>
<rect x="1860.25" y="226.57" width="22.21" height="22.20" fill="#7a259b"/>
<rect x="1881.96" y="226.57" width="22.21" height="22.20" fill="#77219a"/>
<rect x="1903.67" y="226.57" width="22.21" height="22.20" fill="#701999"/>
<rect x="1925.38" y="226.57" width="22.21" height="22.20" fill="#6a1497"/>
<rect x="1947.08" y="226.57" width="43.92" height="22.20" fill="#681297"/>
<rect x="1990.50" y="226.57" width="22.21" height="22.20" fill="#6b1598"/>
<rect x="2012.21" y="226.57" width="22.21" height="22.20" fill="#731d99"/>
<rect x="2033.92" y="226.57" width="22.21" height="22.20" fill="#812c9c"/>
<rect x="2055.62" y="226.57" width="22.21" height="22.20" fill="#b2599b"/>
<rect x="2077.33" y="226.57" width="22.21" height="22.20" fill="#c64976"/>
<rect x="2099.04" y="226.57" width="22.21" height="22.20" fill="#c63c65"/>
<rect x="2120.75" y="226.57" width="22.21" height="22.20" fill="#c63760"/>
<rect x="2142.46" y="226.57" width="22.21" height="22.20" fill="#c53760"/>
<rect x="2164.17" y="226.57" width="22.21" height="22.20" fill="#c63761"/>
<rect x="2185.88" y="226.57" width="22.21" height="22.20" fill="#c7416c"/>
<rect x="2207.58" y="226.57" width="22.21" height="22.20" fill="#c85382"/>
<rect x="2229.29" y="226.57" width="21.71" height="22.20" fill="#c85584"/>
<rect x="1730.00" y="248.27" width="109.04" height="22.20" fill="#7d289c"/>
<rect x="1838.54" y="248.27" width="22.21" height="22.20" fill="#7b269c"/>
<rect x="1860.25" y="248.27" width="22.21" height="22.20" fill="#78229b"/>
<rect x="1881.96" y="248.27" width="22.21" height="22.20" fill="#741d9a"/>
<rect x="1903.67" y="248.27" width="22.21" height="22.20" fill="#6e1798"/>
<rect x="1925.38" y="248.27" width="22.21" height="22.20" fill="#6b1498"/>
<rect x="1947.08" y="248.27" width="22.21" height="22.20" fill="#6a1497"/>
<rect x="1968.79" y="248.27" width="22.21" height="22.20" fill="#6b1498"/>
<rect x="1990.50" y="248.27" width="22.21" height="22.20" fill="#6d1798"/>
<rect x="2012.21" y="248.27" width="22.21" height="22.20" fill="#751f9a"/>
<rect x="2033.92" y="248.27" width="22.21" height="22.20" fill="#832e9c"/>
<rect x="2055.62" y="248.27" width="22.21" height="22.20" fill="#b2599b"/>
<rect x="2077.33" y="248.27" width="22.21" height="22.20" fill="#c64876"/>
<rect x="2099.04" y="248.27" width="22.21" height="22.20" fill="#c63b65"/>
<rect x="2120.75" y="248.27" width="43.92" height="22.20" fill="#c5365f"/>
<rect x="2164.17" y="248.27" width="22.21" height="22.20" fill="#c63861"/>
<rect x="2185.88" y="248.27" width="22.21" height="22.20" fill="#c7416c"/>
<rect x="2207.58" y="248.27" width="22.21" height="22.20" fill="#c84f7c"/>
<rect x="2229.29" y="248.27" width="21.71" height="22.20" fill="#c8507e"/>
<rect x="1730.00" y="269.96" width="87.33" height="22.20" fill="#7d289c"/>
<rect x="1816.83" y="269.96" width="22.21" height="22.20" fill="#7c279c"/>
<rect x="1838.54" y="269.96" width="22.21" height="22.20" fill="#79249b"/>
<rect x="1860.25" y="269.96" width="22.21" height="22.20" fill="#741d9a"/>
<rect x="1881.96" y="269.96" width="22.21" height="22.20" fill="#701999"/>
<rect x="1903.67" y="269.96" width="22.21" height="22.20" fill="#6e1798"/>
<rect x="1925.38" y="269.96" width="43.92" height="22.20" fill="#6c1698"/>
<rect x="1968.79" y="269.96" width="22.21" height="22.20" fill="#6d1698"/>
<rect x="1990.50" y="269.96" width="22.21" height="22.20" fill="#701999"/>
<rect x="2012.21" y="269.96" width="22.21" height="22.20" fill="#7a249b"/>
<rect x="2033.92" y="269.96" width="22.21" height="22.20" fill="#9c469e"/>
<rect x="2055.62" y="269.96" width="22.21" height="22.20" fill="#c15a90"/>
<rect x="2077.33" y="269.96" width="22.21" height="22.20" fill="#c7446f"/>
<rect x="2099.04" y="269.96" width="22.21" height="22.20" fill="#c63761"/>
<rect x="2120.75" y="269.96" width="43.92" height="22.20" fill="#c42e56"/>
<rect x="2164.17" y="269.96" width="22.21" height="22.20" fill="#c5365f"/>
<rect x="2185.88" y="269.96" width="22.21" height="22.20" fill="#c63c65"/>
<rect x="2207.58" y="269.96" width="22.21" height="22.20" fill="#c84773"/>
<rect x="2229.29" y="269.96" width="21.71" height="22.20" fill="#c84874"/>
<rect x="1730.00" y="291.66" width="65.62" height="22.20" fill="#7f2a9c"/>
<rect x="1795.12" y="291.66" width="22.21" height="22.20" fill="#7d289c"/>
<rect x="1816.83" y="291.66" width="22.21" height="22.20" fill="#7b259b"/>
<rect x="1838.54" y="291.66" width="22.21" height="22.20" fill="#77219a"/>
<rect x="1860.25" y="291.66" width="22.21" height="22.20" fill="#721b99"/>
<rect x="1881.96" y="291.66" width="22.21" height="22.20" fill="#6f1899"/>
<rect x="1903.67" y="291.66" width="65.62" height="22.20" fill="#6e1798"/>
<rect x="1968.79" y="291.66" width="22.21" height="22.20" fill="#6f1898"/>
<rect x="1990.50" y="291.66" width="22.21" height="22.20" fill="#721b99"/>
<rect x="2012.21" y="291.66" width="22.21" height="22.20" fill="#7e289c"/>
<rect x="2033.92" y="291.66" width="22.21" height="22.20" fill="#a7519e"/>
<rect x="2055.62" y="291.66" width="22.21" height="22.20" fill="#c55486"/>
<rect x="2077.33" y="291.66" width="22.21" height="22.20" fill="#c7436d"/>
<rect x="2099.04" y="291.66" width="22.21" height="22.20" fill="#c53760"/>
<rect x="2120.75" y="291.66" width="22.21" height="22.20" fill="#c42a53"/>
<rect x="2142.46" y="291.66" width="22.21" height="22.20" fill="#c42a52"/>
<rect x="2164.17" y="291.66" width="22.21" height="22.20" fill="#c42e56"/>
<rect x="2185.88" y="291.66" width="22.21" height="22.20" fill="#c63760"/>
<rect x="2207.58" y="291.66" width="22.21" height="22.20" fill="#c7416b"/>
<rect x="2229.29" y="291.66" width="21.71" height="22.20" fill="#c7416c"/>
<rect x="1730.00" y="313.36" width="22.21" height="22.20" fill="#822d9d"/>
<rect x="1751.71" y="313.36" width="22.21" height="22.20" fill="#822e9d"/>
<rect x="1773.42" y="313.36" width="22.21" height="22.20" fill="#822d9d"/>
<rect x="1795.12" y="313.36" width="22.21" height="22.20" fill="#7e299c"/>
<rect x="1816.83" y="313.36" width="22.21" height="22.20" fill="#78229b"/>
<rect x="1838.54" y="313.36" width="22.21" height="22.20" fill="#741d9a"/>
<rect x="1860.25" y="313.36" width="22.21" height="22.20" fill="#711a99"/>
<rect x="1881.96" y="313.36" width="109.04" height="22.20" fill="#701999"/>
<rect x="1990.50" y="313.36" width="22.21" height="22.20" fill="#741d9a"/>
<rect x="2012.21" y="313.36" width="22.21" height="22.20" fill="#8b369e"/>
<rect x="2033.92" y="313.36" width="22.21" height="22.20" fill="#b15a9d"/>
<rect x="2055.62" y="313.36" width="22.21" height="22.20" fill="#c65585"/>
<rect x="2077.33" y="313.36" width="22.21" height="22.20" fill="#c7426d"/>
<rect x="2099.04" y="313.36" width="22.21" height="22.20" fill="#c53760"/>
<rect x="2120.75" y="313.36" width="43.92" height="22.20" fill="#c32951"/>
<rect x="2164.17" y="313.36" width="22.21" height="22.20" fill="#c42c55"/>
<rect x="2185.88" y="313.36" width="22.21" height="22.20" fill="#c5365f"/>
<rect x="2207.58" y="313.36" width="43.42" height="22.20" fill="#c63b64"/>
<rect x="1730.00" y="335.05" width="22.21" height="22.20" fill="#7f2a9c"/>
<rect x="1751.71" y="335.05" width="22.21" height="22.20" fill="#802b9c"/>
<rect x="1773.42" y="335.05" width="22.21" height="22.20" fill="#812c9d"/>
<rect x="1795.12" y="335.05" width="22.21" height="22.20" fill="#7e299c"/>
<rect x="1816.83" y="335.05" width="22.21" height="22.20" fill="#77219b"/>
<rect x="1838.54" y="335.05" width="22.21" height="22.20" fill="#731c99"/>
<rect x="1860.25" y="335.05" width="130.75" height="22.20" fill="#711a99"/>
<rect x="1990.50" y="335.05" width="22.21" height="22.20" fill="#741e9a"/>
<rect x="2012.21" y="335.05" width="22.21" height="22.20" fill="#8b379e"/>
<rect x="2033.92" y="335.05" width="22.21" height="22.20" fill="#b15a9e"/>
<rect x="2055.62" y="335.05" width="22.21" height="22.20" fill="#c65586"/>
<rect x="2077.33" y="335.05" width="22.21" height="22.20" fill="#c7436e"/>
<rect x="2099.04" y="335.05" width="22.21" height="22.20" fill="#c53660"/>
<rect x="2120.75" y="335.05" width="43.92" height="22.20" fill="#c3274f"/>
<rect x="2164.17" y="335.05" width="22.21" height="22.20" fill="#c42b53"/>
<rect x="2185.88" y="335.05" width="22.21" height="22.20" fill="#c5365f"/>
<rect x="2207.58" y="335.05" width="43.42" height="22.20" fill="#c63760"/>
<rect x="1730.00" y="356.75" width="22.21" height="22.20" fill="#77219a"/>
<rect x="1751.71" y="356.75" width="22.21" height="22.20" fill="#79239b"/>
<rect x="1773.42" y="356.75" width="22.21" height="22.20" fill="#7c279c"/>
<rect x="1795.12" y="356.75" width="22.21" height="22.20" fill="#7d279c"/>
<rect x="1816.83" y="356.75" width="22.21" height="22.20" fill="#79239b"/>
<rect x="1838.54" y="356.75" width="22.21" height="22.20" fill="#741d9a"/>
<rect x="1860.25" y="356.75" width="22.21" height="22.20" fill="#721b99"/>
<rect x="1881.96" y="356.75" width="109.04" height="22.20" fill="#711a99"/>
<rect x="1990.50" y="356.75" width="22.21" height="22.20" fill="#741e9a"/>
<rect x="2012.21" y="356.75" width="22.21" height="22.20" fill="#7f2a9c"/>
<rect x="2033.92" y="356.75" width="22.21" height="22.20" fill="#a7529f"/>
<rect x="2055.62" y="356.75" width="22.21" height="22.20" fill="#c35c91"/>
<rect x="2077.33" y="356.75" width="22.21" height="22.20" fill="#c74874"/>
<rect x="2099.04" y="356.75" width="22.21" height="22.20" fill="#c53760"/>
<rect x="2120.75" y="356.75" width="22.21" height="22.20" fill="#c2244c"/>
<rect x="2142.46" y="356.75" width="22.21" height="22.20" fill="#c2234c"/>
<rect x="2164.17" y="356.75" width="22.21" height="22.20" fill="#c3274f"/>
<rect x="2185.88" y="356.75" width="22.21" height="22.20" fill="#c5355e"/>
<rect x="2207.58" y="356.75" width="43.42" height="22.20" fill="#c63760"/>
<rect x="1730.00" y="378.45" width="22.21" height="22.20" fill="#741e9a"/>
<rect x="1751.71" y="378.45" width="22.21" height="22.20" fill="#76209a"/>
<rect x="1773.42" y="378.45" width="22.21" height="22.20" fill="#7a249b"/>
<rect x="1795.12" y="378.45" width="22.21" height="22.20" fill="#7b269c"/>
<rect x="1816.83" y="378.45" width="22.21" height="22.20" fill="#79249b"/>
<rect x="1838.54" y="378.45" width="22.21" height="22.20" fill="#761f9a"/>
<rect x="1860.25" y="378.45" width="22.21" height="22.20" fill="#741d9a"/>
<rect x="1881.96" y="378.45" width="22.21" height="22.20" fill="#721c99"/>
<rect x="1903.67" y="378.45" width="22.21" height="22.20" fill="#711a99"/>
<rect x="1925.38" y="378.45" width="43.92" height="22.20" fill="#701999"/>
<rect x="1968.79" y="378.45" width="22.21" height="22.20" fill="#701a99"/>
<rect x="1990.50" y="378.45" width="22.21" height="22.20" fill="#731d9a"/>
<rect x="2012.21" y="378.45" width="22.21" height="22.20" fill="#7b269b"/>
<rect x="2033.92" y="378.45" width="22.21" height="22.20" fill="#9b479f"/>
<rect x="2055.62" y="378.45" width="22.21" height="22.20" fill="#bd5f98"/>
<rect x="2077.33" y="378.45" width="22.21" height="22.20" fill="#c74976"/>
<rect x="2099.04" y="378.45" width="22.21" height="22.20" fill="#c53660"/>
<rect x="2120.75" y="378.45" width="22.21" height="22.20" fill="#c2214a"/>
<rect x="2142.46" y="378.45" width="22.21" height="22.20" fill="#c12048"/>
<rect x="2164.17" y="378.45" width="22.21" height="22.20" fill="#c2244c"/>
<rect x="2185.88" y="378.45" width="22.21" height="22.20" fill="#c5345d"/>
<rect x="2207.58" y="378.45" width="22.21" height="22.20" fill="#c63a63"/>
<rect x="2229.29" y="378.45" width="21.71" height="22.20" fill="#c63b64"/>
<rect x="1730.00" y="400.14" width="22.21" height="22.20" fill="#77219b"/>
<rect x="1751.71" y="400.14" width="22.21" height="22.20" fill="#78229b"/>
<rect x="1773.42" y="400.14" width="22.21" height="22.20" fill="#79249b"/>
<rect x="1795.12" y="400.14" width="22.21" height="22.20" fill="#7a259b"/>
<rect x="1816.83" y="400.14" width="22.21" height="22.20" fill="#79249b"/>
<rect x="1838.54" y="400.14" width="22.21" height="22.20" fill="#78229b"/>
<rect x="1860.25" y="400.14" width="22.21" height="22.20" fill="#77219a"/>
<rect x="1881.96" y="400.14" width="22.21" height="22.20" fill="#751e9a"/>
<rect x="1903.67" y="400.14" width="22.21" height="22.20" fill="#711a99"/>
<rect x="1925.38" y="400.14" width="22.21" height="22.20" fill="#6f1898"/>
<rect x="1947.08" y="400.14" width="22.21" height="22.20" fill="#6e1798"/>
<rect x="1968.79" y="400.14" width="22.21" height="22.20" fill="#6f1898"/>
<rect x="1990.50" y="400.14" width="22.21" height="22.20" fill="#711a99"/>
<rect x="2012.21" y="400.14" width="22.21" height="22.20" fill="#77219b"/>
<rect x="2033.92" y="400.14" width="22.21" height="22.20" fill="#842f9c"/>
<rect x="2055.62" y="400.14" width="22.21" height="22.20" fill="#b2599b"/>
<rect x="2077.33" y="400.14" width="22.21" height="22.20" fill="#c64976"/>
<rect x="2099.04" y="400.14" width="22.21" height="22.20" fill="#c53760"/>
<rect x="2120.75" y="400.14" width="22.21" height="22.20" fill="#c2234c"/>
<rect x="2142.46" y="400.14" width="22.21" height="22.20" fill="#c11f48"/>
<rect x="2164.17" y="400.14" width="22.21" height="22.20" fill="#c22149"/>
<rect x="2185.88" y="400.14" width="22.21" height="22.20" fill="#c32951"/>
<rect x="2207.58" y="400.14" width="22.21" height="22.20" fill="#c63a63"/>
<rect x="2229.29" y="400.14" width="21.71" height="22.20" fill="#c63c65"/>
<rect x="1730.00" y="421.84" width="43.92" height="22.20" fill="#79249b"/>
<rect x="1773.42" y="421.84" width="65.62" height="22.20" fill="#7a249b"/>
<rect x="1838.54" y="421.84" width="22.21" height="22.20" fill="#79249b"/>
<rect x="1860.25" y="421.84" width="22.21" height="22.20" fill="#79239b"/>
<rect x="1881.96" y="421.84" width="22.21" height="22.20" fill="#76209a"/>
<rect x="1903.67" y="421.84" width="22.21" height="22.20" fill="#711a99"/>
<rect x="1925.38" y="421.84" width="22.21" height="22.20" fill="#6e1798"/>
<rect x="1947.08" y="421.84" width="22.21" height="22.20" fill="#6d1698"/>
<rect x="1968.79" y="421.84" width="22.21" height="22.20" fill="#6d1798"/>
<rect x="1990.50" y="421.84" width="22.21" height="22.20" fill="#6f1999"/>
<rect x="2012.21" y="421.84" width="22.21" height="22.20" fill="#751f9a"/>
<rect x="2033.92" y="421.84" width="22.21" height="22.20" fill="#812b9c"/>
<rect x="2055.62" y="421.84" width="22.21" height="22.20" fill="#b0589c"/>
<rect x="2077.33" y="421.84" width="22.21" height="22.20" fill="#c64977"/>
<rect x="2099.04" y="421.84" width="22.21" height="22.20" fill="#c53761"/>
<rect x="2120.75" y="421.84" width="22.21" height="22.20" fill="#c3254e"/>
<rect x="2142.46" y="421.84" width="22.21" height="22.20" fill="#c12049"/>
<rect x="2164.17" y="421.84" width="22.21" height="22.20" fill="#c22149"/>
<rect x="2185.88" y="421.84" width="22.21" height="22.20" fill="#c32951"/>
<rect x="2207.58" y="421.84" width="22.21" height="22.20" fill="#c7406a"/>
<rect x="2229.29" y="421.84" width="21.71" height="22.20" fill="#c7436e"/>
<rect x="1730.00" y="443.54" width="130.75" height="22.20" fill="#7a259b"/>
<rect x="1860.25" y="443.54" width="22.21" height="22.20" fill="#7a249b"/>
<rect x="1881.96" y="443.54" width="22.21" height="22.20" fill="#77219a"/>
<rect x="1903.67" y="443.54" width="22.21" height="22.20" fill="#701999"/>
<rect x="1925.38" y="443.54" width="22.21" height="22.20" fill="#6c1698"/>
<rect x="1947.08" y="443.54" width="43.92" height="22.20" fill="#6c1598"/>
<rect x="1990.50" y="443.54" width="22.21" height="22.20" fill="#6d1698"/>
<rect x="2012.21" y="443.54" width="22.21" height="22.20" fill="#721b99"/>
<rect x="2033.92" y="443.54" width="22.21" height="22.20" fill="#7c269b"/>
<rect x="2055.62" y="443.54" width="22.21" height="22.20" fill="#a6509d"/>
<rect x="2077.33" y="443.54" width="22.21" height="22.20" fill="#c54f80"/>
<rect x="2099.04" y="443.54" width="22.21" height="22.20" fill="#c63c65"/>
<rect x="2120.75" y="443.54" width="22.21" height="22.20" fill="#c32951"/>
<rect x="2142.46" y="443.54" width="22.21" height="22.20" fill="#c2244c"/>
<rect x="2164.17" y="443.54" width="22.21" height="22.20" fill="#c2244d"/>
<rect x="2185.88" y="443.54" width="22.21" height="22.20" fill="#c5365f"/>
<rect x="2207.58" y="443.54" width="22.21" height="22.20" fill="#c74875"/>
<rect x="2229.29" y="443.54" width="21.71" height="22.20" fill="#c65b8e"/>
<rect x="1730.00" y="465.23" width="130.75" height="22.20" fill="#7c279c"/>
<rect x="1860.25" y="465.23" width="22.21" height="22.20" fill="#7b269c"/>
<rect x="1881.96" y="465.23" width="22.21" height="22.20" fill="#78229b"/>
<rect x="1903.67" y="465.23" width="22.21" height="22.20" fill="#6f1999"/>
<rect x="1925.38" y="465.23" width="22.21" height="22.20" fill="#691397"/>
<rect x="1947.08" y="465.23" width="43.92" height="22.20" fill="#671197"/>
<rect x="1990.50" y="465.23" width="22.21" height="22.20" fill="#681297"/>
<rect x="2012.21" y="465.23" width="22.21" height="22.20" fill="#6c1598"/>
<rect x="2033.92" y="465.23" width="22.21" height="22.20" fill="#751f9a"/>
<rect x="2055.62" y="465.23" width="22.21" height="22.20" fill="#9b459e"/>
<rect x="2077.33" y="465.23" width="22.21" height="22.20" fill="#c15a90"/>
<rect x="2099.04" y="465.23" width="22.21" height="22.20" fill="#c7436f"/>
<rect x="2120.75" y="465.23" width="22.21" height="22.20" fill="#c5365f"/>
<rect x="2142.46" y="465.23" width="22.21" height="22.20" fill="#c3274f"/>
<rect x="2164.17" y="465.23" width="22.21" height="22.20" fill="#c32750"/>
<rect x="2185.88" y="465.23" width="22.21" height="22.20" fill="#c63b64"/>
<rect x="2207.58" y="465.23" width="22.21" height="22.20" fill="#c75483"/>
<rect x="2229.29" y="465.23" width="21.71" height="22.20" fill="#c16398"/>
<rect x="1730.00" y="486.93" width="130.75" height="22.20" fill="#7d289c"/>
<rect x="1860.25" y="486.93" width="22.21" height="22.20" fill="#7c279c"/>
<rect x="1881.96" y="486.93" width="22.21" height="22.20" fill="#78239b"/>
<rect x="1903.67" y="486.93" width="22.21" height="22.20" fill="#6f1899"/>
<rect x="1925.38" y="486.93" width="22.21" height="22.20" fill="#650f96"/>
<rect x="1947.08" y="486.93" width="22.21" height="22.20" fill="#610b96"/>
<rect x="1968.79" y="486.93" width="22.21" height="22.20" fill="#600a96"/>
<rect x="1990.50" y="486.93" width="22.21" height="22.20" fill="#610b96"/>
<rect x="2012.21" y="486.93" width="22.21" height="22.20" fill="#661096"/>
<rect x="2033.92" y="486.93" width="22.21" height="22.20" fill="#701999"/>
<rect x="2055.62" y="486.93" width="22.21" height="22.20" fill="#822c9b"/>
<rect x="2077.33" y="486.93" width="22.21" height="22.20" fill="#bb5d98"/>
<rect x="2099.04" y="486.93" width="22.21" height="22.20" fill="#c74f7d"/>
<rect x="2120.75" y="486.93" width="22.21" height="22.20" fill="#c63b64"/>
<rect x="2142.46" y="486.93" width="43.92" height="22.20" fill="#c32850"/>
<rect x="2185.88" y="486.93" width="22.21" height="22.20" fill="#c63b65"/>
<rect x="2207.58" y="486.93" width="22.21" height="22.20" fill="#c75483"/>
<rect x="2229.29" y="486.93" width="21.71" height="22.20" fill="#c16297"/>
<rect x="1730.00" y="508.63" width="130.75" height="22.20" fill="#7c279c"/>
<rect x="1860.25" y="508.63" width="22.21" height="22.20" fill="#7b269c"/>
<rect x="1881.96" y="508.63" width="22.21" height="22.20" fill="#77229b"/>
<rect x="1903.67" y="508.63" width="22.21" height="22.20" fill="#6e1798"/>
<rect x="1925.38" y="508.63" width="22.21" height="22.20" fill="#630d96"/>
<rect x="1947.08" y="508.63" width="22.21" height="22.20" fill="#5d0795"/>
<rect x="1968.79" y="508.63" width="22.21" height="22.20" fill="#5c0695"/>
<rect x="1990.50" y="508.63" width="22.21" height="22.20" fill="#5e0895"/>
<rect x="2012.21" y="508.63" width="22.21" height="22.20" fill="#650f96"/>
<rect x="2033.92" y="508.63" width="22.21" height="22.20" fill="#711a99"/>
<rect x="2055.62" y="508.63" width="22.21" height="22.20" fill="#8f399d"/>
<rect x="2077.33" y="508.63" width="22.21" height="22.20" fill="#bd5d95"/>
<rect x="2099.04" y="508.63" width="22.21" height="22.20" fill="#c74e7c"/>
<rect x="2120.75" y="508.63" width="22.21" height="22.20" fill="#c63962"/>
<rect x="2142.46" y="508.63" width="43.92" height="22.20" fill="#c3264e"/>
<rect x="2185.88" y="508.63" width="22.21" height="22.20" fill="#c53760"/>
<rect x="2207.58" y="508.63" width="22.21" height="22.20" fill="#c74d7a"/>
<rect x="2229.29" y="508.63" width="21.71" height="22.20" fill="#c7507e"/>
<rect x="1730.00" y="530.32" width="130.75" height="22.20" fill="#7a259b"/>
<rect x="1860.25" y="530.32" width="22.21" height="22.20" fill="#7a249b"/>
<rect x="1881.96" y="530.32" width="22.21" height="22.20" fill="#751f9a"/>
<rect x="1903.67" y="530.32" width="22.21" height="22.20" fill="#6b1498"/>
<rect x="1925.38" y="530.32" width="22.21" height="22.20" fill="#610c96"/>
<rect x="1947.08" y="530.32" width="22.21" height="22.20" fill="#5b0595"/>
<rect x="1968.79" y="530.32" width="22.21" height="22.20" fill="#590495"/>
<rect x="1990.50" y="530.32" width="22.21" height="22.20" fill="#5e0895"/>
<rect x="2012.21" y="530.32" width="22.21" height="22.20" fill="#6a1397"/>
<rect x="2033.92" y="530.32" width="22.21" height="22.20" fill="#7a249a"/>
<rect x="2055.62" y="530.32" width="22.21" height="22.20" fill="#ae569b"/>
<rect x="2077.33" y="530.32" width="22.21" height="22.20" fill="#c44673"/>
<rect x="2099.04" y="530.32" width="22.21" height="22.20" fill="#c53962"/>
<rect x="2120.75" y="530.32" width="22.21" height="22.20" fill="#c3274f"/>
<rect x="2142.46" y="530.32" width="22.21" height="22.20" fill="#c22049"/>
<rect x="2164.17" y="530.32" width="22.21" height="22.20" fill="#c2214a"/>
<rect x="2185.88" y="530.32" width="22.21" height="22.20" fill="#c32851"/>
<rect x="2207.58" y="530.32" width="22.21" height="22.20" fill="#c53660"/>
<rect x="2229.29" y="530.32" width="21.71" height="22.20" fill="#c53861"/>
<rect x="1730.00" y="552.02" width="109.04" height="22.20" fill="#7a249b"/>
<rect x="1838.54" y="552.02" width="22.21" height="22.20" fill="#79249b"/>
<rect x="1860.25" y="552.02" width="22.21" height="22.20" fill="#79239b"/>
<rect x="1881.96" y="552.02" width="22.21" height="22.20" fill="#741d9a"/>
<rect x="1903.67" y="552.02" width="22.21" height="22.20" fill="#691397"/>
<rect x="1925.38" y="552.02" width="22.21" height="22.20" fill="#610b96"/>
<rect x="1947.08" y="552.02" width="22.21" height="22.20" fill="#5c0695"/>
<rect x="1968.79" y="552.02" width="22.21" height="22.20" fill="#5b0595"/>
<rect x="1990.50" y="552.02" width="22.21" height="22.20" fill="#620c96"/>
<rect x="2012.21" y="552.02" width="22.21" height="22.20" fill="#701999"/>
<rect x="2033.92" y="552.02" width="22.21" height="22.20" fill="#903b9d"/>
<rect x="2055.62" y="552.02" width="22.21" height="22.20" fill="#bc5d96"/>
<rect x="2077.33" y="552.02" width="22.21" height="22.20" fill="#c74874"/>
<rect x="2099.04" y="552.02" width="22.21" height="22.20" fill="#c53660"/>
<rect x="2120.75" y="552.02" width="22.21" height="22.20" fill="#c2234c"/>
<rect x="2142.46" y="552.02" width="22.21" height="22.20" fill="#c11d47"/>
<rect x="2164.17" y="552.02" width="22.21" height="22.20" fill="#c11e47"/>
<rect x="2185.88" y="552.02" width="22.21" height="22.20" fill="#c2234c"/>
<rect x="2207.58" y="552.02" width="43.42" height="22.20" fill="#c3274f"/>
<rect x="1730.00" y="573.71" width="22.21" height="22.20" fill="#7a249b"/>
<rect x="1751.71" y="573.71" width="109.04" height="22.20" fill="#79249b"/>
<rect x="1860.25" y="573.71" width="22.21" height="22.20" fill="#78239b"/>
<rect x="1881.96" y="573.71" width="22.21" height="22.20" fill="#731d9a"/>
<rect x="1903.67" y="573.71" width="22.21" height="22.20" fill="#691397"/>
<rect x="1925.38" y="573.71" width="22.21" height="22.20" fill="#640e96"/>
<rect x="1947.08" y="573.71" width="22.21" height="22.20" fill="#630d96"/>
<rect x="1968.79" y="573.71" width="22.21" height="22.20" fill="#650f96"/>
<rect x="1990.50" y="573.71" width="22.21" height="22.20" fill="#6e1898"/>
<rect x="2012.21" y="573.71" width="22.21" height="22.20" fill="#7e279a"/>
<rect x="2033.92" y="573.71" width="22.21" height="22.20" fill="#b0579b"/>
<rect x="2055.62" y="573.71" width="22.21" height="22.20" fill="#c55384"/>
<rect x="2077.33" y="573.71" width="22.21" height="22.20" fill="#c6406b"/>
<rect x="2099.04" y="573.71" width="22.21" height="22.20" fill="#c5345d"/>
<rect x="2120.75" y="573.71" width="22.21" height="22.20" fill="#c12049"/>
<rect x="2142.46" y="573.71" width="22.21" height="22.20" fill="#c11a44"/>
<rect x="2164.17" y="573.71" width="22.21" height="22.20" fill="#c01a44"/>
<rect x="2185.88" y="573.71" width="22.21" height="22.20" fill="#c11d46"/>
<rect x="2207.58" y="573.71" width="43.42" height="22.20" fill="#c11f48"/>
<rect x="1730.00" y="595.41" width="22.21" height="22.20" fill="#7a259b"/>
<rect x="1751.71" y="595.41" width="22.21" height="22.20" fill="#7a249b"/>
<rect x="1773.42" y="595.41" width="43.92" height="22.20" fill="#79239b"/>
<rect x="1816.83" y="595.41" width="43.92" height="22.20" fill="#78239b"/>
<rect x="1860.25" y="595.41" width="22.21" height="22.20" fill="#78229b"/>
<rect x="1881.96" y="595.41" width="22.21" height="22.20" fill="#741e9a"/>
<rect x="1903.67" y="595.41" width="22.21" height="22.20" fill="#6f1898"/>
<rect x="1925.38" y="595.41" width="22.21" height="22.20" fill="#6d1798"/>
<rect x="1947.08" y="595.41" width="22.21" height="22.20" fill="#711a99"/>
<rect x="1968.79" y="595.41" width="22.21" height="22.20" fill="#79229a"/>
<rect x="1990.50" y="595.41" width="22.21" height="22.20" fill="#9b459d"/>
<rect x="2012.21" y="595.41" width="22.21" height="22.20" fill="#b95a96"/>
<rect x="2033.92" y="595.41" width="22.21" height="22.20" fill="#c55283"/>
<rect x="2055.62" y="595.41" width="22.21" height="22.20" fill="#c6406b"/>
<rect x="2077.33" y="595.41" width="22.21" height="22.20" fill="#c2264f"/>
<rect x="2099.04" y="595.41" width="22.21" height="22.20" fill="#c11f48"/>
<rect x="2120.75" y="595.41" width="22.21" height="22.20" fill="#c01943"/>
<rect x="2142.46" y="595.41" width="43.92" height="22.20" fill="#c01641"/>
<rect x="2185.88" y="595.41" width="22.21" height="22.20" fill="#c01a44"/>
<rect x="2207.58" y="595.41" width="43.42" height="22.20" fill="#c11b45"/>
<rect x="1730.00" y="617.11" width="22.21" height="22.20" fill="#7b269c"/>
<rect x="1751.71" y="617.11" width="22.21" height="22.20" fill="#7b259b"/>
<rect x="1773.42" y="617.11" width="22.21" height="22.20" fill="#79239b"/>
<rect x="1795.12" y="617.11" width="22.21" height="22.20" fill="#78239b"/>
<rect x="1816.83" y="617.11" width="87.33" height="22.20" fill="#79239b"/>
<rect x="1903.67" y="617.11" width="22.21" height="22.20" fill="#79239a"/>
<rect x="1925.38" y="617.11" width="22.21" height="22.20" fill="#7c269b"/>
<rect x="1947.08" y="617.11" width="22.21" height="22.20" fill="#8f3a9e"/>
<rect x="1968.79" y="617.11" width="22.21" height="22.20" fill="#a74f9d"/>
<rect x="1990.50" y="617.11" width="22.21" height="22.20" fill="#c05890"/>
<rect x="2012.21" y="617.11" width="22.21" height="22.20" fill="#c64875"/>
<rect x="2033.92" y="617.11" width="22.21" height="22.20" fill="#c53761"/>
<rect x="2055.62" y="617.11" width="22.21" height="22.20" fill="#c2224b"/>
<rect x="2077.33" y="617.11" width="22.21" height="22.20" fill="#c01943"/>
<rect x="2099.04" y="617.11" width="22.21" height="22.20" fill="#bf143f"/>
<rect x="2120.75" y="617.11" width="43.92" height="22.20" fill="#bf123d"/>
<rect x="2164.17" y="617.11" width="22.21" height="22.20" fill="#c01540"/>
<rect x="2185.88" y="617.11" width="22.21" height="22.20" fill="#c01943"/>
<rect x="2207.58" y="617.11" width="22.21" height="22.20" fill="#c11b44"/>
<rect x="2229.29" y="617.11" width="21.71" height="22.20" fill="#c11b45"/>
<rect x="1730.00" y="638.80" width="43.92" height="22.20" fill="#7a249b"/>
<rect x="1773.42" y="638.80" width="22.21" height="22.20" fill="#7b259b"/>
<rect x="1795.12" y="638.80" width="22.21" height="22.20" fill="#7b269c"/>
<rect x="1816.83" y="638.80" width="22.21" height="22.20" fill="#7c279c"/>
<rect x="1838.54" y="638.80" width="22.21" height="22.20" fill="#7f2a9c"/>
<rect x="1860.25" y="638.80" width="22.21" height="22.20" fill="#8c379e"/>
<rect x="1881.96" y="638.80" width="22.21" height="22.20" fill="#9c479f"/>
<rect x="1903.67" y="638.80" width="22.21" height="22.20" fill="#a5509e"/>
<rect x="1925.38" y="638.80" width="22.21" height="22.20" fill="#a7519d"/>
<rect x="1947.08" y="638.80" width="22.21" height="22.20" fill="#b3599a"/>
<rect x="1968.79" y="638.80" width="22.21" height="22.20" fill="#c45385"/>
<rect x="1990.50" y="638.80" width="22.21" height="22.20" fill="#c74673"/>
<rect x="2012.21" y="638.80" width="22.21" height="22.20" fill="#c42e57"/>
<rect x="2033.92" y="638.80" width="22.21" height="22.20" fill="#c2234c"/>
<rect x="2055.62" y="638.80" width="22.21" height="22.20" fill="#c01a44"/>
<rect x="2077.33" y="638.80" width="22.21" height="22.20" fill="#bf133e"/>
<rect x="2099.04" y="638.80" width="22.21" height="22.20" fill="#be103b"/>
<rect x="2120.75" y="638.80" width="22.21" height="22.20" fill="#be0f3b"/>
<rect x="2142.46" y="638.80" width="22.21" height="22.20" fill="#bf113d"/>
<rect x="2164.17" y="638.80" width="22.21" height="22.20" fill="#c01641"/>
<rect x="2185.88" y="638.80" width="22.21" height="22.20" fill="#c01a44"/>
<rect x="2207.58" y="638.80" width="22.21" height="22.20" fill="#c11b44"/>
<rect x="2229.29" y="638.80" width="21.71" height="22.20" fill="#c11b45"/>
<rect x="1730.00" y="660.50" width="22.21" height="22.20" fill="#751e9a"/>
<rect x="1751.71" y="660.50" width="22.21" height="22.20" fill="#77219a"/>
<rect x="1773.42" y="660.50" width="22.21" height="22.20" fill="#7a259b"/>
<rect x="1795.12" y="660.50" width="22.21" height="22.20" fill="#7d289c"/>
<rect x="1816.83" y="660.50" width="22.21" height="22.20" fill="#802b9d"/>
<rect x="1838.54" y="660.50" width="22.21" height="22.20" fill="#8f3b9f"/>
<rect x="1860.25" y="660.50" width="22.21" height="22.20" fill="#a7529f"/>
<rect x="1881.96" y="660.50" width="22.21" height="22.20" fill="#bc5f98"/>
<rect x="1903.67" y="660.50" width="22.21" height="22.20" fill="#c45587"/>
<rect x="1925.38" y="660.50" width="22.21" height="22.20" fill="#c55384"/>
<rect x="1947.08" y="660.50" width="22.21" height="22.20" fill="#c64876"/>
<rect x="1968.79" y="660.50" width="22.21" height="22.20" fill="#c53b65"/>
<rect x="1990.50" y="660.50" width="22.21" height="22.20" fill="#c42c55"/>
<rect x="2012.21" y="660.50" width="22.21" height="22.20" fill="#c2244c"/>
<rect x="2033.92" y="660.50" width="22.21" height="22.20" fill="#c11b45"/>
<rect x="2055.62" y="660.50" width="22.21" height="22.20" fill="#bf143f"/>
<rect x="2077.33" y="660.50" width="22.21" height="22.20" fill="#be103b"/>
<rect x="2099.04" y="660.50" width="22.21" height="22.20" fill="#be0f3b"/>
<rect x="2120.75" y="660.50" width="22.21" height="22.20" fill="#bf113c"/>
<rect x="2142.46" y="660.50" width="22.21" height="22.20" fill="#bf143f"/>
<rect x="2164.17" y="660.50" width="22.21" height="22.20" fill="#c01842"/>
<rect x="2185.88" y="660.50" width="22.21" height="22.20" fill="#c11a44"/>
<rect x="2207.58" y="660.50" width="43.42" height="22.20" fill="#c11b45"/>
<rect x="1730.00" y="682.20" width="22.21" height="22.20" fill="#721b99"/>
<rect x="1751.71" y="682.20" width="22.21" height="22.20" fill="#751e9a"/>
<rect x="1773.42" y="682.20" width="22.21" height="22.20" fill="#7a249b"/>
<rect x="1795.12" y="682.20" width="22.21" height="22.20" fill="#7c279c"/>
<rect x="1816.83" y="682.20" width="22.21" height="22.20" fill="#7f299c"/>
<rect x="1838.54" y="682.20" width="22.21" height="22.20" fill="#9b479f"/>
<rect x="1860.25" y="682.20" width="22.21" height="22.20" fill="#bb609a"/>
<rect x="1881.96" y="682.20" width="22.21" height="22.20" fill="#c65686"/>
<rect x="1903.67" y="682.20" width="22.21" height="22.20" fill="#c74874"/>
<rect x="1925.38" y="682.20" width="22.21" height="22.20" fill="#c63b65"/>
<rect x="1947.08" y="682.20" width="22.21" height="22.20" fill="#c5355e"/>
<rect x="1968.79" y="682.20" width="22.21" height="22.20" fill="#c2234c"/>
<rect x="1990.50" y="682.20" width="22.21" height="22.20" fill="#c11f48"/>
<rect x="2012.21" y="682.20" width="22.21" height="22.20" fill="#c01943"/>
<rect x="2033.92" y="682.20" width="22.21" height="22.20" fill="#bf123d"/>
<rect x="2055.62" y="682.20" width="22.21" height="22.20" fill="#be0e3a"/>
<rect x="2077.33" y="682.20" width="22.21" height="22.20" fill="#be0d39"/>
<rect x="2099.04" y="682.20" width="22.21" height="22.20" fill="#be0f3b"/>
<rect x="2120.75" y="682.20" width="22.21" height="22.20" fill="#bf133f"/>
<rect x="2142.46" y="682.20" width="22.21" height="22.20" fill="#c01741"/>
<rect x="2164.17" y="682.20" width="22.21" height="22.20" fill="#c01943"/>
<rect x="2185.88" y="682.20" width="22.21" height="22.20" fill="#c11a44"/>
<rect x="2207.58" y="682.20" width="43.42" height="22.20" fill="#c11b45"/>
<rect x="1730.00" y="703.89" width="22.21" height="22.20" fill="#721b99"/>
<rect x="1751.71" y="703.89" width="22.21" height="22.20" fill="#741e9a"/>
<rect x="1773.42" y="703.89" width="22.21" height="22.20" fill="#79249b"/>
<rect x="1795.12" y="703.89" width="22.21" height="22.20" fill="#7a259b"/>
<rect x="1816.83" y="703.89" width="22.21" height="22.20" fill="#7b259b"/>
<rect x="1838.54" y="703.89" width="22.21" height="22.20" fill="#933e9e"/>
<rect x="1860.25" y="703.89" width="22.21" height="22.20" fill="#bd5e97"/>
<rect x="1881.96" y="703.89" width="22.21" height="22.20" fill="#c74976"/>
<rect x="1903.67" y="703.89" width="22.21" height="22.20" fill="#c53660"/>
<rect x="1925.38" y="703.89" width="22.21" height="22.20" fill="#c2214b"/>
<rect x="1947.08" y="703.89" width="22.21" height="22.20" fill="#c01944"/>
<rect x="1968.79" y="703.89" width="22.21" height="22.20" fill="#bf143f"/>
<rect x="1990.50" y="703.89" width="22.21" height="22.20" fill="#bf113d"/>
<rect x="2012.21" y="703.89" width="22.21" height="22.20" fill="#be0e3a"/>
<rect x="2033.92" y="703.89" width="22.21" height="22.20" fill="#be0b38"/>
<rect x="2055.62" y="703.89" width="43.92" height="22.20" fill="#bd0a37"/>
<rect x="2099.04" y="703.89" width="22.21" height="22.20" fill="#be0c39"/>
<rect x="2120.75" y="703.89" width="22.21" height="22.20" fill="#bf123e"/>
<rect x="2142.46" y="703.89" width="22.21" height="22.20" fill="#c01641"/>
<rect x="2164.17" y="703.89" width="22.21" height="22.20" fill="#c01842"/>
<rect x="2185.88" y="703.89" width="22.21" height="22.20" fill="#c01a44"/>
<rect x="2207.58" y="703.89" width="22.21" height="22.20" fill="#c11b44"/>
<rect x="2229.29" y="703.89" width="21.71" height="22.20" fill="#c11b45"/>
<rect x="1730.00" y="725.59" width="22.21" height="22.20" fill="#711a99"/>
<rect x="1751.71" y="725.59" width="22.21" height="22.20" fill="#731d9a"/>
<rect x="1773.42" y="725.59" width="22.21" height="22.20" fill="#78229b"/>
<rect x="1795.12" y="725.59" width="22.21" height="22.20" fill="#7a249b"/>
<rect x="1816.83" y="725.59" width="22.21" height="22.20" fill="#7c269b"/>
<rect x="1838.54" y="725.59" width="22.21" height="22.20" fill="#9e489e"/>
<rect x="1860.25" y="725.59" width="22.21" height="22.20" fill="#c2588d"/>
<rect x="1881.96" y="725.59" width="22.21" height="22.20" fill="#c63e69"/>
<rect x="1903.67" y="725.59" width="22.21" height="22.20" fill="#c11d47"/>
<rect x="1925.38" y="725.59" width="22.21" height="22.20" fill="#bf143f"/>
<rect x="1947.08" y="725.59" width="22.21" height="22.20" fill="#be0d3a"/>
<rect x="1968.79" y="725.59" width="43.92" height="22.20" fill="#be0b38"/>
<rect x="2012.21" y="725.59" width="22.21" height="22.20" fill="#bd0b38"/>
<rect x="2033.92" y="725.59" width="22.21" height="22.20" fill="#bd0a37"/>
<rect x="2055.62" y="725.59" width="22.21" height="22.20" fill="#bd0937"/>
<rect x="2077.33" y="725.59" width="22.21" height="22.20" fill="#bd0836"/>
<rect x="2099.04" y="725.59" width="22.21" height="22.20" fill="#bd0937"/>
<rect x="2120.75" y="725.59" width="22.21" height="22.20" fill="#be0d3a"/>
<rect x="2142.46" y="725.59" width="22.21" height="22.20" fill="#bf113d"/>
<rect x="2164.17" y="725.59" width="22.21" height="22.20" fill="#c01540"/>
<rect x="2185.88" y="725.59" width="22.21" height="22.20" fill="#c01943"/>
<rect x="2207.58" y="725.59" width="22.21" height="22.20" fill="#c11a44"/>
<rect x="2229.29" y="725.59" width="21.71" height="22.20" fill="#c11b45"/>
<rect x="1730.00" y="747.29" width="22.21" height="22.20" fill="#711a99"/>
<rect x="1751.71" y="747.29" width="22.21" height="22.20" fill="#721b99"/>
<rect x="1773.42" y="747.29" width="22.21" height="22.20" fill="#751f9a"/>
<rect x="1795.12" y="747.29" width="22.21" height="22.20" fill="#79249b"/>
<rect x="1816.83" y="747.29" width="22.21" height="22.20" fill="#812c9c"/>
<rect x="1838.54" y="747.29" width="22.21" height="22.20" fill="#af569b"/>
<rect x="1860.25" y="747.29" width="22.21" height="22.20" fill="#c33e6a"/>
<rect x="1881.96" y="747.29" width="22.21" height="22.20" fill="#c11d48"/>
<rect x="1903.67" y="747.29" width="22.21" height="22.20" fill="#be0e3b"/>
<rect x="1925.38" y="747.29" width="22.21" height="22.20" fill="#bd0937"/>
<rect x="1947.08" y="747.29" width="22.21" height="22.20" fill="#bd0635"/>
<rect x="1968.79" y="747.29" width="22.21" height="22.20" fill="#bd0735"/>
<rect x="1990.50" y="747.29" width="22.21" height="22.20" fill="#bd0a38"/>
<rect x="2012.21" y="747.29" width="43.92" height="22.20" fill="#be0c39"/>
<rect x="2055.62" y="747.29" width="22.21" height="22.20" fill="#bd0a37"/>
<rect x="2077.33" y="747.29" width="22.21" height="22.20" fill="#bd0635"/>
<rect x="2099.04" y="747.29" width="22.21" height="22.20" fill="#bc0534"/>
<rect x="2120.75" y="747.29" width="22.21" height="22.20" fill="#bd0735"/>
<rect x="2142.46" y="747.29" width="22.21" height="22.20" fill="#bd0b38"/>
<rect x="2164.17" y="747.29" width="22.21" height="22.20" fill="#bf123d"/>
<rect x="2185.88" y="747.29" width="22.21" height="22.20" fill="#c01742"/>
<rect x="2207.58" y="747.29" width="22.21" height="22.20" fill="#c01a44"/>
<rect x="2229.29" y="747.29" width="21.71" height="22.20" fill="#c11b44"/>
<rect x="1730.00" y="768.98" width="43.92" height="22.20" fill="#711a99"/>
<rect x="1773.42" y="768.98" width="22.21" height="22.20" fill="#731d9a"/>
<rect x="1795.12" y="768.98" width="22.21" height="22.20" fill="#77219b"/>
<rect x="1816.83" y="768.98" width="22.21" height="22.20" fill="#802b9c"/>
<rect x="1838.54" y="768.98" width="22.21" height="22.20" fill="#b0579a"/>
<rect x="1860.25" y="768.98" width="22.21" height="22.20" fill="#c43b67"/>
<rect x="1881.96" y="768.98" width="22.21" height="22.20" fill="#c01843"/>
<rect x="1903.67" y="768.98" width="22.21" height="22.20" fill="#bd0a37"/>
<rect x="1925.38" y="768.98" width="22.21" height="22.20" fill="#bc0534"/>
<rect x="1947.08" y="768.98" width="22.21" height="22.20" fill="#bd0534"/>
<rect x="1968.79" y="768.98" width="22.21" height="22.20" fill="#bd0836"/>
<rect x="1990.50" y="768.98" width="22.21" height="22.20" fill="#be0c38"/>
<rect x="2012.21" y="768.98" width="22.21" height="22.20" fill="#be0d3a"/>
<rect x="2033.92" y="768.98" width="22.21" height="22.20" fill="#be0c39"/>
<rect x="2055.62" y="768.98" width="22.21" height="22.20" fill="#bd0937"/>
<rect x="2077.33" y="768.98" width="22.21" height="22.20" fill="#bc0534"/>
<rect x="2099.04" y="768.98" width="43.92" height="22.20" fill="#bc0333"/>
<rect x="2142.46" y="768.98" width="22.21" height="22.20" fill="#bd0836"/>
<rect x="2164.17" y="768.98" width="22.21" height="22.20" fill="#bf103c"/>
<rect x="2185.88" y="768.98" width="22.21" height="22.20" fill="#c01641"/>
<rect x="2207.58" y="768.98" width="22.21" height="22.20" fill="#c01944"/>
<rect x="2229.29" y="768.98" width="21.71" height="22.20" fill="#c11b44"/>
<rect x="1730.00" y="790.68" width="65.62" height="22.20" fill="#721b99"/>
<rect x="1795.12" y="790.68" width="22.21" height="22.20" fill="#741d9a"/>
<rect x="1816.83" y="790.68" width="22.21" height="22.20" fill="#7a249b"/>
<rect x="1838.54" y="790.68" width="22.21" height="22.20" fill="#a74f9b"/>
<rect x="1860.25" y="790.68" width="22.21" height="22.20" fill="#c43f6c"/>
<rect x="1881.96" y="790.68" width="22.21" height="22.20" fill="#c01844"/>
<rect x="1903.67" y="790.68" width="22.21" height="22.20" fill="#bd0a37"/>
<rect x="1925.38" y="790.68" width="22.21" height="22.20" fill="#bd0635"/>
<rect x="1947.08" y="790.68" width="22.21" height="22.20" fill="#bd0937"/>
<rect x="1968.79" y="790.68" width="22.21" height="22.20" fill="#be0c38"/>
<rect x="1990.50" y="790.68" width="22.21" height="22.20" fill="#be0d3a"/>
<rect x="2012.21" y="790.68" width="22.21" height="22.20" fill="#be0e3a"/>
<rect x="2033.92" y="790.68" width="22.21" height="22.20" fill="#be0b38"/>
<rect x="2055.62" y="790.68" width="22.21" height="22.20" fill="#bd0735"/>
<rect x="2077.33" y="790.68" width="22.21" height="22.20" fill="#bc0433"/>
<rect x="2099.04" y="790.68" width="22.21" height="22.20" fill="#bc0232"/>
<rect x="2120.75" y="790.68" width="22.21" height="22.20" fill="#bc0333"/>
<rect x="2142.46" y="790.68" width="22.21" height="22.20" fill="#bd0736"/>
<rect x="2164.17" y="790.68" width="22.21" height="22.20" fill="#bf103c"/>
<rect x="2185.88" y="790.68" width="22.21" height="22.20" fill="#c01641"/>
<rect x="2207.58" y="790.68" width="22.21" height="22.20" fill="#c01943"/>
<rect x="2229.29" y="790.68" width="21.71" height="22.20" fill="#c11a44"/>
<rect x="1730.00" y="812.38" width="65.62" height="22.20" fill="#751e9a"/>
<rect x="1795.12" y="812.38" width="22.21" height="22.20" fill="#751f9a"/>
<rect x="1816.83" y="812.38" width="22.21" height="22.20" fill="#7a249b"/>
<rect x="1838.54" y="812.38" width="22.21" height="22.20" fill="#a74f9b"/>
<rect x="1860.25" y="812.38" width="22.21" height="22.20" fill="#c43f6d"/>
<rect x="1881.96" y="812.38" width="22.21" height="22.20" fill="#c11a45"/>
<rect x="1903.67" y="812.38" width="22.21" height="22.20" fill="#be0c39"/>
<rect x="1925.38" y="812.38" width="22.21" height="22.20" fill="#bd0937"/>
<rect x="1947.08" y="812.38" width="22.21" height="22.20" fill="#be0d39"/>
<rect x="1968.79" y="812.38" width="22.21" height="22.20" fill="#be103b"/>
<rect x="1990.50" y="812.38" width="22.21" height="22.20" fill="#bf103c"/>
<rect x="2012.21" y="812.38" width="22.21" height="22.20" fill="#be0f3b"/>
<rect x="2033.92" y="812.38" width="22.21" height="22.20" fill="#be0b38"/>
<rect x="2055.62" y="812.38" width="22.21" height="22.20" fill="#bd0635"/>
<rect x="2077.33" y="812.38" width="43.92" height="22.20" fill="#bc0433"/>
<rect x="2120.75" y="812.38" width="22.21" height="22.20" fill="#bc0434"/>
<rect x="2142.46" y="812.38" width="22.21" height="22.20" fill="#bd0836"/>
<rect x="2164.17" y="812.38" width="22.21" height="22.20" fill="#bf103c"/>
<rect x="2185.88" y="812.38" width="22.21" height="22.20" fill="#c01641"/>
<rect x="2207.58" y="812.38" width="22.21" height="22.20" fill="#c01843"/>
<rect x="2229.29" y="812.38" width="21.71" height="22.20" fill="#c01943"/>
<rect x="1730.00" y="834.07" width="43.92" height="22.20" fill="#7b269c"/>
<rect x="1773.42" y="834.07" width="22.21" height="22.20" fill="#7b259b"/>
<rect x="1795.12" y="834.07" width="22.21" height="22.20" fill="#7b269b"/>
<rect x="1816.83" y="834.07" width="22.21" height="22.20" fill="#802b9c"/>
<rect x="1838.54" y="834.07" width="22.21" height="22.20" fill="#b0579b"/>
<rect x="1860.25" y="834.07" width="22.21" height="22.20" fill="#c4416d"/>
<rect x="1881.96" y="834.07" width="22.21" height="22.20" fill="#c11e48"/>
<rect x="1903.67" y="834.07" width="22.21" height="22.20" fill="#bf133e"/>
<rect x="1925.38" y="834.07" width="22.21" height="22.20" fill="#be103c"/>
<rect x="1947.08" y="834.07" width="22.21" height="22.20" fill="#bf133e"/>
<rect x="1968.79" y="834.07" width="43.92" height="22.20" fill="#c01540"/>
<rect x="2012.21" y="834.07" width="22.21" height="22.20" fill="#bf113d"/>
<rect x="2033.92" y="834.07" width="22.21" height="22.20" fill="#be0b38"/>
<rect x="2055.62" y="834.07" width="22.21" height="22.20" fill="#bd0836"/>
<rect x="2077.33" y="834.07" width="22.21" height="22.20" fill="#bd0735"/>
<rect x="2099.04" y="834.07" width="22.21" height="22.20" fill="#bd0635"/>
<rect x="2120.75" y="834.07" width="22.21" height="22.20" fill="#bd0735"/>
<rect x="2142.46" y="834.07" width="22.21" height="22.20" fill="#bd0a38"/>
<rect x="2164.17" y="834.07" width="22.21" height="22.20" fill="#bf113d"/>
<rect x="2185.88" y="834.07" width="22.21" height="22.20" fill="#c01641"/>
<rect x="2207.58" y="834.07" width="43.42" height="22.20" fill="#c01742"/>
<rect x="1730.00" y="855.77" width="22.21" height="22.20" fill="#822d9d"/>
<rect x="1751.71" y="855.77" width="22.21" height="22.20" fill="#7f2b9c"/>
<rect x="1773.42" y="855.77" width="22.21" height="22.20" fill="#7d289c"/>
<rect x="1795.12" y="855.77" width="22.21" height="22.20" fill="#7e299c"/>
<rect x="1816.83" y="855.77" width="22.21" height="22.20" fill="#85309d"/>
<rect x="1838.54" y="855.77" width="22.21" height="22.20" fill="#b2599b"/>
<rect x="1860.25" y="855.77" width="22.21" height="22.20" fill="#c5426e"/>
<rect x="1881.96" y="855.77" width="22.21" height="22.20" fill="#c2254e"/>
<rect x="1903.67" y="855.77" width="22.21" height="22.20" fill="#c11b45"/>
<rect x="1925.38" y="855.77" width="22.21" height="22.20" fill="#c01943"/>
<rect x="1947.08" y="855.77" width="43.92" height="22.20" fill="#c11b45"/>
<rect x="1990.50" y="855.77" width="22.21" height="22.20" fill="#c01943"/>
<rect x="2012.21" y="855.77" width="22.21" height="22.20" fill="#bf133f"/>
<rect x="2033.92" y="855.77" width="22.21" height="22.20" fill="#be0c39"/>
<rect x="2055.62" y="855.77" width="87.33" height="22.20" fill="#bd0836"/>
<rect x="2142.46" y="855.77" width="22.21" height="22.20" fill="#be0b38"/>
<rect x="2164.17" y="855.77" width="22.21" height="22.20" fill="#bf123d"/>
<rect x="2185.88" y="855.77" width="22.21" height="22.20" fill="#c01540"/>
<rect x="2207.58" y="855.77" width="43.42" height="22.20" fill="#c01641"/>
<rect x="1730.00" y="877.46" width="22.21" height="22.20" fill="#822e9d"/>
<rect x="1751.71" y="877.46" width="22.21" height="22.20" fill="#7d289c"/>
<rect x="1773.42" y="877.46" width="22.21" height="22.20" fill="#78229b"/>
<rect x="1795.12" y="877.46" width="22.21" height="22.20" fill="#79249b"/>
<rect x="1816.83" y="877.46" width="22.21" height="22.20" fill="#852f9c"/>
<rect x="1838.54" y="877.46" width="22.21" height="22.20" fill="#ba5d98"/>
<rect x="1860.25" y="877.46" width="22.21" height="22.20" fill="#c74976"/>
<rect x="1881.96" y="877.46" width="22.21" height="22.20" fill="#c5365f"/>
<rect x="1903.67" y="877.46" width="22.21" height="22.20" fill="#c2254e"/>
<rect x="1925.38" y="877.46" width="22.21" height="22.20" fill="#c2234c"/>
<rect x="1947.08" y="877.46" width="22.21" height="22.20" fill="#c2244c"/>
<rect x="1968.79" y="877.46" width="22.21" height="22.20" fill="#c2234c"/>
<rect x="1990.50" y="877.46" width="22.21" height="22.20" fill="#c11d47"/>
<rect x="2012.21" y="877.46" width="22.21" height="22.20" fill="#c01540"/>
<rect x="2033.92" y="877.46" width="22.21" height="22.20" fill="#be0d3a"/>
<rect x="2055.62" y="877.46" width="22.21" height="22.20" fill="#bd0937"/>
<rect x="2077.33" y="877.46" width="43.92" height="22.20" fill="#bd0836"/>
<rect x="2120.75" y="877.46" width="22.21" height="22.20" fill="#bd0936"/>
<rect x="2142.46" y="877.46" width="22.21" height="22.20" fill="#be0b38"/>
<rect x="2164.17" y="877.46" width="22.21" height="22.20" fill="#bf123d"/>
<rect x="2185.88" y="877.46" width="22.21" height="22.20" fill="#c01540"/>
<rect x="2207.58" y="877.46" width="43.42" height="22.20" fill="#c01641"/>
<rect x="1730.00" y="899.16" width="22.21" height="22.20" fill="#812c9d"/>
<rect x="1751.71" y="899.16" width="22.21" height="22.20" fill="#7a259b"/>
<rect x="1773.42" y="899.16" width="22.21" height="22.20" fill="#741e9a"/>
<rect x="1795.12" y="899.16" width="22.21" height="22.20" fill="#77219a"/>
<rect x="1816.83" y="899.16" width="22.21" height="22.20" fill="#903b9e"/>
<rect x="1838.54" y="899.16" width="22.21" height="22.20" fill="#bc5f99"/>
<rect x="1860.25" y="899.16" width="22.21" height="22.20" fill="#c75483"/>
<rect x="1881.96" y="899.16" width="22.21" height="22.20" fill="#c63e68"/>
<rect x="1903.67" y="899.16" width="65.62" height="22.20" fill="#c63b64"/>
<rect x="1968.79" y="899.16" width="22.21" height="22.20" fill="#c63861"/>
<rect x="1990.50" y="899.16" width="22.21" height="22.20" fill="#c3264f"/>
<rect x="2012.21" y="899.16" width="22.21" height="22.20" fill="#c11c46"/>
<rect x="2033.92" y="899.16" width="22.21" height="22.20" fill="#bf133e"/>
<rect x="2055.62" y="899.16" width="22.21" height="22.20" fill="#be0e3a"/>
<rect x="2077.33" y="899.16" width="22.21" height="22.20" fill="#be0b38"/>
<rect x="2099.04" y="899.16" width="43.92" height="22.20" fill="#bd0a37"/>
<rect x="2142.46" y="899.16" width="22.21" height="22.20" fill="#be0c39"/>
<rect x="2164.17" y="899.16" width="22.21" height="22.20" fill="#bf113c"/>
<rect x="2185.88" y="899.16" width="22.21" height="22.20" fill="#bf133f"/>
<rect x="2207.58" y="899.16" width="43.42" height="22.20" fill="#bf143f"/>
<rect x="1730.00" y="920.86" width="22.21" height="22.20" fill="#7e299c"/>
<rect x="1751.71" y="920.86" width="22.21" height="22.20" fill="#7a249b"/>
<rect x="1773.42" y="920.86" width="22.21" height="22.20" fill="#761f9a"/>
<rect x="1795.12" y="920.86" width="22.21" height="22.20" fill="#7b259b"/>
<rect x="1816.83" y="920.86" width="22.21" height="22.20" fill="#9c489f"/>
<rect x="1838.54" y="920.86" width="22.21" height="22.20" fill="#bd6199"/>
<rect x="1860.25" y="920.86" width="22.21" height="22.20" fill="#c75786"/>
<rect x="1881.96" y="920.86" width="22.21" height="22.20" fill="#c8507e"/>
<rect x="1903.67" y="920.86" width="22.21" height="22.20" fill="#c7507f"/>
<rect x="1925.38" y="920.86" width="22.21" height="22.20" fill="#c6507f"/>
<rect x="1947.08" y="920.86" width="22.21" height="22.20" fill="#c6507e"/>
<rect x="1968.79" y="920.86" width="22.21" height="22.20" fill="#c74875"/>
<rect x="1990.50" y="920.86" width="22.21" height="22.20" fill="#c63c66"/>
<rect x="2012.21" y="920.86" width="22.21" height="22.20" fill="#c5345e"/>
<rect x="2033.92" y="920.86" width="22.21" height="22.20" fill="#c11f48"/>
<rect x="2055.62" y="920.86" width="22.21" height="22.20" fill="#c01742"/>
<rect x="2077.33" y="920.86" width="22.21" height="22.20" fill="#bf113d"/>
<rect x="2099.04" y="920.86" width="22.21" height="22.20" fill="#be0e3a"/>
<rect x="2120.75" y="920.86" width="22.21" height="22.20" fill="#be0d39"/>
<rect x="2142.46" y="920.86" width="22.21" height="22.20" fill="#be0d3a"/>
<rect x="2164.17" y="920.86" width="22.21" height="22.20" fill="#be0f3b"/>
<rect x="2185.88" y="920.86" width="65.12" height="22.20" fill="#bf103c"/>
<rect x="1730.00" y="942.55" width="22.21" height="22.20" fill="#7d289c"/>
<rect x="1751.71" y="942.55" width="22.21" height="22.20" fill="#7b259b"/>
<rect x="1773.42" y="942.55" width="22.21" height="22.20" fill="#79239b"/>
<rect x="1795.12" y="942.55" width="22.21" height="22.20" fill="#802b9c"/>
<rect x="1816.83" y="942.55" width="22.21" height="22.20" fill="#a450a0"/>
<rect x="1838.54" y="942.55" width="22.21" height="22.20" fill="#bc619a"/>
<rect x="1860.25" y="942.55" width="22.21" height="22.20" fill="#c65889"/>
<rect x="1881.96" y="942.55" width="22.21" height="22.20" fill="#c65888"/>
<rect x="1903.67" y="942.55" width="22.21" height="22.20" fill="#be6098"/>
<rect x="1925.38" y="942.55" width="22.21" height="22.20" fill="#b45d9d"/>
<rect x="1947.08" y="942.55" width="22.21" height="22.20" fill="#b45c9c"/>
<rect x="1968.79" y="942.55" width="22.21" height="22.20" fill="#bd5e97"/>
<rect x="1990.50" y="942.55" width="22.21" height="22.20" fill="#c55485"/>
<rect x="2012.21" y="942.55" width="22.21" height="22.20" fill="#c64875"/>
<rect x="2033.92" y="942.55" width="22.21" height="22.20" fill="#c53660"/>
<rect x="2055.62" y="942.55" width="22.21" height="22.20" fill="#c2214b"/>
<rect x="2077.33" y="942.55" width="22.21" height="22.20" fill="#c01943"/>
<rect x="2099.04" y="942.55" width="22.21" height="22.20" fill="#bf133e"/>
<rect x="2120.75" y="942.55" width="22.21" height="22.20" fill="#be0f3b"/>
<rect x="2142.46" y="942.55" width="108.54" height="22.20" fill="#be0e3a"/>
<rect x="1730.00" y="964.25" width="22.21" height="22.20" fill="#7d289c"/>
<rect x="1751.71" y="964.25" width="22.21" height="22.20" fill="#7c269c"/>
<rect x="1773.42" y="964.25" width="22.21" height="22.20" fill="#7b269c"/>
<rect x="1795.12" y="964.25" width="22.21" height="22.20" fill="#812c9c"/>
<rect x="1816.83" y="964.25" width="22.21" height="22.20" fill="#9b47a0"/>
<rect x="1838.54" y="964.25" width="22.21" height="22.20" fill="#a955a0"/>
<rect x="1860.25" y="964.25" width="43.92" height="22.20" fill="#bc609a"/>
<rect x="1903.67" y="964.25" width="22.21" height="22.20" fill="#a854a0"/>
<rect x="1925.38" y="964.25" width="22.21" height="22.20" fill="#9c48a0"/>
<rect x="1947.08" y="964.25" width="22.21" height="22.20" fill="#923d9f"/>
<rect x="1968.79" y="964.25" width="22.21" height="22.20" fill="#9d489f"/>
<rect x="1990.50" y="964.25" width="22.21" height="22.20" fill="#a8529e"/>
<rect x="2012.21" y="964.25" width="22.21" height="22.20" fill="#bc5d96"/>
<rect x="2033.92" y="964.25" width="22.21" height="22.20" fill="#c64976"/>
<rect x="2055.62" y="964.25" width="22.21" height="22.20" fill="#c53660"/>
<rect x="2077.33" y="964.25" width="22.21" height="22.20" fill="#c2224b"/>
<rect x="2099.04" y="964.25" width="22.21" height="22.20" fill="#c01a44"/>
<rect x="2120.75" y="964.25" width="22.21" height="22.20" fill="#bf133f"/>
<rect x="2142.46" y="964.25" width="22.21" height="22.20" fill="#be103b"/>
<rect x="2164.17" y="964.25" width="86.83" height="22.20" fill="#be0e3a"/>
<rect x="1730.00" y="985.95" width="22.21" height="22.20" fill="#7d289c"/>
<rect x="1751.71" y="985.95" width="22.21" height="22.20" fill="#7d279c"/>
<rect x="1773.42" y="985.95" width="22.21" height="22.20" fill="#7c279c"/>
<rect x="1795.12" y="985.95" width="22.21" height="22.20" fill="#7f2b9c"/>
<rect x="1816.83" y="985.95" width="22.21" height="22.20" fill="#8e3a9f"/>
<rect x="1838.54" y="985.95" width="22.21" height="22.20" fill="#9b47a0"/>
<rect x="1860.25" y="985.95" width="22.21" height="22.20" fill="#9e4aa0"/>
<rect x="1881.96" y="985.95" width="22.21" height="22.20" fill="#9d49a0"/>
<rect x="1903.67" y="985.95" width="22.21" height="22.20" fill="#8f3b9f"/>
<rect x="1925.38" y="985.95" width="22.21" height="22.20" fill="#802b9c"/>
<rect x="1947.08" y="985.95" width="22.21" height="22.20" fill="#7c269c"/>
<rect x="1968.79" y="985.95" width="22.21" height="22.20" fill="#7d279c"/>
<rect x="1990.50" y="985.95" width="22.21" height="22.20" fill="#822d9c"/>
<rect x="2012.21" y="985.95" width="22.21" height="22.20" fill="#9e489e"/>
<rect x="2033.92" y="985.95" width="22.21" height="22.20" fill="#bc5d96"/>
<rect x="2055.62" y="985.95" width="22.21" height="22.20" fill="#c64976"/>
<rect x="2077.33" y="985.95" width="22.21" height="22.20" fill="#c53660"/>
<rect x="2099.04" y="985.95" width="22.21" height="22.20" fill="#c2224b"/>
<rect x="2120.75" y="985.95" width="22.21" height="22.20" fill="#c01a44"/>
<rect x="2142.46" y="985.95" width="22.21" height="22.20" fill="#bf133f"/>
<rect x="2164.17" y="985.95" width="22.21" height="22.20" fill="#be103b"/>
<rect x="2185.88" y="985.95" width="65.12" height="22.20" fill="#be0e3a"/>
<rect x="1730.00" y="1007.64" width="65.62" height="22.20" fill="#7d289c"/>
<rect x="1795.12" y="1007.64" width="22.21" height="22.20" fill="#7e299c"/>
<rect x="1816.83" y="1007.64" width="22.21" height="22.20" fill="#812d9d"/>
<rect x="1838.54" y="1007.64" width="22.21" height="22.20" fill="#842f9d"/>
<rect x="1860.25" y="1007.64" width="22.21" height="22.20" fill="#8d399f"/>
<rect x="1881.96" y="1007.64" width="22.21" height="22.20" fill="#8c389f"/>
<rect x="1903.67" y="1007.64" width="22.21" height="22.20" fill="#7f2a9c"/>
<rect x="1925.38" y="1007.64" width="22.21" height="22.20" fill="#7a249b"/>
<rect x="1947.08" y="1007.64" width="43.92" height="22.20" fill="#77219b"/>
<rect x="1990.50" y="1007.64" width="22.21" height="22.20" fill="#7a249b"/>
<rect x="2012.21" y="1007.64" width="22.21" height="22.20" fill="#832e9c"/>
<rect x="2033.92" y="1007.64" width="22.21" height="22.20" fill="#a7519e"/>
<rect x="2055.62" y="1007.64" width="22.21" height="22.20" fill="#c35a8f"/>
<rect x="2077.33" y="1007.64" width="22.21" height="22.20" fill="#c74773"/>
<rect x="2099.04" y="1007.64" width="22.21" height="22.20" fill="#c5355e"/>
<rect x="2120.75" y="1007.64" width="22.21" height="22.20" fill="#c2224b"/>
<rect x="2142.46" y="1007.64" width="22.21" height="22.20" fill="#c01a44"/>
<rect x="2164.17" y="1007.64" width="22.21" height="22.20" fill="#bf133e"/>
<rect x="2185.88" y="1007.64" width="22.21" height="22.20" fill="#bf103c"/>
<rect x="2207.58" y="1007.64" width="22.21" height="22.20" fill="#be103c"/>
<rect x="2229.29" y="1007.64" width="21.71" height="22.20" fill="#bf103c"/>
<rect x="1730.00" y="1029.34" width="43.92" height="22.20" fill="#7d289c"/>
<rect x="1773.42" y="1029.34" width="130.75" height="22.20" fill="#7c279c"/>
<rect x="1903.67" y="1029.34" width="22.21" height="22.20" fill="#7a259b"/>
<rect x="1925.38" y="1029.34" width="22.21" height="22.20" fill="#78229b"/>
<rect x="1947.08" y="1029.34" width="22.21" height="22.20" fill="#76209a"/>
<rect x="1968.79" y="1029.34" width="22.21" height="22.20" fill="#77209a"/>
<rect x="1990.50" y="1029.34" width="22.21" height="22.20" fill="#78229b"/>
<rect x="2012.21" y="1029.34" width="22.21" height="22.20" fill="#7d289c"/>
<rect x="2033.92" y="1029.34" width="22.21" height="22.20" fill="#913c9e"/>
<rect x="2055.62" y="1029.34" width="22.21" height="22.20" fill="#bb5d98"/>
<rect x="2077.33" y="1029.34" width="22.21" height="22.20" fill="#c74a77"/>
<rect x="2099.04" y="1029.34" width="22.21" height="22.20" fill="#c63a64"/>
<rect x="2120.75" y="1029.34" width="22.21" height="22.20" fill="#c32951"/>
<rect x="2142.46" y="1029.34" width="22.21" height="22.20" fill="#c12049"/>
<rect x="2164.17" y="1029.34" width="22.21" height="22.20" fill="#c01741"/>
<rect x="2185.88" y="1029.34" width="43.92" height="22.20" fill="#bf123e"/>
<rect x="2229.29" y="1029.34" width="21.71" height="22.20" fill="#bf133f"/>
<rect x="1730.00" y="1051.04" width="43.92" height="22.20" fill="#7d289c"/>
<rect x="1773.42" y="1051.04" width="22.21" height="22.20" fill="#7b269c"/>
<rect x="1795.12" y="1051.04" width="22.21" height="22.20" fill="#7a249b"/>
<rect x="1816.83" y="1051.04" width="22.21" height="22.20" fill="#78229b"/>
<rect x="1838.54" y="1051.04" width="22.21" height="22.20" fill="#77219b"/>
<rect x="1860.25" y="1051.04" width="22.21" height="22.20" fill="#77219a"/>
<rect x="1881.96" y="1051.04" width="22.21" height="22.20" fill="#77219b"/>
<rect x="1903.67" y="1051.04" width="22.21" height="22.20" fill="#77229b"/>
<rect x="1925.38" y="1051.04" width="43.92" height="22.20" fill="#78229b"/>
<rect x="1968.79" y="1051.04" width="22.21" height="22.20" fill="#78239b"/>
<rect x="1990.50" y="1051.04" width="22.21" height="22.20" fill="#79239b"/>
<rect x="2012.21" y="1051.04" width="22.21" height="22.20" fill="#7a249b"/>
<rect x="2033.92" y="1051.04" width="22.21" height="22.20" fill="#7f2a9c"/>
<rect x="2055.62" y="1051.04" width="22.21" height="22.20" fill="#a8529d"/>
<rect x="2077.33" y="1051.04" width="22.21" height="22.20" fill="#c55383"/>
<rect x="2099.04" y="1051.04" width="22.21" height="22.20" fill="#c63c65"/>
<rect x="2120.75" y="1051.04" width="22.21" height="22.20" fill="#c42b54"/>
<rect x="2142.46" y="1051.04" width="22.21" height="22.20" fill="#c2214a"/>
<rect x="2164.17" y="1051.04" width="22.21" height="22.20" fill="#c01641"/>
<rect x="2185.88" y="1051.04" width="22.21" height="22.20" fill="#bf113d"/>
<rect x="2207.58" y="1051.04" width="22.21" height="22.20" fill="#bf123e"/>
<rect x="2229.29" y="1051.04" width="21.71" height="22.20" fill="#c01540"/>
<rect x="1730.00" y="1072.73" width="22.21" height="22.20" fill="#7f2a9c"/>
<rect x="1751.71" y="1072.73" width="22.21" height="22.20" fill="#7e299c"/>
<rect x="1773.42" y="1072.73" width="22.21" height="22.20" fill="#7d289c"/>
<rect x="1795.12" y="1072.73" width="22.21" height="22.20" fill="#7a259b"/>
<rect x="1816.83" y="1072.73" width="22.21" height="22.20" fill="#77219a"/>
<rect x="1838.54" y="1072.73" width="43.92" height="22.20" fill="#751f9a"/>
<rect x="1881.96" y="1072.73" width="22.21" height="22.20" fill="#761f9a"/>
<rect x="1903.67" y="1072.73" width="22.21" height="22.20" fill="#77219b"/>
<rect x="1925.38" y="1072.73" width="22.21" height="22.20" fill="#79249b"/>
<rect x="1947.08" y="1072.73" width="43.92" height="22.20" fill="#7a259b"/>
<rect x="1990.50" y="1072.73" width="22.21" height="22.20" fill="#7a249b"/>
<rect x="2012.21" y="1072.73" width="22.21" height="22.20" fill="#78229b"/>
<rect x="2033.92" y="1072.73" width="22.21" height="22.20" fill="#7b259b"/>
<rect x="2055.62" y="1072.73" width="22.21" height="22.20" fill="#a6509e"/>
<rect x="2077.33" y="1072.73" width="22.21" height="22.20" fill="#c55384"/>
<rect x="2099.04" y="1072.73" width="22.21" height="22.20" fill="#c63c66"/>
<rect x="2120.75" y="1072.73" width="22.21" height="22.20" fill="#c42b54"/>
<rect x="2142.46" y="1072.73" width="22.21" height="22.20" fill="#c2214a"/>
<rect x="2164.17" y="1072.73" width="22.21" height="22.20" fill="#c01641"/>
<rect x="2185.88" y="1072.73" width="22.21" height="22.20" fill="#bf133e"/>
<rect x="2207.58" y="1072.73" width="22.21" height="22.20" fill="#c01641"/>
<rect x="2229.29" y="1072.73" width="21.71" height="22.20" fill="#c11a44"/>
<rect x="1730.00" y="1094.43" width="43.92" height="22.20" fill="#832e9d"/>
<rect x="1773.42" y="1094.43" width="22.21" height="22.20" fill="#812d9d"/>
<rect x="1795.12" y="1094.43" width="22.21" height="22.20" fill="#7e289c"/>
<rect x="1816.83" y="1094.43" width="22.21" height="22.20" fill="#78229b"/>
<rect x="1838.54" y="1094.43" width="43.92" height="22.20" fill="#751f9a"/>
<rect x="1881.96" y="1094.43" width="22.21" height="22.20" fill="#76209a"/>
<rect x="1903.67" y="1094.43" width="22.21" height="22.20" fill="#79249b"/>
<rect x="1925.38" y="1094.43" width="22.21" height="22.20" fill="#7b269c"/>
<rect x="1947.08" y="1094.43" width="43.92" height="22.20" fill="#7c279c"/>
<rect x="1990.50" y="1094.43" width="22.21" height="22.20" fill="#7b269c"/>
<rect x="2012.21" y="1094.43" width="22.21" height="22.20" fill="#79249b"/>
<rect x="2033.92" y="1094.43" width="22.21" height="22.20" fill="#7b269b"/>
<rect x="2055.62" y="1094.43" width="22.21" height="22.20" fill="#a7519e"/>
<rect x="2077.33" y="1094.43" width="22.21" height="22.20" fill="#c55384"/>
<rect x="2099.04" y="1094.43" width="22.21" height="22.20" fill="#c63c65"/>
<rect x="2120.75" y="1094.43" width="22.21" height="22.20" fill="#c42b54"/>
<rect x="2142.46" y="1094.43" width="22.21" height="22.20" fill="#c2214a"/>
<rect x="2164.17" y="1094.43" width="22.21" height="22.20" fill="#c01742"/>
<rect x="2185.88" y="1094.43" width="22.21" height="22.20" fill="#c01842"/>
<rect x="2207.58" y="1094.43" width="22.21" height="22.20" fill="#c22049"/>
<rect x="2229.29" y="1094.43" width="21.71" height="22.20" fill="#c3264e"/>
<rect x="1730.00" y="1116.12" width="43.92" height="22.20" fill="#85319d"/>
<rect x="1773.42" y="1116.12" width="22.21" height="22.20" fill="#84309d"/>
<rect x="1795.12" y="1116.12" width="22.21" height="22.20" fill="#802b9c"/>
<rect x="1816.83" y="1116.12" width="22.21" height="22.20" fill="#79239b"/>
<rect x="1838.54" y="1116.12" width="43.92" height="22.20" fill="#751f9a"/>
<rect x="1881.96" y="1116.12" width="22.21" height="22.20" fill="#77219a"/>
<rect x="1903.67" y="1116.12" width="22.21" height="22.20" fill="#7a259b"/>
<rect x="1925.38" y="1116.12" width="22.21" height="22.20" fill="#7c279c"/>
<rect x="1947.08" y="1116.12" width="43.92" height="22.20" fill="#7d289c"/>
<rect x="1990.50" y="1116.12" width="22.21" height="22.20" fill="#7e2a9c"/>
<rect x="2012.21" y="1116.12" width="22.21" height="22.20" fill="#812c9c"/>
<rect x="2033.92" y="1116.12" width="22.21" height="22.20" fill="#903a9d"/>
<rect x="2055.62" y="1116.12" width="22.21" height="22.20" fill="#b3599a"/>
<rect x="2077.33" y="1116.12" width="22.21" height="22.20" fill="#c65281"/>
<rect x="2099.04" y="1116.12" width="22.21" height="22.20" fill="#c63a64"/>
<rect x="2120.75" y="1116.12" width="22.21" height="22.20" fill="#c32952"/>
<rect x="2142.46" y="1116.12" width="22.21" height="22.20" fill="#c12048"/>
<rect x="2164.17" y="1116.12" width="22.21" height="22.20" fill="#c01742"/>
<rect x="2185.88" y="1116.12" width="22.21" height="22.20" fill="#c11b45"/>
<rect x="2207.58" y="1116.12" width="22.21" height="22.20" fill="#c3274f"/>
<rect x="2229.29" y="1116.12" width="21.71" height="22.20" fill="#c42f57"/>
<rect x="1730.00" y="1137.82" width="43.92" height="22.20" fill="#85319d"/>
<rect x="1773.42" y="1137.82" width="22.21" height="22.20" fill="#85309d"/>
<rect x="1795.12" y="1137.82" width="22.21" height="22.20" fill="#812c9d"/>
<rect x="1816.83" y="1137.82" width="22.21" height="22.20" fill="#7a249b"/>
<rect x="1838.54" y="1137.82" width="43.92" height="22.20" fill="#76209a"/>
<rect x="1881.96" y="1137.82" width="22.21" height="22.20" fill="#78229b"/>
<rect x="1903.67" y="1137.82" width="22.21" height="22.20" fill="#7a259b"/>
<rect x="1925.38" y="1137.82" width="43.92" height="22.20" fill="#7c279c"/>
<rect x="1968.79" y="1137.82" width="22.21" height="22.20" fill="#7e299c"/>
<rect x="1990.50" y="1137.82" width="22.21" height="22.20" fill="#832e9d"/>
<rect x="2012.21" y="1137.82" width="22.21" height="22.20" fill="#9c479e"/>
<rect x="2033.92" y="1137.82" width="22.21" height="22.20" fill="#be5892"/>
<rect x="2055.62" y="1137.82" width="22.21" height="22.20" fill="#c54a78"/>
<rect x="2077.33" y="1137.82" width="22.21" height="22.20" fill="#c53a64"/>
<rect x="2099.04" y="1137.82" width="22.21" height="22.20" fill="#c42e56"/>
<rect x="2120.75" y="1137.82" width="22.21" height="22.20" fill="#c3264e"/>
<rect x="2142.46" y="1137.82" width="22.21" height="22.20" fill="#c11d46"/>
<rect x="2164.17" y="1137.82" width="22.21" height="22.20" fill="#c01641"/>
<rect x="2185.88" y="1137.82" width="22.21" height="22.20" fill="#c11b45"/>
<rect x="2207.58" y="1137.82" width="22.21" height="22.20" fill="#c32951"/>
<rect x="2229.29" y="1137.82" width="21.71" height="22.20" fill="#c5325b"/>
<rect x="1730.00" y="1159.52" width="43.92" height="22.20" fill="#85319d"/>
<rect x="1773.42" y="1159.52" width="22.21" height="22.20" fill="#85309d"/>
<rect x="1795.12" y="1159.52" width="22.21" height="22.20" fill="#812d9d"/>
<rect x="1816.83" y="1159.52" width="22.21" height="22.20" fill="#7b269c"/>
<rect x="1838.54" y="1159.52" width="22.21" height="22.20" fill="#79239b"/>
<rect x="1860.25" y="1159.52" width="22.21" height="22.20" fill="#78229b"/>
<rect x="1881.96" y="1159.52" width="22.21" height="22.20" fill="#79239b"/>
<rect x="1903.67" y="1159.52" width="22.21" height="22.20" fill="#7a249b"/>
<rect x="1925.38" y="1159.52" width="22.21" height="22.20" fill="#7a259b"/>
<rect x="1947.08" y="1159.52" width="22.21" height="22.20" fill="#7b269c"/>
<rect x="1968.79" y="1159.52" width="22.21" height="22.20" fill="#7e299c"/>
<rect x="1990.50" y="1159.52" width="22.21" height="22.20" fill="#8b379e"/>
<rect x="2012.21" y="1159.52" width="22.21" height="22.20" fill="#a7519e"/>
<rect x="2033.92" y="1159.52" width="22.21" height="22.20" fill="#c55587"/>
<rect x="2055.62" y="1159.52" width="22.21" height="22.20" fill="#c84874"/>
<rect x="2077.33" y="1159.52" width="22.21" height="22.20" fill="#c63861"/>
<rect x="2099.04" y="1159.52" width="22.21" height="22.20" fill="#c42c54"/>
<rect x="2120.75" y="1159.52" width="22.21" height="22.20" fill="#c2254d"/>
<rect x="2142.46" y="1159.52" width="22.21" height="22.20" fill="#c11b45"/>
<rect x="2164.17" y="1159.52" width="22.21" height="22.20" fill="#c01641"/>
<rect x="2185.88" y="1159.52" width="22.21" height="22.20" fill="#c11b45"/>
<rect x="2207.58" y="1159.52" width="22.21" height="22.20" fill="#c53660"/>
<rect x="2229.29" y="1159.52" width="21.71" height="22.20" fill="#c63a63"/>
<rect x="1730.00" y="1181.21" width="43.92" height="22.20" fill="#85309d"/>
<rect x="1773.42" y="1181.21" width="22.21" height="22.20" fill="#84309d"/>
<rect x="1795.12" y="1181.21" width="22.21" height="22.20" fill="#812d9d"/>
<rect x="1816.83" y="1181.21" width="22.21" height="22.20" fill="#7c279c"/>
<rect x="1838.54" y="1181.21" width="22.21" height="22.20" fill="#7a249b"/>
<rect x="1860.25" y="1181.21" width="65.62" height="22.20" fill="#79249b"/>
<rect x="1925.38" y="1181.21" width="22.21" height="22.20" fill="#7a249b"/>
<rect x="1947.08" y="1181.21" width="22.21" height="22.20" fill="#7a259b"/>
<rect x="1968.79" y="1181.21" width="22.21" height="22.20" fill="#7d289c"/>
<rect x="1990.50" y="1181.21" width="22.21" height="22.20" fill="#8c389e"/>
<rect x="2012.21" y="1181.21" width="22.21" height="22.20" fill="#a8529e"/>
<rect x="2033.92" y="1181.21" width="22.21" height="22.20" fill="#c55587"/>
<rect x="2055.62" y="1181.21" width="22.21" height="22.20" fill="#c84874"/>
<rect x="2077.33" y="1181.21" width="22.21" height="22.20" fill="#c63861"/>
<rect x="2099.04" y="1181.21" width="22.21" height="22.20" fill="#c42c54"/>
<rect x="2120.75" y="1181.21" width="22.21" height="22.20" fill="#c2244d"/>
<rect x="2142.46" y="1181.21" width="22.21" height="22.20" fill="#c11b45"/>
<rect x="2164.17" y="1181.21" width="22.21" height="22.20" fill="#c01641"/>
<rect x="2185.88" y="1181.21" width="22.21" height="22.20" fill="#c11c46"/>
<rect x="2207.58" y="1181.21" width="22.21" height="22.20" fill="#c5365f"/>
<rect x="2229.29" y="1181.21" width="21.71" height="22.20" fill="#c63962"/>
<rect x="1730.00" y="1202.91" width="22.21" height="22.20" fill="#802b9d"/>
<rect x="1751.71" y="1202.91" width="43.92" height="22.20" fill="#812c9d"/>
<rect x="1795.12" y="1202.91" width="22.21" height="22.20" fill="#7f2a9c"/>
<rect x="1816.83" y="1202.91" width="22.21" height="22.20" fill="#7b269c"/>
<rect x="1838.54" y="1202.91" width="22.21" height="22.20" fill="#7a249b"/>
<rect x="1860.25" y="1202.91" width="65.62" height="22.20" fill="#79249b"/>
<rect x="1925.38" y="1202.91" width="22.21" height="22.20" fill="#7a249b"/>
<rect x="1947.08" y="1202.91" width="22.21" height="22.20" fill="#7a259b"/>
<rect x="1968.79" y="1202.91" width="22.21" height="22.20" fill="#7c279c"/>
<rect x="1990.50" y="1202.91" width="22.21" height="22.20" fill="#8b369e"/>
<rect x="2012.21" y="1202.91" width="22.21" height="22.20" fill="#a6519f"/>
<rect x="2033.92" y="1202.91" width="22.21" height="22.20" fill="#c25b91"/>
<rect x="2055.62" y="1202.91" width="22.21" height="22.20" fill="#c74a76"/>
<rect x="2077.33" y="1202.91" width="22.21" height="22.20" fill="#c63962"/>
<rect x="2099.04" y="1202.91" width="22.21" height="22.20" fill="#c42d55"/>
<rect x="2120.75" y="1202.91" width="22.21" height="22.20" fill="#c2254d"/>
<rect x="2142.46" y="1202.91" width="22.21" height="22.20" fill="#c11c46"/>
<rect x="2164.17" y="1202.91" width="22.21" height="22.20" fill="#c01943"/>
<rect x="2185.88" y="1202.91" width="22.21" height="22.20" fill="#c11d46"/>
<rect x="2207.58" y="1202.91" width="22.21" height="22.20" fill="#c3254e"/>
<rect x="2229.29" y="1202.91" width="21.71" height="22.20" fill="#c32a52"/>
<rect x="1730.00" y="1224.61" width="22.21" height="22.20" fill="#79239b"/>
<rect x="1751.71" y="1224.61" width="22.21" height="22.20" fill="#7a249b"/>
<rect x="1773.42" y="1224.61" width="22.21" height="22.20" fill="#7b269b"/>
<rect x="1795.12" y="1224.61" width="22.21" height="22.20" fill="#7b269c"/>
<rect x="1816.83" y="1224.61" width="22.21" height="22.20" fill="#7a259b"/>
<rect x="1838.54" y="1224.61" width="22.21" height="22.20" fill="#7a249b"/>
<rect x="1860.25" y="1224.61" width="87.33" height="22.20" fill="#79249b"/>
<rect x="1947.08" y="1224.61" width="22.21" height="22.20" fill="#7a249b"/>
<rect x="1968.79" y="1224.61" width="22.21" height="22.20" fill="#7a259b"/>
<rect x="1990.50" y="1224.61" width="22.21" height="22.20" fill="#7e289c"/>
<rect x="2012.21" y="1224.61" width="22.21" height="22.20" fill="#913c9f"/>
<rect x="2033.92" y="1224.61" width="22.21" height="22.20" fill="#b35b9d"/>
<rect x="2055.62" y="1224.61" width="22.21" height="22.20" fill="#c65585"/>
<rect x="2077.33" y="1224.61" width="22.21" height="22.20" fill="#c84672"/>
<rect x="2099.04" y="1224.61" width="22.21" height="22.20" fill="#c5365f"/>
<rect x="2120.75" y="1224.61" width="22.21" height="22.20" fill="#c3264f"/>
<rect x="2142.46" y="1224.61" width="22.21" height="22.20" fill="#c11e47"/>
<rect x="2164.17" y="1224.61" width="22.21" height="22.20" fill="#c11b45"/>
<rect x="2185.88" y="1224.61" width="22.21" height="22.20" fill="#c11d46"/>
<rect x="2207.58" y="1224.61" width="22.21" height="22.20" fill="#c2214a"/>
<rect x="2229.29" y="1224.61" width="21.71" height="22.20" fill="#c2244c"/>
<rect x="1730.00" y="1246.30" width="22.21" height="21.70" fill="#751f9a"/>
<rect x="1751.71" y="1246.30" width="22.21" height="21.70" fill="#76209a"/>
<rect x="1773.42" y="1246.30" width="22.21" height="21.70" fill="#79239b"/>
<rect x="1795.12" y="1246.30" width="43.92" height="21.70" fill="#7a249b"/>
<rect x="1838.54" y="1246.30" width="130.75" height="21.70" fill="#79249b"/>
<rect x="1968.79" y="1246.30" width="22.21" height="21.70" fill="#7a249b"/>
<rect x="1990.50" y="1246.30" width="22.21" height="21.70" fill="#7c279c"/>
<rect x="2012.21" y="1246.30" width="22.21" height="21.70" fill="#84309d"/>
<rect x="2033.92" y="1246.30" width="22.21" height="21.70" fill="#a8539f"/>
<rect x="2055.62" y="1246.30" width="22.21" height="21.70" fill="#c45c90"/>
<rect x="2077.33" y="1246.30" width="22.21" height="21.70" fill="#c84875"/>
<rect x="2099.04" y="1246.30" width="22.21" height="21.70" fill="#c53760"/>
<rect x="2120.75" y="1246.30" width="22.21" height="21.70" fill="#c3274f"/>
<rect x="2142.46" y="1246.30" width="22.21" height="21.70" fill="#c11f48"/>
<rect x="2164.17" y="1246.30" width="22.21" height="21.70" fill="#c11c45"/>
<rect x="2185.88" y="1246.30" width="22.21" height="21.70" fill="#c11d46"/>
<rect x="2207.58" y="1246.30" width="22.21" height="21.70" fill="#c12049"/>
<rect x="2229.29" y="1246.30" width="21.71" height="21.70" fill="#c2224a"/>
</g>
<g shape-rendering="geometricPrecision">
<g fill="#0a0a14"><circle cx="295.3" cy="64.3" r="1.4"/><circle cx="300.2" cy="86.4" r="1.4"/><circle cx="308.5" cy="99.4" r="1.4"/><circle cx="312.4" cy="107.5" r="1.4"/><circle cx="322.4" cy="129.4" r="1.4"/><circle cx="330.4" cy="142.4" r="1.4"/><circle cx="334.5" cy="151.3" r="1.4"/><circle cx="344.3" cy="172.3" r="1.4"/><circle cx="351.3" cy="190.1" r="1.4"/><circle cx="353.4" cy="194.5" r="1.4"/><circle cx="357.6" cy="216.2" r="1.4"/><circle cx="359.3" cy="237.2" r="1.4"/><circle cx="356.5" cy="259.3" r="1.4"/><circle cx="351.3" cy="278.2" r="1.4"/><circle cx="350.4" cy="281.2" r="1.4"/><circle cx="345.4" cy="303.4" r="1.4"/><circle cx="340.4" cy="324.4" r="1.4"/><circle cx="340.4" cy="346.3" r="1.4"/><circle cx="345.4" cy="368.0" r="1.4"/><circle cx="350.4" cy="389.3" r="1.4"/><circle cx="351.5" cy="397.3" r="1.4"/><circle cx="354.3" cy="411.2" r="1.4"/><circle cx="357.6" cy="433.3" r="1.4"/><circle cx="361.5" cy="454.2" r="1.4"/><circle cx="366.5" cy="476.1" r="1.4"/><circle cx="373.4" cy="494.1" r="1.4"/><circle cx="375.4" cy="498.2" r="1.4"/><circle cx="373.4" cy="512.1" r="1.4"/><circle cx="372.3" cy="519.3" r="1.4"/><circle cx="359.3" cy="541.0" r="1.4"/><circle cx="351.5" cy="562.6" r="1.4"/><circle cx="340.4" cy="585.0" r="1.4"/><circle cx="330.4" cy="594.1" r="1.4"/><circle cx="316.5" cy="605.8" r="1.4"/><circle cx="308.5" cy="611.0" r="1.4"/><circle cx="286.4" cy="624.3" r="1.4"/><circle cx="281.4" cy="628.2" r="1.4"/><circle cx="265.5" cy="646.0" r="1.4"/><circle cx="260.3" cy="650.3" r="1.4"/><circle cx="243.2" cy="659.8" r="1.4"/><circle cx="221.4" cy="665.1" r="1.4"/><circle cx="201.7" cy="670.3" r="1.4"/><circle cx="199.5" cy="671.3" r="1.4"/><circle cx="178.5" cy="689.8" r="1.4"/><circle cx="175.4" cy="693.0" r="1.4"/><circle cx="162.4" cy="715.0" r="1.4"/><circle cx="156.5" cy="725.8" r="1.4"/><circle cx="152.4" cy="736.0" r="1.4"/><circle cx="141.3" cy="757.9" r="1.4"/><circle cx="139.4" cy="779.8" r="1.4"/><circle cx="142.4" cy="802.0" r="1.4"/><circle cx="142.4" cy="823.0" r="1.4"/><circle cx="139.4" cy="844.7" r="1.4"/><circle cx="138.3" cy="866.8" r="1.4"/><circle cx="141.3" cy="887.9" r="1.4"/><circle cx="141.3" cy="909.6" r="1.4"/><circle cx="136.3" cy="931.7" r="1.4"/><circle cx="141.3" cy="952.8" r="1.4"/><circle cx="156.5" cy="965.3" r="1.4"/><circle cx="178.5" cy="965.3" r="1.4"/><circle cx="199.5" cy="954.1" r="1.4"/><circle cx="201.7" cy="952.8" r="1.4"/><circle cx="221.4" cy="946.9" r="1.4"/><circle cx="243.2" cy="943.9" r="1.4"/><circle cx="265.5" cy="950.6" r="1.4"/><circle cx="268.6" cy="952.8" r="1.4"/><circle cx="286.4" cy="964.3" r="1.4"/><circle cx="304.4" cy="974.4" r="1.4"/><circle cx="308.5" cy="977.7" r="1.4"/><circle cx="330.2" cy="995.9" r="1.4"/><circle cx="345.4" cy="1017.8" r="1.4"/><circle cx="351.3" cy="1030.6" r="1.4"/><circle cx="355.6" cy="1039.8" r="1.4"/><circle cx="360.4" cy="1061.7" r="1.4"/><circle cx="363.4" cy="1083.6" r="1.4"/><circle cx="365.6" cy="1104.6" r="1.4"/><circle cx="357.6" cy="1126.5" r="1.4"/><circle cx="351.3" cy="1132.6" r="1.4"/><circle cx="329.8" cy="1148.0" r="1.4"/><circle cx="328.9" cy="1148.7" r="1.4"/><circle cx="321.5" cy="1169.7" r="1.4"/><circle cx="324.6" cy="1191.6" r="1.4"/><circle cx="329.8" cy="1211.6" r="1.4"/><circle cx="330.6" cy="1213.3" r="1.4"/><circle cx="344.3" cy="1234.6" r="1.4"/><circle cx="351.3" cy="1256.5" r="1.4"/></g>
<g fill="#0a0a14"><circle cx="1153.3" cy="64.3" r="1.4"/><circle cx="1158.2" cy="86.4" r="1.4"/><circle cx="1166.5" cy="99.4" r="1.4"/><circle cx="1170.4" cy="107.5" r="1.4"/><circle cx="1180.4" cy="129.4" r="1.4"/><circle cx="1188.4" cy="142.4" r="1.4"/><circle cx="1192.5" cy="151.3" r="1.4"/><circle cx="1202.3" cy="172.3" r="1.4"/><circle cx="1209.3" cy="190.1" r="1.4"/><circle cx="1211.4" cy="194.5" r="1.4"/><circle cx="1215.6" cy="216.2" r="1.4"/><circle cx="1217.3" cy="237.2" r="1.4"/><circle cx="1214.5" cy="259.3" r="1.4"/><circle cx="1209.3" cy="278.2" r="1.4"/><circle cx="1208.4" cy="281.2" r="1.4"/><circle cx="1203.4" cy="303.4" r="1.4"/><circle cx="1198.4" cy="324.4" r="1.4"/><circle cx="1198.4" cy="346.3" r="1.4"/><circle cx="1203.4" cy="368.0" r="1.4"/><circle cx="1208.4" cy="389.3" r="1.4"/><circle cx="1209.5" cy="397.3" r="1.4"/><circle cx="1212.3" cy="411.2" r="1.4"/><circle cx="1215.6" cy="433.3" r="1.4"/><circle cx="1219.5" cy="454.2" r="1.4"/><circle cx="1224.5" cy="476.1" r="1.4"/><circle cx="1231.4" cy="494.1" r="1.4"/><circle cx="1233.4" cy="498.2" r="1.4"/><circle cx="1231.4" cy="512.1" r="1.4"/><circle cx="1230.3" cy="519.3" r="1.4"/><circle cx="1217.3" cy="541.0" r="1.4"/><circle cx="1209.5" cy="562.6" r="1.4"/><circle cx="1198.4" cy="585.0" r="1.4"/><circle cx="1188.4" cy="594.1" r="1.4"/><circle cx="1174.5" cy="605.8" r="1.4"/><circle cx="1166.5" cy="611.0" r="1.4"/><circle cx="1144.4" cy="624.3" r="1.4"/><circle cx="1139.4" cy="628.2" r="1.4"/><circle cx="1123.5" cy="646.0" r="1.4"/><circle cx="1118.3" cy="650.3" r="1.4"/><circle cx="1101.2" cy="659.8" r="1.4"/><circle cx="1079.4" cy="665.1" r="1.4"/><circle cx="1059.7" cy="670.3" r="1.4"/><circle cx="1057.5" cy="671.3" r="1.4"/><circle cx="1036.5" cy="689.8" r="1.4"/><circle cx="1033.4" cy="693.0" r="1.4"/><circle cx="1020.4" cy="715.0" r="1.4"/><circle cx="1014.5" cy="725.8" r="1.4"/><circle cx="1010.4" cy="736.0" r="1.4"/><circle cx="999.3" cy="757.9" r="1.4"/><circle cx="997.4" cy="779.8" r="1.4"/><circle cx="1000.4" cy="802.0" r="1.4"/><circle cx="1000.4" cy="823.0" r="1.4"/><circle cx="997.4" cy="844.7" r="1.4"/><circle cx="996.3" cy="866.8" r="1.4"/><circle cx="999.3" cy="887.9" r="1.4"/><circle cx="999.3" cy="909.6" r="1.4"/><circle cx="994.3" cy="931.7" r="1.4"/><circle cx="999.3" cy="952.8" r="1.4"/><circle cx="1014.5" cy="965.3" r="1.4"/><circle cx="1036.5" cy="965.3" r="1.4"/><circle cx="1057.5" cy="954.1" r="1.4"/><circle cx="1059.7" cy="952.8" r="1.4"/><circle cx="1079.4" cy="946.9" r="1.4"/><circle cx="1101.2" cy="943.9" r="1.4"/><circle cx="1123.5" cy="950.6" r="1.4"/><circle cx="1126.6" cy="952.8" r="1.4"/><circle cx="1144.4" cy="964.3" r="1.4"/><circle cx="1162.4" cy="974.4" r="1.4"/><circle cx="1166.5" cy="977.7" r="1.4"/><circle cx="1188.2" cy="995.9" r="1.4"/><circle cx="1203.4" cy="1017.8" r="1.4"/><circle cx="1209.3" cy="1030.6" r="1.4"/><circle cx="1213.6" cy="1039.8" r="1.4"/><circle cx="1218.4" cy="1061.7" r="1.4"/><circle cx="1221.4" cy="1083.6" r="1.4"/><circle cx="1223.6" cy="1104.6" r="1.4"/><circle cx="1215.6" cy="1126.5" r="1.4"/><circle cx="1209.3" cy="1132.6" r="1.4"/><circle cx="1187.8" cy="1148.0" r="1.4"/><circle cx="1186.9" cy="1148.7" r="1.4"/><circle cx="1179.5" cy="1169.7" r="1.4"/><circle cx="1182.6" cy="1191.6" r="1.4"/><circle cx="1187.8" cy="1211.6" r="1.4"/><circle cx="1188.6" cy="1213.3" r="1.4"/><circle cx="1202.3" cy="1234.6" r="1.4"/><circle cx="1209.3" cy="1256.5" r="1.4"/></g>
<g fill="#0a0a14"><circle cx="2010.3" cy="64.3" r="1.4"/><circle cx="2015.2" cy="86.4" r="1.4"/><circle cx="2023.5" cy="99.4" r="1.4"/><circle cx="2027.4" cy="107.5" r="1.4"/><circle cx="2037.4" cy="129.4" r="1.4"/><circle cx="2045.4" cy="142.4" r="1.4"/><circle cx="2049.5" cy="151.3" r="1.4"/><circle cx="2059.3" cy="172.3" r="1.4"/><circle cx="2066.3" cy="190.1" r="1.4"/><circle cx="2068.4" cy="194.5" r="1.4"/><circle cx="2072.6" cy="216.2" r="1.4"/><circle cx="2074.3" cy="237.2" r="1.4"/><circle cx="2071.5" cy="259.3" r="1.4"/><circle cx="2066.3" cy="278.2" r="1.4"/><circle cx="2065.4" cy="281.2" r="1.4"/><circle cx="2060.4" cy="303.4" r="1.4"/><circle cx="2055.4" cy="324.4" r="1.4"/><circle cx="2055.4" cy="346.3" r="1.4"/><circle cx="2060.4" cy="368.0" r="1.4"/><circle cx="2065.4" cy="389.3" r="1.4"/><circle cx="2066.5" cy="397.3" r="1.4"/><circle cx="2069.3" cy="411.2" r="1.4"/><circle cx="2072.6" cy="433.3" r="1.4"/><circle cx="2076.5" cy="454.2" r="1.4"/><circle cx="2081.5" cy="476.1" r="1.4"/><circle cx="2088.4" cy="494.1" r="1.4"/><circle cx="2090.4" cy="498.2" r="1.4"/><circle cx="2088.4" cy="512.1" r="1.4"/><circle cx="2087.3" cy="519.3" r="1.4"/><circle cx="2074.3" cy="541.0" r="1.4"/><circle cx="2066.5" cy="562.6" r="1.4"/><circle cx="2055.4" cy="585.0" r="1.4"/><circle cx="2045.4" cy="594.1" r="1.4"/><circle cx="2031.5" cy="605.8" r="1.4"/><circle cx="2023.5" cy="611.0" r="1.4"/><circle cx="2001.4" cy="624.3" r="1.4"/><circle cx="1996.4" cy="628.2" r="1.4"/><circle cx="1980.5" cy="646.0" r="1.4"/><circle cx="1975.3" cy="650.3" r="1.4"/><circle cx="1958.2" cy="659.8" r="1.4"/><circle cx="1936.4" cy="665.1" r="1.4"/><circle cx="1916.7" cy="670.3" r="1.4"/><circle cx="1914.5" cy="671.3" r="1.4"/><circle cx="1893.5" cy="689.8" r="1.4"/><circle cx="1890.4" cy="693.0" r="1.4"/><circle cx="1877.4" cy="715.0" r="1.4"/><circle cx="1871.5" cy="725.8" r="1.4"/><circle cx="1867.4" cy="736.0" r="1.4"/><circle cx="1856.3" cy="757.9" r="1.4"/><circle cx="1854.4" cy="779.8" r="1.4"/><circle cx="1857.4" cy="802.0" r="1.4"/><circle cx="1857.4" cy="823.0" r="1.4"/><circle cx="1854.4" cy="844.7" r="1.4"/><circle cx="1853.3" cy="866.8" r="1.4"/><circle cx="1856.3" cy="887.9" r="1.4"/><circle cx="1856.3" cy="909.6" r="1.4"/><circle cx="1851.3" cy="931.7" r="1.4"/><circle cx="1856.3" cy="952.8" r="1.4"/><circle cx="1871.5" cy="965.3" r="1.4"/><circle cx="1893.5" cy="965.3" r="1.4"/><circle cx="1914.5" cy="954.1" r="1.4"/><circle cx="1916.7" cy="952.8" r="1.4"/><circle cx="1936.4" cy="946.9" r="1.4"/><circle cx="1958.2" cy="943.9" r="1.4"/><circle cx="1980.5" cy="950.6" r="1.4"/><circle cx="1983.6" cy="952.8" r="1.4"/><circle cx="2001.4" cy="964.3" r="1.4"/><circle cx="2019.4" cy="974.4" r="1.4"/><circle cx="2023.5" cy="977.7" r="1.4"/><circle cx="2045.2" cy="995.9" r="1.4"/><circle cx="2060.4" cy="1017.8" r="1.4"/><circle cx="2066.3" cy="1030.6" r="1.4"/><circle cx="2070.6" cy="1039.8" r="1.4"/><circle cx="2075.4" cy="1061.7" r="1.4"/><circle cx="2078.4" cy="1083.6" r="1.4"/><circle cx="2080.6" cy="1104.6" r="1.4"/><circle cx="2072.6" cy="1126.5" r="1.4"/><circle cx="2066.3" cy="1132.6" r="1.4"/><circle cx="2044.8" cy="1148.0" r="1.4"/><circle cx="2043.9" cy="1148.7" r="1.4"/><circle cx="2036.5" cy="1169.7" r="1.4"/><circle cx="2039.6" cy="1191.6" r="1.4"/><circle cx="2044.8" cy="1211.6" r="1.4"/><circle cx="2045.6" cy="1213.3" r="1.4"/><circle cx="2059.3" cy="1234.6" r="1.4"/><circle cx="2066.3" cy="1256.5" r="1.4"/></g>
</g>
</svg>
<div class="t" style="left:200.6px;top:11.3px;transform:scaleX(1.097)">sar2370</div>
<div class="t" style="left:938.6px;top:11.3px;transform:scaleX(1.1277)">2002-06-25-09-41-43</div>
<div class="t" style="left:1970.6px;top:11.3px;transform:scaleX(0.9106)">L5</div>
<div id="lg">
<div class="l" style="top:5.9px;transform:scaleX(0.969)">sand</div>
<div class="l" style="top:36.1px;transform:scaleX(1.060)">whitewater</div>
<div class="l" style="top:65.8px;transform:scaleX(1.032)">water</div>
<div class="l" style="top:96.9px;transform:scaleX(1.0196)">shoreline</div>
<div class="l" style="top:127.1px;transform:scaleX(1.0406)">reference shoreline buffer</div>
</div>
</body></html>
